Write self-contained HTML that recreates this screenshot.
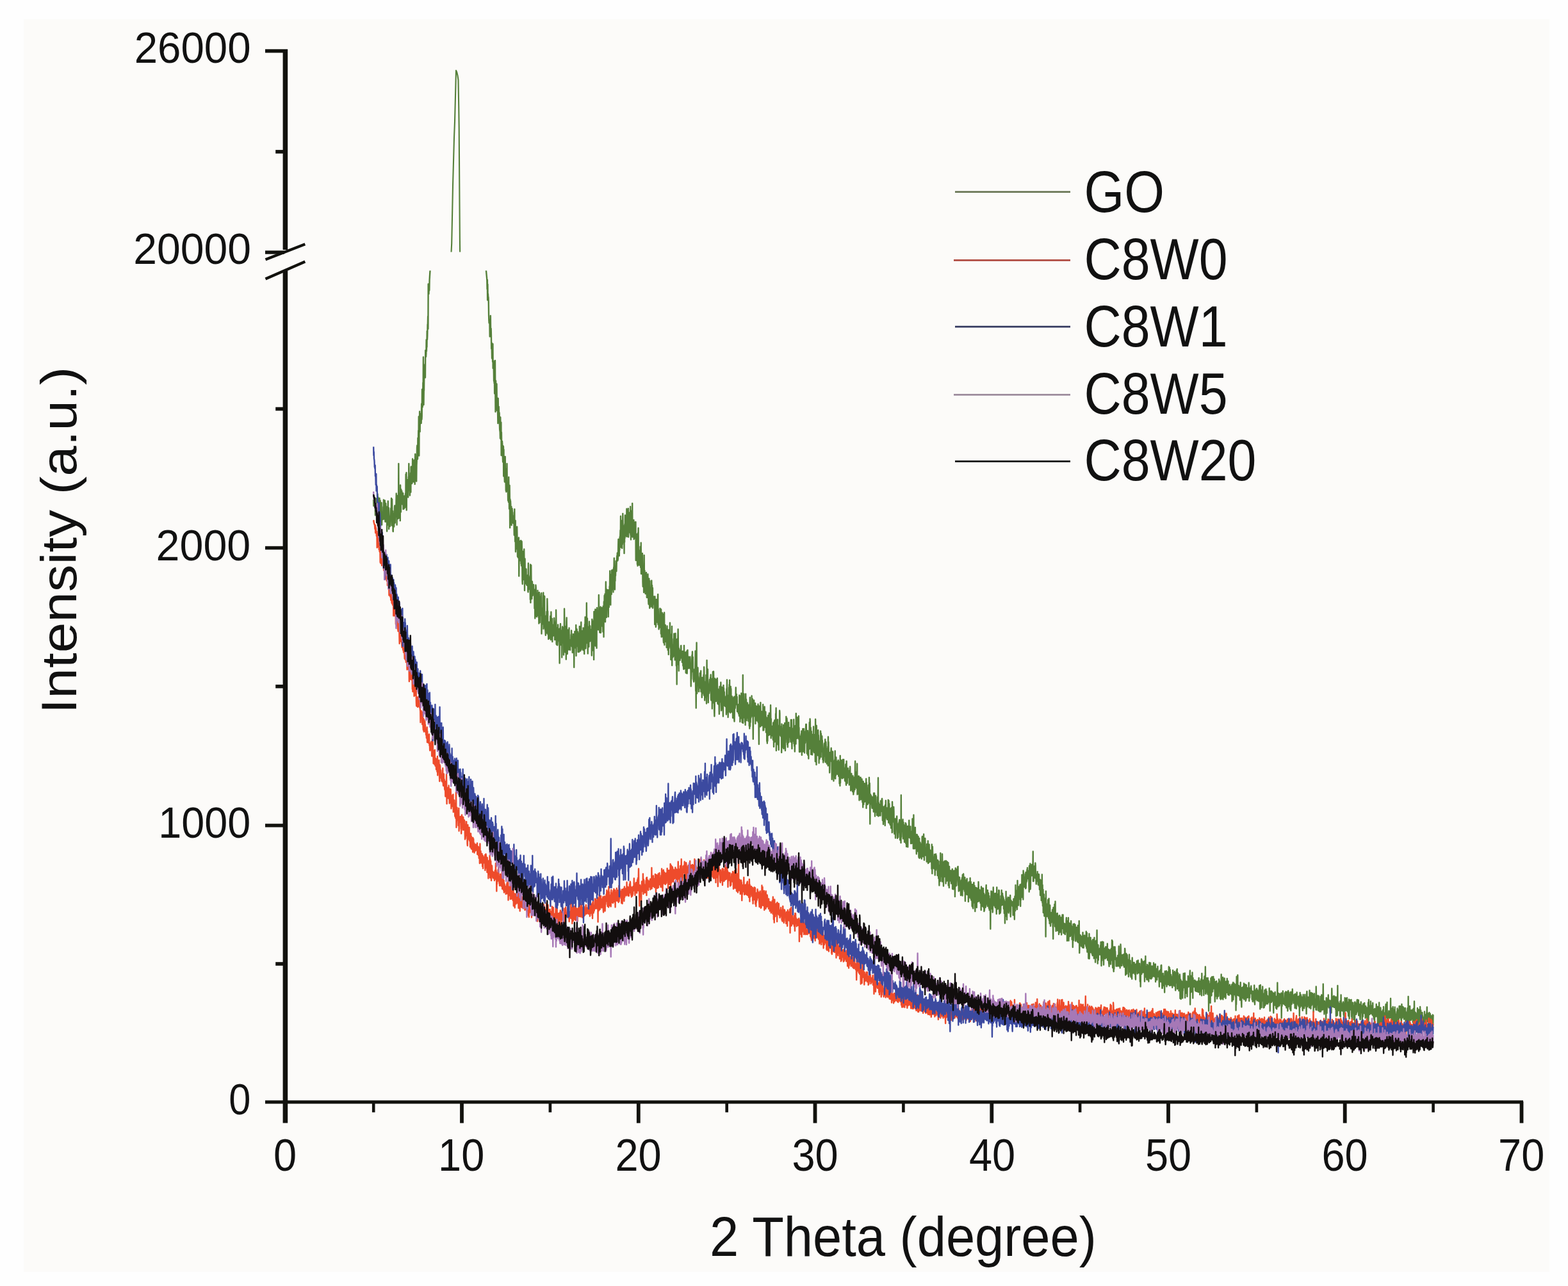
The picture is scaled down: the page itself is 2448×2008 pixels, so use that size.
<!DOCTYPE html><html><head><meta charset="utf-8"><title>XRD</title><style>html,body{margin:0;padding:0;background:#ffffff;}svg{display:block;}text{font-family:"Liberation Sans",Arial,sans-serif;fill:#111;}</style></head><body>
<svg width="2448" height="2008" viewBox="0 0 2448 2008">
<rect x="0" y="0" width="2448" height="2008" fill="#fefefe"/>
<rect x="37" y="30" width="2382" height="1956" fill="#fcfbf9"/>
<defs><clipPath id="cp" clipPathUnits="userSpaceOnUse"><rect x="440" y="0" width="1900" height="393.5"/><rect x="440" y="422.5" width="1900" height="1300"/></clipPath></defs>
<g clip-path="url(#cp)">
<path d="M0 1560 l1 20 1-14 1 5 1 2 1-4 1-4 1 17 1-1 1-25 1 53 1-5 1-35 1 27 1-22 1 8 1 18 1-43 1 52 1 11 1 1 1-42 1 34 1-70 1 42 1 18 1-50 1 36 1 90 1-13 1-51 1 2 1-50 1-6 1-5 1 55 1 6 1-39 1-15 1 42 1 2 1-12 1 40 1-40 1 3 1-28 1 35 1 34 1-35 1 0 1 11 1-4 1 8 1 0 1 3 1-39 1 31 1-53 1 53 1-43 1 34 1 16 1-25 1 15 1-48 1 22 1 44 1-51 1 51 1-57 1 14 1-5 1 32 1 15 1-45 1 26 1 50 1-54 1-13 1 34 1-17 1-13 1-31 1 74 1-39 1 16 1-30 1 66 1-15 1 6 1-30 1 16 1 11 1 4 1-20 1-11 1-9 1-11 1-6 1 36 1-17 1-50 1 52 1 33 1-38 1-44 1 47 1 25 1-17 1-18 1 63 1 1 1-56 1 25 1-13 1 11 1 18 1-19 1-21 1-21 1-5 1 21 1 33 1-25 1-7 1 5 1-7 1 14 1-48 1-24 1 33 1-12 1 77 1-51 1-3 1-37 1 50 1-26 1 48 1-9 1-46 1 32 1-149 1 117 1 53 1-14 1-18 1-6 1-40 1 0 1 44 1 42 1-111 1 77 1-1 1 8 1-71 1 28 1 15 1-31 1-7 1 9 1 21 1 12 1-12 1 1 1-22 1-2 1 50 1-34 1-2 1 27 1 8 1-1 1-16 1-23 1 8 1-5 1 33 1-32 1 8 1-20 1 38 1-98 1 67 1 9 1-81 1 117 1-66 1-2 1-27 1 53 1-20 1-24 1 21 1 12 1 13 1-30 1-34 1 9 1-50 1 42 1 40 1 1 1-28 1-9 1 53 1-38 1 15 1-16 1-31 1 60 1-79 1-1 1 20 1-10 1 3 1-3 1 43 1-26 1 5 1-56 1 19 1 53 1-66 1 65 1-64 1 36 1-34 1 27 1-32 1 16 1 53 1-60 1 66 1-72 1-22 1 33 1-15 1 58 1-27 1 6 1-4 1 34 1-50 1-12 1-43 1-7 1 26 1 17 1-3 1-63 1 47 1-27 1-43 1 40 1-84 1 66 1 56 1-103 1 24 1-59 1 26 1 37 1-56 1 23 1-15 1-6 1 10 1 3 1 15 1-17 1-44 1 49 1-10 1-84 1 57 1-2 1-1 1-18 1-57 1 23 1-103 1 94 1 55 1-43 1-2 1-45 1-20 1-8 1 26 1-33 1-2 1 42 1-85 1 2 1 15 1 3 1-9 1-44 1 36 1-18 1 5 1-50 1 27 1-11 1-37 1-1 1-24 1 39 1-140 1 31 1-22 1 22 1-23 1-7 1 19 1-32 1-10 1-9 1-8 1-8 1-8 1-6 1-7 1-5 1-5" transform="translate(583.17 0) scale(0.2757 0.5)" fill="none" stroke="#55803a" stroke-width="2.40" vector-effect="non-scaling-stroke" stroke-linejoin="round" />
<path d="M704.2 400.0 705.2 380.0 706.0 340.0 707.0 290.0 707.8 260.0 709.0 215.0 710.0 190.0 711.0 150.0 712.0 110.0 713.3 113.0 714.5 118.0 715.5 125.0 716.2 165.0 716.7 200.0 717.1 260.0 717.5 320.0 717.9 375.0 718.2 400.0" fill="none" stroke="#55803a" stroke-width="2.1" stroke-linejoin="round"/>
<path d="M0 810 l1 4 1 5 1 5 1 5 1 5 1 5 1 5 1 6 1 6 1 6 1 6 1 7 1 28 1-29 1 63 1-49 1 49 1-19 1 9 1 1 1 16 1 40 1 17 1 8 1-6 1 1 1 3 1 44 1-53 1 2 1 27 1-41 1 48 1 12 1-20 1 20 1 43 1-19 1 16 1 33 1-39 1-7 1 36 1 21 1-56 1 76 1-21 1 4 1-6 1 25 1 38 1-7 1 14 1-28 1 60 1-4 1-31 1-68 1 81 1 79 1-74 1-23 1 81 1-60 1 35 1 12 1-58 1 49 1 34 1-39 1 32 1-14 1 33 1 28 1-78 1 27 1 24 1-25 1 0 1 18 1 7 1-6 1 33 1 19 1 4 1 4 1 20 1-66 1 40 1 15 1 15 1-54 1 103 1-72 1 38 1 19 1 15 1-44 1 9 1 31 1 11 1 14 1-22 1-28 1 2 1 92 1-83 1 63 1-7 1 19 1 10 1 16 1-35 1 17 1-61 1 60 1-22 1 25 1 43 1-27 1 31 1-32 1 20 1-19 1-57 1 55 1 15 1 15 1-2 1-1 1 33 1-7 1-26 1 38 1-78 1 50 1 6 1 43 1-61 1-12 1 49 1 83 1-89 1 6 1-1 1 10 1 38 1 22 1-39 1-13 1 58 1-46 1 3 1-9 1 5 1 19 1-12 1 24 1-6 1 16 1-23 1 9 1 15 1-1 1 4 1 33 1-60 1-21 1 77 1-24 1 48 1-38 1-27 1 97 1-47 1-22 1-5 1 39 1-31 1 32 1 25 1-69 1 31 1 26 1 36 1-18 1-36 1 57 1-49 1 8 1 18 1-39 1 120 1-50 1-25 1-20 1-14 1 46 1 11 1-28 1 4 1 28 1-15 1-48 1 72 1-9 1 16 1-40 1-36 1 27 1 45 1 52 1 9 1-55 1-47 1 33 1 24 1 2 1-8 1 37 1-61 1-34 1 38 1-6 1 97 1-66 1-33 1 59 1 13 1-25 1 5 1 25 1-12 1-33 1 38 1 11 1-14 1 16 1-6 1-22 1 4 1 23 1-31 1 49 1 4 1-90 1 56 1-17 1 5 1 23 1-8 1 22 1-5 1 3 1-31 1 13 1 52 1-109 1 119 1-63 1 50 1-104 1 62 1 36 1-18 1 25 1-52 1-2 1 11 1 33 1 0 1-15 1-3 1 1 1 11 1-28 1 26 1-1 1-10 1 0 1 59 1-58 1 30 1 59 1-47 1-19 1 29 1-67 1 6 1 25 1 6 1 5 1 57 1-4 1-47 1 9 1-31 1 36 1-45 1 78 1-52 1 31 1-50 1 77 1-20 1 39 1-51 1-46 1 25 1-12 1 81 1-60 1-2 1 39 1-7 1 8 1-27 1-40 1 19 1-22 1 127 1-37 1-43 1 38 1 2 1 0 1-1 1 11 1-21 1-63 1-14 1 113 1-18 1-85 1 75 1-28 1 10 1-56 1 94 1-23 1 26 1 8 1 6 1 11 1-37 1-1 1-23 1 33 1-21 1-25 1 67 1-13 1-94 1 24 1 46 1-31 1 72 1-28 1 11 1 32 1-9 1-44 1 25 1-10 1 16 1-6 1 25 1-24 1-28 1 17 1-34 1 41 1 33 1-58 1-29 1 44 1-11 1 15 1-16 1 19 1-30 1 72 1-49 1 21 1 7 1-28 1 31 1-30 1-5 1 7 1 20 1-48 1 10 1 3 1 7 1 48 1-32 1-7 1 13 1 25 1-49 1 49 1-92 1 40 1 66 1 2 1-37 1-16 1 35 1-34 1 54 1-9 1-11 1-44 1 50 1-33 1 1 1-5 1 9 1 17 1 10 1 1 1 70 1-102 1 42 1-50 1 13 1-26 1 66 1-26 1-3 1-6 1 29 1-39 1 25 1 59 1-73 1-13 1-10 1 51 1-20 1-23 1-1 1 24 1-28 1 85 1-62 1-2 1 5 1-85 1 49 1 30 1 9 1-33 1 81 1-34 1 24 1-3 1-38 1 73 1-63 1-55 1-12 1 64 1 24 1-21 1 46 1-56 1 24 1 5 1-48 1 37 1 2 1 20 1 3 1-6 1-62 1 56 1 9 1-28 1 20 1 1 1 11 1-30 1 11 1-7 1-3 1-19 1 8 1-21 1 25 1 24 1-2 1 4 1-23 1 41 1-51 1 34 1-10 1-31 1 1 1 39 1-19 1 6 1 77 1-69 1-12 1 17 1-48 1 23 1 28 1-45 1 21 1-4 1 8 1-51 1 96 1-50 1 17 1-43 1-7 1 36 1-10 1 27 1-43 1-2 1 36 1 27 1-11 1-26 1 8 1-29 1 58 1-5 1-1 1-74 1 68 1-44 1 33 1-1 1 21 1-38 1-5 1-18 1-29 1 86 1-55 1 43 1-29 1-5 1 41 1-3 1-51 1 22 1 4 1 34 1-69 1 23 1 8 1 38 1-11 1-40 1 63 1-37 1-34 1-21 1 29 1-52 1 70 1 9 1 19 1-21 1-61 1 39 1 26 1-125 1 82 1 39 1-16 1-57 1 41 1 14 1 55 1-69 1-14 1 31 1 2 1 5 1 24 1-42 1-37 1 38 1-1 1 25 1-4 1-44 1 41 1 5 1-33 1 30 1-22 1 0 1-10 1 25 1 56 1-74 1-39 1 25 1-10 1 23 1-13 1 72 1-50 1 30 1-72 1 13 1 108 1-150 1 49 1-48 1 85 1-83 1 30 1 2 1-42 1 114 1-74 1 49 1-65 1-22 1 46 1-2 1 75 1-111 1-15 1 23 1 28 1 6 1-37 1 10 1 25 1 14 1-60 1 32 1-81 1 49 1 38 1-13 1-6 1 49 1-53 1-23 1 35 1-1 1-38 1 81 1-4 1-65 1-9 1 21 1 36 1-52 1-5 1 2 1 22 1 4 1-18 1 37 1 28 1-80 1 44 1-16 1 68 1-110 1 14 1 11 1-44 1 32 1 25 1-62 1 46 1 41 1-81 1 3 1-47 1 66 1-44 1 60 1 29 1-32 1-39 1 39 1-33 1-21 1 17 1 19 1-19 1 23 1 44 1-45 1 3 1-42 1 54 1-29 1 17 1-53 1 27 1-75 1 54 1-16 1-6 1 74 1-94 1 36 1-2 1 17 1 10 1-75 1 27 1-7 1 36 1 4 1-40 1-6 1-16 1 36 1 34 1-39 1-33 1-6 1 1 1-29 1 92 1-49 1-14 1 69 1-59 1 32 1-36 1 20 1-31 1-15 1 19 1 6 1 7 1-27 1-15 1-6 1 16 1-25 1 2 1 22 1-2 1-5 1-38 1-22 1 46 1-7 1-17 1 14 1 16 1-32 1 14 1-41 1 18 1-19 1-20 1 50 1-94 1 76 1 21 1-13 1-57 1 47 1-60 1 24 1 62 1-38 1 26 1-66 1-30 1 35 1 55 1-12 1 2 1-36 1-1 1-5 1 86 1-81 1 46 1-56 1 43 1-71 1 15 1 23 1-28 1 4 1 5 1-12 1 58 1-13 1-72 1 87 1-50 1-1 1-4 1 29 1-5 1-35 1 16 1-38 1 89 1-76 1-1 1 5 1 25 1 17 1-30 1 11 1-10 1 46 1-29 1-53 1 89 1-23 1 37 1-71 1 5 1 9 1-33 1 30 1 47 1-14 1-86 1 105 1-24 1 14 1-20 1 6 1-2 1 2 1-29 1 60 1-21 1 7 1 1 1-16 1 9 1-33 1 47 1 3 1-12 1-39 1 120 1-71 1 8 1-6 1-5 1 9 1-17 1 17 1 77 1-21 1 26 1-71 1-32 1 18 1-33 1 108 1 7 1-28 1 10 1 3 1-10 1 26 1-46 1 19 1 8 1-39 1 22 1 43 1 0 1-77 1 97 1-14 1 14 1-21 1 20 1-50 1 28 1-41 1 40 1 50 1 14 1-42 1-21 1 45 1-7 1 43 1-34 1-82 1 69 1-9 1-12 1 28 1 0 1-10 1 54 1-30 1 2 1-1 1 27 1-64 1 67 1-39 1 50 1 0 1-25 1-25 1 22 1 4 1-49 1 33 1-9 1 60 1 10 1-66 1 7 1-21 1 46 1 17 1 29 1-85 1 64 1-29 1-14 1 5 1-4 1 36 1-11 1 34 1-57 1-25 1 26 1 39 1-50 1 22 1 37 1-51 1 63 1-13 1-24 1 17 1-11 1 4 1 3 1 12 1-2 1-17 1-5 1 87 1-87 1 28 1 39 1-4 1-46 1 78 1-5 1-57 1-24 1 54 1-21 1-1 1-13 1 8 1 22 1 23 1-81 1-7 1 94 1-48 1 44 1-14 1 33 1-8 1-31 1 5 1 22 1 6 1-36 1-23 1 46 1-3 1-1 1-22 1 59 1-76 1 35 1 51 1-65 1 43 1 2 1 1 1-56 1 74 1-22 1 11 1-4 1-6 1 33 1 7 1-89 1 31 1 18 1-54 1 101 1-60 1 37 1-8 1-15 1-16 1 18 1 14 1 20 1-26 1-4 1 5 1 43 1-27 1-25 1-15 1 24 1-13 1 15 1 49 1-17 1-6 1 0 1 37 1-77 1 44 1-21 1 14 1 2 1-12 1 24 1-73 1 68 1 11 1-43 1 0 1 79 1-75 1 15 1-10 1 5 1-1 1-38 1 122 1-83 1 30 1-11 1 39 1-17 1 12 1 2 1-8 1-21 1 24 1-66 1 67 1-4 1-10 1-43 1 72 1-53 1 36 1-66 1 45 1-11 1-3 1 4 1 66 1-48 1 11 1 95 1-141 1 80 1-50 1-6 1 6 1-36 1-25 1 44 1 16 1 35 1 35 1-70 1 28 1 3 1-17 1 18 1-26 1 31 1-20 1 8 1 6 1-2 1-37 1-1 1 35 1-13 1 2 1 12 1-15 1 31 1 0 1-34 1 35 1-35 1 45 1-2 1-15 1 24 1 4 1-14 1-60 1 53 1 7 1 12 1-47 1 46 1-9 1 2 1-43 1 11 1 53 1-7 1-24 1 32 1-21 1-17 1-31 1 70 1-30 1 10 1-53 1 34 1 23 1-14 1-12 1-10 1 36 1-15 1 2 1 2 1-23 1 23 1-7 1 18 1-36 1 7 1 31 1-5 1 9 1 50 1-33 1 11 1-18 1-13 1-17 1-27 1 12 1-23 1 32 1-11 1-4 1 47 1-10 1 35 1 1 1 4 1-3 1-15 1-20 1 26 1-17 1 2 1 17 1-39 1-47 1 86 1 39 1-17 1 70 1-134 1 7 1-77 1 87 1 72 1-6 1-68 1 12 1-6 1-13 1 30 1-2 1 12 1 5 1 12 1 18 1-37 1-3 1 6 1 12 1-14 1-22 1 13 1 33 1-45 1 48 1-56 1 65 1-13 1-20 1 5 1-4 1 50 1-55 1-7 1 30 1 19 1-20 1-12 1 31 1-45 1 0 1-12 1 64 1-88 1 24 1 46 1-1 1 35 1-33 1-24 1 49 1-7 1 2 1-2 1-13 1-51 1 11 1 78 1-49 1-86 1 87 1 24 1-14 1-9 1-60 1 62 1-5 1 47 1-43 1-1 1-9 1 8 1 16 1-25 1-9 1-9 1 35 1-11 1 1 1-31 1 19 1-28 1 74 1 6 1-19 1-13 1 15 1-50 1 5 1 88 1-80 1 25 1-15 1-45 1 45 1 39 1 13 1-98 1 25 1 26 1 40 1 31 1 18 1-30 1-54 1-34 1 70 1-30 1 7 1-9 1-9 1 42 1-49 1-19 1 27 1 21 1-10 1 5 1-47 1 28 1 51 1-32 1-13 1 47 1-43 1 34 1-14 1 6 1 16 1 32 1-25 1-54 1-7 1 21 1 4 1 23 1-17 1 4 1-48 1 43 1 25 1 20 1-7 1-33 1-33 1 31 1 1 1-4 1 11 1 7 1-1 1 46 1-82 1-15 1 51 1-42 1 27 1 4 1-19 1 42 1-4 1-12 1 12 1 7 1-29 1 23 1-11 1-3 1-12 1 57 1-36 1-44 1 49 1-77 1 72 1 13 1 17 1-30 1-23 1 68 1-23 1 7 1-39 1 23 1-61 1 66 1-75 1 28 1-42 1 99 1-6 1-38 1 47 1-29 1-53 1 41 1-34 1 47 1 8 1-28 1 40 1 6 1-49 1 37 1-16 1-5 1 51 1-61 1 9 1 8 1 17 1 5 1-43 1 59 1 12 1 5 1-47 1-17 1-14 1 37 1-11 1 1 1-14 1-41 1 49 1 4 1-5 1-27 1 30 1 3 1-25 1 46 1-19 1 6 1 14 1-23 1 4 1 16 1 6 1 3 1-27 1 25 1 9 1-65 1 26 1 8 1 3 1 46 1-16 1-33 1 0 1-32 1 10 1 60 1-78 1 60 1-34 1 3 1 13 1 49 1-38 1 15 1 23 1-148 1 150 1-90 1 9 1 51 1-48 1-13 1 74 1-44 1 39 1-12 1-17 1 48 1-49 1 58 1-74 1-23 1 28 1 24 1-35 1 11 1 55 1-32 1 25 1-12 1-32 1-4 1 24 1-3 1-15 1 0 1 51 1-10 1-13 1-22 1-2 1 62 1-66 1 74 1-76 1-21 1 90 1-56 1 44 1-28 1-17 1 30 1-31 1 19 1-15 1-41 1 63 1-42 1 21 1 15 1-47 1 51 1 1 1 73 1-66 1-5 1-32 1 17 1-35 1 46 1-14 1-4 1 10 1 12 1-5 1-36 1 64 1-32 1 8 1-8 1-23 1 31 1-16 1-11 1 25 1 17 1-4 1-10 1-32 1 13 1 10 1-29 1 57 1-18 1-34 1 70 1 50 1-119 1 25 1-12 1 40 1-53 1 47 1-2 1 19 1-75 1 29 1 14 1 30 1-22 1 17 1 2 1-42 1 20 1-6 1 2 1-14 1 42 1-11 1-55 1 81 1-46 1-23 1 68 1-31 1 10 1-12 1 3 1-43 1 64 1-37 1 19 1-2 1-21 1-7 1 28 1 36 1-48 1 2 1 18 1-17 1 73 1-37 1 43 1-57 1 50 1-69 1 21 1-32 1 9 1 11 1 23 1 19 1-40 1-29 1 37 1-4 1-8 1 34 1 8 1-59 1 14 1-47 1 50 1 53 1-60 1 46 1-5 1-1 1 1 1-18 1 28 1 2 1-18 1-9 1 34 1 5 1-53 1 55 1-37 1 57 1-66 1-7 1-7 1 65 1-68 1 43 1-29 1 47 1 6 1-11 1-76 1 12 1-30 1 133 1-81 1 5 1 12 1 14 1-29 1 18 1-4 1-32 1 78 1-1 1-43 1-3 1 50 1 14 1-59 1 14 1-32 1 26 1-72 1 8 1 67 1-15 1 14 1-7 1 13 1-8 1-11 1 15 1-27 1 82 1-89 1 15 1 32 1-31 1 33 1 13 1-17 1-30 1 59 1-36 1-35 1 74 1-45 1 11 1 7 1-35 1 36 1-54 1 7 1 15 1 64 1-39 1 14 1-39 1 24 1-66 1 47 1 17 1-24 1-35 1 8 1 57 1 18 1-43 1 50 1-73 1 48 1-7 1 18 1-63 1 62 1-22 1-24 1 10 1 6 1 13 1-28 1 0 1 23 1-3 1 14 1 10 1-69 1 44 1 14 1-10 1-48 1 65 1 25 1-47 1-16 1 40 1-19 1 2 1 3 1-17 1 12 1-18 1-31 1 75 1-19 1-9 1 36 1-37 1 54 1-30 1-27 1-24 1 43 1-6 1 20 1-95 1 67 1 9 1 2 1-5 1 5 1-66 1 51 1-9 1-22 1 42 1-13 1-19 1-6 1 43 1-71 1 61 1-25 1 31 1 45 1-2 1-47 1 39 1 10 1-22 1 21 1-40 1 10 1-18 1-7 1 10 1-19 1 17 1 58 1-38 1-22 1 48 1-7 1-63 1 10 1 61 1-41 1 2 1-17 1-15 1 57 1-49 1 34 1 33 1-33 1-18 1 21 1-2 1-25 1 18 1-37 1-13 1 30 1-30 1 28 1 13 1 8 1 42 1-69 1 11 1 0 1-13 1 76 1-70 1 14 1 1 1 66 1-69 1-11 1 51 1-48 1-36 1 82 1-5 1-88 1 8 1 56 1-23 1-14 1 8 1 76 1-18 1-54 1 24 1 7 1-11 1 8 1 45 1-60 1-3 1 19 1-16 1 6 1 1 1-35 1 77 1-47 1 51 1-55 1-1 1 30 1-13 1 29 1-4 1 42 1-132 1 48 1 26 1-4 1 5 1 67 1-122 1 75 1-23 1 7 1 27 1-28 1 22 1 13 1-2 1-77 1 32 1-16 1 13 1 16 1 58 1-69 1 9 1 4 1 43 1-52 1 26 1 10 1-6 1-65 1 19 1 62 1-73 1 39 1-31 1 48 1-11 1-37 1 33 1-20 1 14 1 46 1-24 1 2 1 31 1-36 1 31 1-22 1-3 1-15 1-11 1-4 1 3 1 37 1-2 1-50 1 71 1-45 1 6 1-24 1 14 1 44 1-10 1-27 1 47 1-31 1 4 1 25 1-14 1-19 1-18 1 59 1-90 1 44 1-28 1 30 1 36 1-29 1-1 1 9 1 51 1-14 1-28 1-21 1 7 1 19 1-14 1 3 1-22 1-7 1 7 1 36 1-30 1 85 1-48 1 3 1 10 1-50 1-2 1 23 1 21 1 0 1 27 1 21 1-34 1 25 1-42 1 15 1-27 1-3 1 34 1-62 1 75 1 12 1-57 1 47 1-29 1-28 1 34 1 4 1 13 1-32 1 12 1-18 1 40 1-26 1 23 1-36 1 20 1-25 1 5 1 45 1-31 1 3 1 20 1-36 1 67 1-65 1 9 1 63 1-94 1 85 1-33 1 4 1-37 1 30 1-35 1 55 1-33 1-5 1 4 1 8 1 28 1-14 1-27 1-18 1 13 1 44 1-7 1-38 1-12 1 38 1-12 1 27 1-16 1 13 1 11 1 6 1-29 1 22 1-30 1-15 1 35 1 24 1 6 1-35 1-40 1 50 1-13 1 21 1 11 1-36 1-6 1 8 1-6 1-7 1 29 1-22 1 11 1 0 1-6 1 40 1-36 1 8 1 23 1-22 1-30 1 23 1 1 1 27 1 24 1-34 1-7 1 38 1-50 1 24 1 5 1-12 1-3 1 9 1 33 1-22 1-27 1 21 1 17 1 20 1-23 1-13 1 28 1-11 1-17 1-18 1 18 1 21 1-47 1-42 1 81 1-48 1 6 1 27 1-1 1 8 1 3 1 9 1-17 1-14 1-46 1 96 1-10 1-4 1-14 1-19 1 40 1-20 1-30 1 56 1-56 1 23 1 52 1-59 1 23 1 21 1-23 1-33 1 22 1 11 1-33 1 69 1-26 1 10 1-10 1 4 1-17 1-25 1 61 1-25 1 36 1-63 1 32 1 47 1-81 1 4 1 33 1 35 1-66 1 29 1-5 1-8 1 8 1 34 1-24 1-33 1 16 1 17 1-34 1 17 1 7 1-38 1 92 1-80 1 39 1-10 1-4 1 43 1-26 1-21 1 47 1-13 1-37 1-10 1 56 1-23 1-30 1 47 1-74 1 46 1-2 1-26 1 62 1 65 1-65 1-5 1-22 1 12 1 8 1 9 1-25 1 13 1-6 1 19 1 9 1 4 1-34 1-1 1 28 1-21 1-4 1 21 1-1 1 23 1-58 1 54 1-36 1 27 1-45 1 27 1-10 1 55 1-62 1 49 1-44 1-7 1 33 1 18 1-25 1 15 1-7 1-7 1 34 1-31 1 20 1-46 1 23 1 26 1-40 1-69 1 120 1-17 1-25 1 15 1-9 1 17 1 17 1-18 1-9 1-8 1 8 1-7 1 34 1-46 1 11 1 22 1 0 1-1 1-15 1 15 1-37 1-2 1 6 1 39 1 23 1-41 1-2 1 6 1 49 1-36 1-2 1-15 1 25 1 19 1-25 1-22 1 48 1-29 1 41 1-64 1 21 1 10 1-45 1 42 1 12 1-16 1 13 1-5 1-23 1 36 1-33 1 11 1-10 1 32 1-25 1 1 1-37 1 42 1 29 1-69 1 56 1-9 1-37 1 30 1 31 1-21 1 9 1 17 1-32 1 28 1-47 1 9 1 52 1-1 1-9 1-54 1 29 1-14 1 63 1-96 1 26 1 15 1 21 1-29 1 16 1 14 1-5 1-42 1 14 1 65 1-35 1 40 1-7 1-7 1-23 1 33 1-43 1 60 1-36 1 1 1-21 1-4 1 8 1-5 1-7 1-4 1 29 1 22 1 18 1-26 1-19 1 17 1 25 1-34 1 19 1-13 1-5 1-14 1 28 1-33 1-3 1 30 1 14 1 19 1-20 1-25 1 4 1 28 1 22 1-149 1 131 1-21 1-6 1-14 1 2 1-12 1 33 1-26 1 17 1-28 1 60 1-11 1-40 1 36 1-18 1-10 1 21 1 18 1 15 1-27 1 21 1-11 1 1 1 7 1-51 1 22 1 42 1-61 1 11 1 60 1-63 1 26 1 3 1-11 1 27 1-1 1-45 1 65 1-55 1 8 1 7 1 8 1-28 1 30 1-53 1 38 1-9 1 5 1 13 1 8 1-21 1 18 1-33 1 25 1 28 1-34 1 8 1 7 1 19 1-9 1-11 1-18 1 31 1-70 1 71 1-24 1 30 1-15 1 31 1-42 1-63 1 78 1-10 1 9 1 28 1-45 1 45 1-5 1 4 1-65 1 47 1-18 1 6 1-7 1 11 1 27 1 17 1-21 1-40 1 53 1-52 1 18 1 33 1-36 1 28 1-20 1-18 1 29 1-15 1 49 1 3 1-6 1-54 1 62 1-33 1 5 1-6 1-15 1 15 1 16 1 15 1-20 1-11 1-10 1 4 1 42 1-20 1-9 1-39 1-2 1 52 1 0 1 11 1-19 1-17 1-22 1 17 1-29 1 56 1 5 1 20 1-68 1 10 1 44 1-6 1-48 1 28 1 17 1-9 1 17 1-7 1-12 1 21 1-9 1 27 1-55 1 27 1-9 1 10 1 20 1 0 1-58 1 70 1-13 1 1 1-9 1 19 1-11 1-46 1 25 1 9 1-2 1-1 1 23 1-36 1 9 1-5 1 21 1 11 1-28 1 28 1-19 1 41 1-76 1 48 1 43 1-50 1-34 1 25 1 31 1-23 1 34 1-20 1-12 1 3 1 19 1 12 1-37 1-8 1 1 1 35 1 29 1-48 1 25 1-22 1 29 1-50 1 44 1-39 1 10 1 25 1-11 1 4 1 13 1-4 1 25 1-15 1-33 1 17 1-10 1 4 1 46 1-53 1 44 1 5 1 26 1-56 1 5 1 2 1-14 1 46 1 4 1-88 1 41 1 32 1-46 1 8 1 15 1 0 1-3 1 1 1 41 1-86 1 39 1-13 1 29 1-14 1 20 1-9 1 48 1-75 1 18 1 29 1-26 1 11 1-35 1 48 1-17 1 14 1-30 1-2 1 4 1 53 1-71 1 46 1-3 1 21 1-20 1-27 1 32 1-46 1 59 1-24 1-13 1 5 1 23 1-47 1 71 1-50 1 47 1-27 1 37 1-66 1 45 1-20 1-11 1 31 1-22 1-10 1 11 1-11 1 12 1 4 1 24 1-24 1-14 1 32 1-23 1-12 1-4 1 62 1-39 1 37 1-54 1-1 1 58 1-41 1 2 1 0 1-16 1 43 1-46 1 41 1-38 1 78 1-39 1 8 1-58 1 43 1-20 1-20 1 17 1 35 1-16 1-11 1-2 1 0 1 3 1 5 1-37 1 25 1-27 1 46 1 13 1-21 1 39 1-44 1 17 1 24 1-19 1-21 1 29 1-20 1 32 1-7 1-20 1 16 1 26 1-12 1-6 1-21 1-7 1-3 1 37 1-43 1 31 1 25 1-65 1 40 1-27 1 18 1 14 1-48 1 11 1 19 1 13 1-12 1-11 1 34 1-37 1-6 1 32 1 42 1-54 1 9 1-18 1 8 1-10 1 29 1-19 1-2 1 36 1-49 1 50 1-23 1-14 1 18 1-5 1 13 1-11 1 44 1-17 1 2 1-47 1 18 1 31 1-11 1-12 1-1 1 23 1-60 1 22 1-10 1 52 1-52 1 23 1 34 1-39 1 18 1-5 1 14 1 31 1-68 1 23 1 35 1 15 1-53 1 55 1-36 1 0 1-41 1-4 1 36 1-5 1 1 1-22 1 54 1-33 1 59 1-59 1 12 1 8 1-22 1-13 1 0 1 22 1-10 1 50 1-50 1 26 1 2 1-13 1-25 1 33 1 9 1-16 1-2 1-44 1 22 1 18 1 8 1 12 1-21 1 12 1-26 1 33 1 3 1-17 1 22 1-25 1-4 1 5 1 46 1-73 1 37 1-11 1 10 1-32 1 57 1-13 1-18 1-3 1 10 1 18 1-50 1 59 1-34 1 24 1-33 1 56 1-34 1 31 1-48 1 0 1 36 1-9 1-7 1 19 1-9 1-23 1-30 1-8 1 59 1-2 1-29 1 29 1-15 1 6 1 18 1-50 1 38 1 4 1-14 1 7 1-26 1 26 1 21 1-8 1-30 1 44 1-23 1 18 1-25 1 13 1-4 1 80 1-94 1 29 1-23 1-30 1 40 1 15 1-10 1 1 1-44 1 35 1-34 1 63 1-4 1-52 1 13 1-35 1 28 1 6 1-14 1 7 1 29 1-18 1 20 1-18 1 6 1-27 1 44 1-42 1 16 1-18 1 35 1-31 1 33 1 27 1-32 1-51 1 65 1-17 1 9 1-4 1 15 1-2 1-22 1-23 1 23 1 17 1-52 1 40 1-39 1 58 1 15 1-19 1-26 1 24 1 11 1 7 1-5 1-6 1-42 1 18 1 12 1-9 1-39 1 35 1-10 1 18 1 3 1-36 1 14 1 19 1-24 1 20 1-16 1 3 1 32 1-20 1-8 1 42 1-37 1 6 1 2 1 60 1-47 1 5 1-25 1 25 1 6 1-63 1 57 1 17 1 4 1-31 1 41 1-59 1 34 1-9 1-32 1 41 1-45 1 12 1 11 1-22 1 48 1-33 1-15 1 29 1-5 1-21 1 11 1 28 1-1 1-48 1 51 1 16 1-13 1-32 1-6 1 14 1-11 1 8 1-7 1 6 1-4 1 10 1 2 1-11 1-3 1 42 1-14 1-9 1-28 1 29 1-16 1 14 1-8 1 45 1-50 1-22 1 41 1 1 1 3 1-80 1 33 1 2 1-18 1 35 1 10 1 7 1-4 1-19 1 30 1-27 1-63 1 49 1-10 1 21 1-17 1 1 1 33 1-44 1-14 1 36 1 3 1-17 1 1 1-13 1-16 1 10 1-8 1 65 1-51 1 32 1-33 1-17 1 21 1-2 1 22 1-70 1 31 1 15 1-25 1 17 1-10 1 34 1 15 1-90 1 9 1 14 1 14 1-3 1-9 1 22 1 4 1-18 1-9 1 6 1-20 1 34 1 12 1-51 1 49 1-33 1 17 1-18 1-4 1 17 1-36 1 14 1-20 1 34 1-16 1-2 1-5 1 23 1-8 1-11 1-6 1 47 1 19 1-81 1 49 1-15 1-5 1 2 1-38 1 80 1-9 1-43 1-1 1 3 1-18 1 26 1-14 1-21 1 12 1-4 1 1 1 5 1 21 1-22 1-54 1 93 1-43 1 43 1-25 1 7 1-29 1 20 1-10 1 7 1 11 1-17 1 26 1-47 1 7 1 32 1 3 1 12 1 12 1-17 1 0 1-9 1-1 1-4 1 5 1-13 1 10 1 21 1-5 1 15 1-32 1 4 1 19 1-24 1 2 1 34 1-16 1 28 1-12 1-9 1-10 1 49 1-24 1-13 1-10 1 8 1 12 1 43 1-40 1 27 1 1 1-69 1 44 1 44 1-55 1 65 1-21 1-30 1 72 1-37 1 36 1-26 1-30 1 52 1 16 1-9 1-47 1 38 1-34 1 13 1 40 1-54 1 117 1-142 1 32 1 42 1-17 1 2 1-14 1 34 1-9 1-8 1-11 1-12 1 30 1-42 1 31 1 25 1 2 1-21 1-41 1 62 1 7 1-16 1 25 1-5 1-52 1 29 1-5 1 41 1-9 1-18 1 9 1 7 1-31 1 11 1 2 1-6 1 2 1 11 1-29 1 3 1 49 1 4 1 35 1-98 1 42 1-38 1 21 1 7 1 12 1 4 1-58 1 36 1 33 1-18 1-60 1 39 1 4 1 35 1 15 1-55 1 32 1-15 1 17 1-15 1-17 1 9 1-12 1 54 1-43 1 26 1-27 1 4 1 18 1-15 1 49 1-12 1-47 1 32 1 20 1-52 1 15 1 37 1-44 1 29 1-14 1 6 1-23 1 18 1-6 1 42 1-21 1-10 1-2 1 14 1-43 1 11 1 2 1 3 1-16 1 42 1-18 1 33 1-26 1-4 1 16 1 0 1-13 1 16 1 14 1-32 1 33 1-28 1 21 1-17 1-6 1 13 1-26 1-9 1 30 1-3 1-17 1 62 1-32 1-21 1 24 1 1 1-17 1 3 1-30 1 40 1 32 1-14 1-1 1-31 1-9 1 38 1-11 1-9 1-2 1 25 1-6 1-20 1 7 1-29 1 10 1 33 1-28 1 2 1 22 1 19 1-39 1 10 1 1 1 52 1-27 1-13 1-32 1 51 1-12 1-14 1-24 1 20 1-22 1 24 1-1 1-8 1 11 1-23 1 51 1-23 1-19 1 37 1-4 1-19 1-15 1 21 1 13 1 4 1 6 1-1 1-43 1 30 1-36 1 53 1-10 1 10 1-16 1-1 1-9 1-41 1 48 1 52 1-24 1-27 1 11 1 2 1-18 1 11 1 7 1-15 1 18 1 14 1-6 1-10 1-8 1 17 1-23 1-1 1 35 1-29 1-18 1 41 1-2 1 8 1-22 1 23 1-23 1-15 1 15 1 10 1-26 1 17 1 9 1-12 1 10 1-2 1-14 1 21 1 5 1-46 1 24 1 28 1-6 1-42 1 39 1 21 1-9 1-1 1-16 1 4 1-22 1 22 1 42 1-42 1-16 1 27 1-46 1 78 1-21 1-29 1 4 1-10 1 19 1-1 1-28 1 46 1-24 1-13 1 37 1-3 1-23 1-1 1 32 1-27 1 11 1 21 1-46 1-4 1 12 1 5 1 11 1 17 1-25 1 39 1-26 1-39 1 35 1 13 1 8 1-33 1 12 1 42 1-37 1-19 1-11 1 20 1 15 1-27 1 45 1-38 1-48 1 74 1-11 1-5 1 46 1-52 1 24 1-30 1 47 1-29 1 1 1 10 1-12 1 10 1-15 1 18 1-9 1-11 1 20 1-1 1-27 1 13 1-24 1 32 1 13 1 29 1-38 1 14 1 8 1-13 1-46 1 25 1 14 1 0 1-3 1-18 1-17 1 40 1 31 1-45 1 18 1-19 1 7 1-7 1 25 1-31 1 19 1 14 1-16 1-21 1 34 1-15 1-19 1 19 1-2 1 17 1-19 1 10 1 9 1-44 1 51 1-16 1-18 1 20 1 16 1-30 1-5 1 42 1 3 1 8 1-34 1-17 1 0 1 11 1-11 1 25 1 15 1-41 1 45 1-41 1 3 1-11 1 37 1-14 1 2 1-51 1 40 1 16 1-53 1 83 1-29 1 14 1-24 1 21 1 25 1 5 1-77 1 69 1-55 1 22 1-9 1 4 1-31 1 29 1-15 1 18 1 8 1-3 1-3 1 26 1-18 1 5 1 13 1-24 1 3 1 10 1-16 1 27 1-33 1 8 1 1 1-2 1 5 1-8 1-33 1 62 1-27 1 20 1-31 1 29 1-32 1 47 1-27 1-5 1-42 1 11 1 30 1-2 1 0 1 3 1 25 1-23 1 0 1-6 1-5 1 25 1-13 1 1 1 11 1-3 1 12 1 0 1-35 1 9 1 31 1-24 1 18 1-26 1-26 1 4 1 26 1 5 1 48 1-27 1 0 1 4 1-44 1 29 1-2 1 36 1-46 1-13 1 27 1-4 1 5 1 3 1-1 1-14 1 4 1 48 1-51 1 20 1-26 1-12 1 46 1-12 1 20 1-5 1-13 1-17 1 47 1-32 1 36 1-24 1 4 1-5 1-2 1-11 1 44 1-55 1-11 1 32 1-16 1 28 1-19 1 23 1-18 1-15 1 6 1 19 1-22 1-3 1 11 1 9 1 16 1-14 1 8 1-18 1 35 1 6 1-48 1 15 1-6 1 8 1-10 1-7 1-10 1 14 1 9 1 17 1-7 1-17 1-4 1-14 1 37 1-9 1 9 1 2 1-3 1-11 1-3 1-12 1 0 1 25 1 31 1-45 1 11 1 50 1-48 1-11 1 6 1-4 1-29 1 47 1-44 1 21 1 2 1 15 1-11 1-4 1-18 1 34 1-14 1-6 1-11 1 9 1 17 1-29 1 29 1-1 1 34 1-47 1-18 1 28 1-4 1-38 1 65 1-13 1-5 1-15 1 19 1-10 1 32 1-15 1 12 1-44 1 6 1 8 1-3 1 37 1-20 1-24 1 14 1 35 1-36 1 16 1-39 1 20 1 7 1-6 1 9 1 6 1 14 1-49 1 31 1 11 1-8 1 16 1-22 1-4 1-7 1 30 1-37 1 14 1 7 1 11 1-15 1-10 1 25 1-28 1 7 1-21 1 38 1-2 1-31 1 25 1 13 1-20 1-17 1 27 1 12 1-41 1 55 1-25 1 17 1-33 1 33 1-10 1 8 1-11 1 15 1-19 1-4 1-10 1-9 1 28 1-7 1 4 1-2 1 10 1-5 1-10 1 23 1 22 1-49 1 7 1 17 1-21 1 29 1-28 1-8 1 4 1 34 1-51 1 36 1-37 1 48 1-6 1 5 1 25 1-36 1 36 1-25 1 8 1-29 1 31 1-23 1 30 1-9 1-14 1 9 1-1 1-4 1 40 1-57 1-9 1 1 1 18 1 4 1 12 1 5 1-12 1-1 1-28 1 42 1 7 1-25 1 14 1-22 1 11 1 2 1 13 1-39 1 26 1 14 1-9 1 5 1-52 1 27 1 7 1-5 1-26 1 56 1-14 1-36 1 24 1 9 1 16 1-5 1-28 1 6 1 15 1 12 1-23 1-3 1 20 1-7 1 20 1-14 1 8 1-48 1 10 1-3 1 6 1 25 1-10 1 13 1-21 1 29 1-2 1-43 1 11 1 8 1 24 1-1 1 17 1-55 1 29 1-4 1-4 1 2 1-31 1 39 1-18 1-25 1 62 1-35 1 15 1-15 1-14 1 18 1 13 1-22 1 26 1 20 1-9 1-24 1-8 1 28 1-38 1 6 1 69 1-45 1 2 1-16 1 56 1 5 1-54 1 16 1-18 1 13 1 15 1-1 1-25 1 11 1 40 1-31 1 8 1-14 1-11 1-29 1 15 1-12 1 10 1-7 1 38 1-40 1 35 1-40 1 77 1-54 1 16 1 24 1-33 1 5 1 1 1 7 1-17 1 37 1-10 1-16 1 36 1-40 1-7 1 7 1 10 1-34 1 21 1 13 1-26 1 24 1-24 1 22 1-5 1 7 1-26 1-12 1-11 1 106 1-87 1 11 1-14 1 52 1-12 1 3 1-34 1 37 1-30 1 34 1-23 1-37 1 37 1-13 1 56 1-63 1 17 1 1 1-10 1 2 1 12 1 6 1-12 1 2 1 5 1-16 1 12 1 5 1 16 1-5 1-3 1 7 1-29 1 32 1-25 1 4 1-4 1 18 1-22 1 29 1-24 1-2 1 15 1-21 1 34 1-32 1 4 1 28 1-44 1 39 1-13 1 0 1 2 1-18 1 42 1-18 1 2 1 2 1 3 1-11 1-20 1-6 1-1 1 15 1 37 1-69 1 34 1 15 1-15 1 1 1-13 1 20 1-21 1 7 1-1 1 19 1 22 1-47 1 27 1-26 1-13 1 20 1 12 1-2 1 7 1-67 1 84 1 1 1-12 1-38 1 34 1-15 1 0 1 8 1-26 1 44 1-1 1-3 1 10 1-51 1 23 1-1 1-14 1 33 1 62 1-92 1 27 1-8 1 1 1-1 1 10 1-21 1 4 1 55 1-49 1 0 1-28 1 36 1 3 1-6 1 21 1-58 1 47 1-41 1 10 1-16 1 46 1-15 1-5 1 7 1-34 1 24 1 13 1-13 1 9 1-25 1 29 1-8 1 9 1 40 1-43 1-11 1 16 1-24 1 45 1-27 1 1 1 7 1-28 1 20 1-3 1 38 1-11 1 6 1-28 1 1 1 15 1-28 1-4 1 41 1-18 1 0 1-35 1 21 1-1 1-15 1 28 1-20 1-4 1 51 1-24 1-24 1 51 1-25 1-3 1-50 1 69 1-22 1 18 1 8 1-49 1 52 1-17 1-11 1-39 1 69 1-26 1 5 1-29 1 29 1-1 1 15 1-39 1-20 1 25 1-6 1 21 1-10 1 9 1 17 1 7 1-26 1-27 1 26 1-3 1 0 1 1 1 2 1-35 1 44 1-1 1-2 1-10 1 19 1-42 1 26 1 11 1-17 1 6 1 18 1-19 1-12 1 7 1 14 1-23 1 17 1-6 1 7 1 11 1 0 1-10 1 2 1 9 1-25 1 15 1-20 1 52 1-32 1-22 1 13 1 19 1-7 1-30 1 54 1-24 1 2 1-11 1-7 1-11 1 26 1-3 1-3 1 16 1-7 1-21 1 10 1 24 1-39 1 81 1-68 1 50 1-34 1-53 1 53 1-5 1-8 1 7 1 1 1-53 1 63 1-16 1 5 1 11 1-11 1-19 1 32 1-18 1 9 1-15 1 9 1-13 1 41 1-42 1 32 1-45 1 34 1-8 1 20 1-12 1 32 1 11 1-55 1 20 1-26 1 0 1 14 1 15 1-3 1-13 1 20 1-36 1 4 1 14 1-28 1 50 1-23 1-7 1 16 1-28 1 20 1-25 1 24 1 5 1 23 1-25 1 22 1-22 1-25 1 37 1-10 1-11 1 24 1-31 1 11 1 17 1 2 1-23 1 15 1-4 1 9 1-13 1-30 1 28 1 29 1-37 1 10 1 17 1-17 1-13 1 17 1-3 1-11 1 12 1-20 1-2 1 7 1 15 1 3 1-10 1 27 1-8 1-8 1 17 1 6 1-12 1-20 1 22 1 6 1-12 1-9 1 7 1 1 1-34 1 54 1-24 1 30 1-30 1-14 1 26 1-11 1 13 1-21 1 0 1-4 1-8 1 26 1-27 1 26 1 12 1-33 1 12 1-9 1 7 1 8 1 9 1 3 1-24 1 29 1-28 1-9 1 3 1-15 1 31 1-29 1 32 1 39 1-56 1-19 1 39 1-22 1 16 1 1 1 4 1 32 1-31 1 0 1-7 1-18 1 11 1-20 1 44 1-16 1 13 1-5 1 30 1-36 1 11 1-19 1 43 1-36 1 4 1-22 1 30 1 18 1-5 1-38 1 31 1-25 1-14 1 6 1 40 1-25 1-14 1 25 1 0 1-10 1 12 1-13 1 25 1-7 1-13 1 12 1 3 1-15 1 9 1-10 1-3 1-25 1 11 1 3 1 17 1 40 1-56 1 8 1-13 1 14 1 3 1 14 1-32 1 35 1-10 1-8 1-15 1 3 1 13 1 13 1-11 1-10 1 16 1-20 1 28 1 34 1-55 1 26 1-32 1 17 1 7 1 11 1-19 1 21 1-41 1 17 1 3 1 2 1-4 1 32 1-36 1 23 1-4 1 20 1-36 1 15 1-2 1-59 1 57 1 10 1 8 1-41 1 14 1 22 1-37 1 5 1 31 1-7 1 10 1-3 1-14 1-20 1 6 1 11 1 6 1-5 1 12 1-25 1 5 1-13 1 78 1-60 1 18 1 5 1-15 1-8 1-5 1 4 1-23 1 19 1 20 1-7 1 8 1 0 1-1 1-10 1 2 1 11 1-20 1-16 1 35 1-13 1 17 1-27 1-16 1 23 1-7 1-5 1 39 1-15 1-27 1-7 1 23 1 11 1-4 1 29 1-29 1 3 1-37 1 50 1-29 1 23 1-39 1 11 1 32 1-37 1 22 1-9 1 33 1-21 1 15 1-21 1-26 1 58 1-40 1 9 1-1 1-24 1 36 1-17 1-22 1 5 1-13 1 23 1 10 1-12 1 14 1-5 1 14 1-8 1-3 1-10 1-6 1 4 1 21 1-14 1 31 1-10 1-34 1 28 1 12 1-29 1 29 1-30 1 36 1-9 1-22 1-20 1 25 1-11 1 18 1-19 1 21 1-15 1 17 1 4 1-8 1 3 1 9 1-32 1 24 1-5 1 42 1-49 1 19 1-42 1 46 1-13 1 0 1 8 1-34 1 16 1 5 1-6 1-9 1 29 1-14 1-5 1 5 1 20 1 8 1-12 1-9 1-29 1 13 1-6 1 0 1 33 1-28 1 31 1-18 1-5 1-1 1-19 1 16 1 19 1-2 1-8 1 8 1-8 1 4 1 31 1-35 1-29 1-6 1 21 1 15 1 12 1-15 1 2 1 8 1-25 1 15 1 6 1-12 1-6 1 21 1 9 1-16 1-38 1 25 1 5 1 14 1-20 1 6 1 22 1 5 1-19 1-31 1 11 1 29 1-22 1 12 1-3 1 6 1 3 1-34 1 18 1 13 1-2 1-21 1 50 1-51 1 38 1-41 1 40 1-43 1 42 1-11 1 9 1-23 1 15 1 0 1-1 1-11 1 30 1-72 1 27 1 1 1 45 1-36 1 3 1 0 1 6 1 1 1-3 1-16 1 30 1-6 1 23 1-17 1-7 1-21 1 23 1 8 1 17 1-19 1 6 1-3 1 16 1-7 1-17 1-23 1 47 1-23 1-14 1-10 1-5 1 32 1-7 1 7 1 15 1-37 1 22 1-12 1-5 1-49 1 50 1 29 1-25 1 13 1-3 1 30 1-8 1-33 1 3 1 25 1-11 1-5 1 17 1-2 1-14 1 45 1-41 1-27 1 31 1-5 1 22 1-21 1-15 1 16 1-25 1 13 1 11 1-18 1-18 1 15 1 3 1 22 1-16 1 6 1-13 1 15 1-11 1 19 1-5 1 19 1-14 1-14 1-8 1 19 1 6 1 13 1-33 1-12 1-31 1 23 1 26 1-6 1 4 1 4 1 6 1-31 1 27 1-4 1-3 1-1 1-22 1 36 1-14 1 5 1 7 1-5 1 7 1 0 1-33 1 9 1 30 1-24 1 45 1-50 1 20 1-6 1 7 1-31 1 32 1 26 1-39 1-54 1 79 1-10 1 4 1-22 1 18 1 8 1-21 1 8 1 7 1 4 1-15 1 7 1 27 1 1 1-47 1 49 1-39 1 22 1-51 1 32 1-7 1 23 1-9 1 3 1 0 1-3 1 11 1-12 1-3 1-9 1-4 1 6 1 14 1 20 1-28 1 33 1-12 1-18 1 5 1-6 1-27 1 40 1-9 1-28 1 38 1-21 1 5 1-23 1 26 1 7 1-13 1 6 1-28 1 41 1-13 1 0 1 11 1 6 1-17 1 15 1 14 1-44 1 18 1-26 1 30 1 30 1-37 1-16 1 10 1 14 1-29 1 2 1 28 1-27 1 21 1-17 1-8 1 37 1 16 1-40 1 47 1-32 1 5 1-5 1-19 1 32 1-13 1 6 1-5 1-9 1 42 1-29 1-10 1 14 1-28 1 24 1 35 1-61 1 32 1-29 1 18 1 17 1-33 1 2 1 32 1-14 1 6 1 3 1-32 1-7 1-2 1 36 1-29 1-5 1 18 1 7 1 6 1-32 1 48 1-34 1 16 1-3 1-14 1 21 1 0 1 12 1 12 1 3 1-18 1-4 1-15 1-18 1 30 1-15 1 5 1-4 1 14 1-18 1 48 1-23 1-20 1 13 1 16 1-40 1 22 1-11 1 9 1-8 1 10 1 4 1 3 1-32 1 33 1-10 1-10 1 9 1 25 1-26 1-11 1 24 1-14 1 14 1-6 1 17 1-30 1 3 1 23 1 9 1-22 1 15 1-11 1-7 1-26 1 58 1-14 1-53 1 47 1-21 1-6 1-1 1 27 1-12 1-2 1 1 1-3 1 14 1-39 1 10 1 18 1-15 1 20 1-8 1 12 1-8 1 11 1-9 1 12 1-17 1-21 1 27 1 0 1-7 1 23 1-7 1 15 1-29 1 0 1 14 1 33 1-51 1 24 1-14 1-4 1 19 1-1 1-2 1-21 1 11 1-26 1 34 1-28 1 16 1 17 1-17 1 6 1-12 1 50 1-58 1 10 1 6 1 42 1-48 1 10 1 11 1-44 1 46 1-8 1 18 1 20 1-27 1 16 1-41 1-8 1 14 1 7 1-8 1 12 1 3 1 17 1-29 1-4 1 22 1-12 1 6 1 17 1-38 1 24 1 9 1-1 1-42 1 18 1 24 1-19 1 6 1-8 1 39 1-33 1-8 1 6 1 19 1-15 1-30 1-7 1 41 1-35 1 27 1-13 1 14 1-15 1-25 1 57 1-22 1-2 1 46 1-33 1 6 1-19 1 5 1 11 1-22 1 21 1-6 1-14 1 2 1 19 1-15 1 8 1-2 1-7 1-45 1 54 1 6 1-21 1 0 1 23 1-31 1 36 1-10 1 12 1-21 1 3 1 2 1-27 1 10 1 30 1-27 1-4 1 24 1 28 1-38 1-3 1 3 1 7 1-29 1 28 1 1 1 10 1 14 1-20 1 45 1-54 1-2 1 26 1-22 1-11 1 1 1 8 1-20 1 35 1-10 1 14 1-34 1 10 1-4 1 25 1-10 1 6 1-1 1-38 1 36 1-7 1-1 1 7 1-35 1 18 1 6 1-8 1-5 1 31 1-1 1 12 1-39 1-20 1 44 1-15 1-11 1 23 1-9 1-24 1 27 1-26 1 32 1-26 1-4 1 33 1 3 1-17 1-13 1 25 1-6 1 1 1-9 1-16 1 15 1 28 1-31 1 8 1 1 1 15 1-10 1-10 1 55 1-46 1 2 1-14 1-13 1 34 1-16 1 9 1-63 1 83 1-23 1 11 1-28 1 18 1 1 1 14 1-5 1-41 1 33 1-1 1-7 1 8 1 5 1 6 1-31 1 5 1 13 1 9 1-24 1 14 1-18 1 19 1-3 1 10 1 13 1-32 1 18 1-29 1 27 1 22 1-48 1 15 1-39 1 52 1 26 1-45 1 18 1 16 1-32 1 15 1-14 1 4 1 7 1 13 1-9 1-4 1-2 1 31 1-15 1-7 1-33 1 24 1-13 1 41 1-15 1 11 1-33 1-10 1 11 1 21 1-20 1 21 1 9 1-24 1 19 1-46 1 14 1 9 1 4 1-16 1 16 1 20 1-2 1-6 1-20 1 34 1-11 1-24 1 29 1-19 1 13 1 2 1-1 1 13 1 15 1-31 1-4 1-2 1 8 1 2 1-28 1 21 1 32 1-22 1 4 1-16 1 32 1-14 1-22 1-6 1 18 1 19 1-42 1 2 1-20 1 45 1-26 1 5 1-5 1 2 1 25 1-23 1 14 1-13 1 5 1 15 1 0 1-27 1 18 1-14 1 24 1-20 1-4 1 26 1-21 1 11 1 8 1-18 1 3 1 14 1 24 1-24 1 11 1-20 1-1 1 23 1-33 1 1 1 32 1-33" transform="translate(757.00 0) scale(0.2757 0.5)" fill="none" stroke="#55803a" stroke-width="2.40" vector-effect="non-scaling-stroke" stroke-linejoin="round" />
<path d="M0 1629 l1-3 1 6 1 1 1 3 1 2 1-1 1 6 1 9 1-10 1-2 1 24 1-19 1 11 1-6 1 16 1-4 1 12 1-8 1-6 1 50 1-29 1 9 1-24 1 11 1 6 1 24 1-24 1 22 1-10 1-3 1 24 1-4 1-17 1 27 1-42 1 45 1-7 1 38 1-18 1 21 1-21 1-12 1 19 1-31 1 6 1 19 1 27 1-7 1-32 1-8 1 37 1-26 1 9 1 9 1-3 1-6 1 22 1 20 1-22 1 13 1 8 1 3 1-9 1-5 1 12 1-37 1 41 1 22 1-8 1-51 1 55 1 3 1-12 1 18 1 2 1-10 1 1 1-12 1 35 1-46 1 41 1-9 1 9 1-5 1 8 1-10 1 1 1 42 1-28 1 28 1-7 1-6 1 4 1-3 1 17 1-15 1 0 1 25 1-15 1 10 1-15 1 11 1 17 1 2 1-29 1 17 1-12 1 29 1-23 1-11 1 12 1 1 1 55 1-49 1 37 1-28 1 19 1 15 1-2 1 8 1-4 1-14 1 12 1-2 1-7 1 41 1-44 1-2 1 14 1 26 1-19 1 12 1-12 1 31 1-11 1 0 1 21 1-30 1 36 1-6 1-28 1 17 1 18 1-26 1 6 1 36 1 22 1-14 1-13 1-4 1-14 1 28 1-16 1 10 1 4 1 13 1-2 1-38 1 25 1 26 1 7 1-6 1 6 1-42 1 31 1 4 1 15 1-9 1-8 1 24 1-11 1 10 1-31 1 28 1 8 1 16 1-17 1-24 1 7 1 37 1 1 1-16 1-7 1 30 1-21 1 8 1-19 1-14 1 43 1 26 1-29 1-12 1 40 1-32 1-15 1 26 1 14 1-15 1 14 1 3 1 2 1 41 1-35 1 8 1 14 1-23 1 20 1-27 1 19 1-1 1 19 1 0 1-21 1-2 1 0 1 4 1 7 1 10 1-9 1 41 1-6 1 14 1-21 1 5 1-11 1 22 1-7 1-7 1 9 1 24 1-2 1-22 1-27 1-12 1 44 1 2 1 2 1 9 1 4 1-18 1-2 1 41 1 12 1-28 1 4 1 10 1-5 1-2 1 1 1 23 1-30 1 21 1-23 1 27 1-1 1-4 1 8 1-47 1 34 1 7 1 10 1 0 1-8 1 14 1 6 1 34 1-32 1 4 1 1 1-9 1 3 1 19 1-13 1-1 1 10 1 24 1-38 1 13 1 12 1 6 1 18 1 7 1-36 1 22 1 19 1-9 1-28 1 6 1 12 1 13 1-26 1 30 1-20 1 21 1 3 1-2 1 10 1-13 1 5 1 18 1-26 1 1 1-9 1 47 1-34 1 27 1-11 1 7 1-10 1 5 1 18 1-11 1-14 1 14 1-16 1 29 1 7 1-8 1 21 1 2 1-23 1 20 1-20 1 10 1-4 1 6 1-17 1 16 1-14 1 43 1-29 1 8 1-37 1 31 1 27 1-44 1 37 1-10 1 40 1-20 1 5 1-7 1 12 1-30 1 43 1-11 1-34 1 31 1-4 1 23 1-24 1 6 1 7 1-7 1 29 1-17 1-15 1 15 1-5 1 29 1-39 1-9 1 59 1-27 1 16 1-15 1-6 1 17 1-6 1-9 1-17 1 34 1 17 1 15 1-52 1 42 1-39 1 14 1 10 1 2 1-12 1 9 1 8 1 2 1 10 1 5 1-10 1-11 1 23 1-10 1-10 1-22 1 39 1 9 1 7 1-29 1 15 1-23 1 34 1-2 1-15 1 22 1 9 1 2 1-27 1 15 1 32 1-32 1-2 1 4 1 18 1-15 1-42 1 58 1 34 1-34 1 15 1-14 1-6 1-11 1 24 1-6 1 15 1-10 1 9 1-39 1 37 1 5 1-3 1 17 1-20 1 12 1-37 1 41 1 1 1-23 1-18 1 19 1 15 1 26 1-40 1 33 1-4 1 0 1-17 1 21 1-28 1-8 1 29 1-10 1-20 1 55 1-7 1-2 1-21 1 5 1-12 1 24 1-2 1 4 1 24 1-28 1 6 1-18 1 46 1-4 1-77 1 28 1 82 1-17 1-17 1 12 1-40 1 22 1 13 1-15 1-10 1 13 1-10 1 43 1-33 1-4 1-17 1 71 1-43 1 12 1-9 1 7 1-3 1-8 1 17 1-18 1 17 1 3 1 19 1-36 1 50 1-31 1-20 1-7 1 28 1-2 1 12 1-32 1 24 1 8 1 9 1-40 1 18 1-1 1 11 1-2 1 7 1-24 1 31 1-28 1 23 1 34 1-46 1 44 1-6 1-27 1 16 1 3 1-23 1-16 1 29 1-15 1 30 1-33 1 58 1 6 1-47 1-18 1 37 1-12 1 8 1-22 1 3 1 31 1-27 1-10 1 40 1 2 1-13 1-10 1 42 1-29 1 17 1-30 1 0 1 26 1 21 1-38 1 7 1 4 1 29 1-21 1 7 1 9 1-2 1 16 1-45 1 26 1 2 1-24 1 22 1 3 1-9 1-3 1 30 1-14 1-4 1 6 1-11 1 12 1 5 1-20 1 13 1 1 1 4 1-7 1 6 1-6 1-5 1 6 1-16 1 35 1-3 1-18 1 0 1 1 1-4 1 2 1 26 1-12 1 20 1-6 1 0 1-26 1 48 1-29 1-32 1 33 1-1 1 15 1-24 1 19 1-7 1 25 1-23 1 13 1 9 1-28 1 18 1-3 1 25 1-15 1-19 1 40 1-36 1 8 1 4 1 7 1-18 1 7 1-1 1 9 1-15 1 7 1-14 1 48 1-17 1 11 1-29 1-16 1 3 1 6 1 28 1-13 1-2 1-10 1 45 1-46 1 18 1 0 1 3 1 0 1 9 1 35 1-22 1-12 1-21 1 40 1 2 1-32 1 17 1-43 1 20 1 49 1-58 1 37 1 8 1-39 1 21 1 26 1 14 1-35 1 23 1-35 1 3 1 18 1 5 1-8 1 16 1-4 1 9 1-8 1-10 1 2 1-2 1 10 1 10 1-1 1 7 1-6 1 0 1-26 1 8 1-1 1-4 1-25 1 49 1-27 1 6 1 1 1 58 1-39 1 17 1-22 1 13 1 1 1-14 1 5 1-28 1 11 1 18 1-36 1 40 1-1 1-12 1 23 1-4 1 11 1-14 1 7 1-4 1-25 1 21 1-1 1 4 1 0 1 13 1-13 1-17 1 28 1-41 1 11 1 41 1-40 1 27 1-32 1 39 1-4 1 11 1 1 1 3 1-32 1 38 1-29 1 20 1-16 1 22 1-10 1-3 1 7 1-9 1 1 1 22 1-12 1-6 1-7 1 24 1-29 1 11 1-16 1 9 1 8 1 14 1-11 1 15 1-41 1 60 1-22 1-1 1-19 1 28 1-26 1 12 1 8 1 2 1 0 1-20 1-5 1 40 1-8 1-2 1-2 1 2 1-35 1 29 1 15 1-12 1 10 1-4 1-12 1-5 1 11 1 17 1-38 1 38 1-42 1 59 1-32 1 6 1-9 1 22 1-25 1 32 1 12 1-31 1-12 1 25 1-22 1 6 1 8 1 14 1-32 1 27 1-2 1-9 1 12 1-8 1-6 1-23 1-7 1 37 1 10 1-34 1 20 1 28 1-10 1-38 1 36 1-14 1 12 1-6 1-14 1 43 1-67 1 23 1 32 1-18 1 6 1-19 1 26 1-22 1-6 1 0 1 34 1-17 1 12 1-4 1-8 1-14 1 21 1 13 1-33 1 9 1-14 1-7 1 35 1 5 1-10 1 6 1-1 1 15 1-5 1 3 1-25 1 19 1-7 1-15 1 23 1-31 1 9 1 32 1-6 1-36 1 33 1-4 1-5 1-12 1 12 1 16 1 16 1-14 1-24 1 23 1 20 1-32 1-15 1 34 1-24 1 9 1 5 1-7 1 3 1 9 1 2 1-2 1 3 1-6 1-14 1 36 1-21 1 3 1 8 1-16 1-18 1-4 1 18 1 21 1-9 1 3 1-15 1-13 1 14 1-20 1 14 1 20 1-17 1-11 1 28 1 0 1-5 1-28 1 36 1-14 1 12 1 8 1-8 1 12 1-8 1-16 1-2 1 36 1 4 1-34 1 8 1 3 1 5 1-32 1 33 1-8 1 1 1-8 1 26 1-25 1 31 1-3 1-29 1 21 1 14 1-31 1-27 1 28 1 9 1 27 1-13 1-4 1-10 1 9 1-25 1 1 1-7 1 3 1 14 1 30 1-61 1 43 1-9 1-27 1 24 1-28 1 46 1-3 1-23 1 5 1-2 1-2 1 20 1-26 1 11 1-12 1 33 1-14 1 13 1-27 1-25 1 45 1-3 1 18 1-23 1 10 1 3 1-20 1-24 1 41 1-7 1-9 1-11 1 42 1-22 1-1 1-14 1 2 1 14 1-21 1 35 1-23 1 24 1-16 1-13 1 40 1-29 1-7 1 21 1-8 1-5 1-28 1 3 1 38 1-21 1 15 1-20 1 17 1-29 1 22 1 23 1-14 1-11 1 4 1 1 1 27 1-24 1 4 1-13 1 14 1-1 1-16 1-14 1 20 1 20 1-25 1 3 1 22 1-18 1-25 1 50 1-22 1-9 1 4 1 17 1-20 1 32 1-19 1 3 1-5 1-12 1 11 1 22 1-32 1 5 1 7 1-16 1 23 1-29 1 23 1-20 1 9 1 0 1 42 1-45 1 22 1-9 1-16 1 23 1-13 1-22 1-2 1 26 1 1 1-25 1 23 1-6 1 11 1-16 1 10 1-4 1 11 1 7 1 14 1-50 1 24 1-16 1-3 1-9 1 16 1 8 1-4 1 7 1-1 1 4 1-6 1 3 1-2 1-9 1-12 1-2 1 26 1-20 1 24 1-17 1-4 1 7 1 5 1 22 1-30 1-1 1 12 1 9 1-15 1-6 1 14 1-2 1 2 1-42 1 44 1-7 1 13 1-18 1 9 1-9 1 33 1-50 1 7 1 2 1-30 1 33 1 30 1-12 1 5 1-17 1-7 1 6 1-15 1-6 1 39 1-16 1 19 1-38 1 20 1-22 1 42 1-20 1-16 1 1 1 31 1-33 1 12 1 3 1-14 1 34 1 5 1-33 1 10 1 7 1-1 1 1 1-26 1 16 1-20 1 18 1 8 1 5 1-41 1 32 1-23 1 26 1-1 1-3 1 11 1-10 1-15 1 6 1 9 1-27 1 19 1 8 1-20 1 32 1-2 1-8 1-9 1-4 1 13 1-2 1 7 1-23 1 18 1 6 1-29 1 15 1-1 1-4 1 16 1-19 1 15 1-4 1 4 1-14 1-14 1 26 1-8 1 10 1-18 1-1 1 17 1-8 1-4 1 11 1-12 1 5 1 4 1-22 1 28 1-14 1-4 1 3 1-8 1-17 1 26 1-7 1 28 1-2 1-27 1 14 1 7 1-10 1-8 1-6 1-6 1 25 1-3 1-7 1-2 1 23 1-18 1 27 1-50 1 5 1-9 1 30 1-15 1 22 1-16 1 11 1-18 1 16 1-16 1 3 1-13 1-11 1 8 1 20 1 2 1-29 1 6 1-3 1 26 1-20 1-2 1 19 1-14 1 15 1 2 1-18 1-15 1 19 1 56 1-68 1 33 1-28 1-4 1 32 1-26 1-23 1 10 1-3 1 13 1 25 1-5 1-13 1 6 1-13 1-17 1 23 1-4 1 16 1-9 1 11 1-21 1 0 1-2 1-5 1 26 1-13 1-19 1 8 1 34 1 6 1-14 1-17 1 20 1-24 1-15 1 17 1-16 1 11 1 34 1-24 1-2 1 5 1-17 1 9 1-17 1-6 1 12 1-10 1-15 1 23 1-19 1 13 1 33 1-12 1 5 1-17 1-12 1-9 1 48 1-64 1 31 1 10 1-24 1 35 1-26 1 11 1 22 1-10 1-16 1 2 1 22 1 5 1-19 1-33 1 19 1 21 1-25 1 2 1-6 1 8 1 19 1-4 1-25 1 32 1-38 1 34 1-1 1-31 1-8 1 40 1-5 1-7 1-22 1 24 1-26 1 31 1 22 1-38 1 19 1-27 1 17 1-8 1 9 1-11 1-20 1 39 1-32 1 32 1-33 1 28 1-6 1-13 1 21 1-10 1 18 1-13 1 8 1-47 1 49 1-24 1 0 1-15 1 8 1 6 1 5 1 0 1-7 1 7 1 10 1-19 1-3 1 37 1-22 1-20 1 31 1-11 1 24 1-18 1-2 1-12 1-13 1 12 1-3 1 0 1 20 1-31 1 39 1-39 1-6 1 33 1-20 1-4 1 16 1-19 1 14 1-7 1 7 1-14 1 22 1-17 1 8 1-33 1 38 1-16 1 5 1-2 1-4 1-6 1 27 1-20 1 3 1-2 1-6 1 26 1-25 1 14 1-17 1-9 1-1 1 28 1-35 1 3 1 15 1 17 1-19 1 26 1-18 1-1 1 25 1-15 1-14 1-1 1 19 1 8 1-24 1 2 1 17 1-25 1 15 1-2 1-6 1-11 1-21 1 31 1-15 1 21 1-12 1 2 1 26 1-11 1-24 1 26 1-18 1-13 1 20 1-2 1 14 1 0 1 1 1-25 1 8 1-24 1 30 1-8 1-28 1 39 1-2 1-30 1-36 1 53 1 9 1-5 1 21 1 38 1-57 1-5 1-3 1 36 1-31 1 11 1 2 1 2 1-9 1 41 1-39 1-5 1-19 1 11 1 4 1 15 1-31 1 19 1-6 1-36 1 42 1 21 1-46 1 37 1-34 1 11 1 2 1 17 1-13 1 0 1 22 1-9 1-16 1 9 1 13 1-13 1-22 1 15 1-23 1 54 1-29 1-27 1 17 1 12 1 4 1-12 1-4 1-8 1 26 1 5 1-13 1-2 1-1 1-11 1 3 1 13 1-4 1 2 1-18 1 22 1-26 1 33 1-21 1 7 1-15 1 9 1-10 1 13 1-51 1 65 1-14 1 7 1-12 1 9 1-18 1-3 1 7 1-16 1 33 1-17 1 2 1-9 1 20 1 7 1-20 1 20 1-11 1-2 1-28 1 11 1 31 1-2 1 16 1-41 1 20 1-33 1 9 1-4 1 4 1 16 1 17 1-19 1-21 1 38 1-15 1-28 1 43 1-20 1 10 1-20 1 1 1 13 1-30 1 25 1 12 1-7 1-8 1-5 1-1 1 28 1-18 1-2 1-16 1 19 1 5 1-45 1 58 1-13 1-15 1-24 1 63 1-26 1-24 1-9 1 37 1-43 1 27 1-5 1-13 1 6 1-8 1 32 1-7 1 11 1-33 1 35 1-15 1 14 1-24 1 12 1-22 1 31 1-15 1-11 1 6 1 4 1-30 1 29 1-18 1 14 1 4 1 33 1-30 1-26 1 28 1-26 1 2 1 4 1 25 1 11 1-15 1-30 1 22 1 10 1-51 1 33 1 43 1-59 1 5 1-17 1 54 1-7 1-3 1 6 1-28 1-18 1 36 1-33 1 35 1-2 1-6 1 17 1-13 1-25 1 7 1 22 1-20 1 19 1-14 1 8 1-18 1 10 1-21 1 14 1 19 1-19 1-4 1 27 1-2 1-29 1 21 1 4 1-21 1 2 1 8 1 25 1-23 1 0 1-40 1 45 1 9 1-31 1 28 1-6 1 6 1-12 1 0 1 37 1-10 1-41 1-12 1 31 1 1 1-5 1-4 1 41 1-85 1 31 1 24 1-3 1 0 1-19 1 37 1-11 1-2 1-6 1-29 1 13 1-11 1 19 1-23 1 21 1-19 1 19 1-33 1 16 1 18 1 9 1-30 1 28 1 57 1-69 1-9 1-17 1 3 1 16 1 4 1 13 1 19 1-41 1 18 1 18 1-13 1-5 1-1 1-22 1-1 1 32 1 9 1-4 1-1 1 9 1-2 1-28 1 9 1-37 1 49 1-13 1-1 1 13 1-35 1 22 1-15 1 36 1-42 1 10 1 15 1 18 1-25 1-21 1 1 1 25 1 3 1-27 1 36 1-31 1-1 1 11 1-15 1 0 1 14 1-33 1 31 1-13 1 22 1-18 1 27 1-8 1 2 1-4 1-17 1 19 1 3 1-7 1 3 1 0 1-9 1-4 1 9 1 1 1 7 1 8 1-22 1-2 1 36 1-30 1 0 1-12 1 18 1-38 1 21 1 8 1-7 1 14 1 13 1-8 1-14 1-31 1 24 1 30 1 4 1-14 1 4 1 0 1-34 1 15 1-1 1 16 1 8 1-16 1 27 1-30 1-6 1 0 1-22 1 41 1-19 1 18 1-3 1 1 1-32 1 19 1 1 1 9 1-20 1-15 1 47 1-38 1 24 1-20 1 29 1-19 1 1 1-8 1-15 1 55 1-29 1 25 1-12 1-24 1 7 1 16 1-7 1-11 1 16 1 7 1 5 1 8 1-24 1-6 1 0 1-33 1 59 1 4 1-80 1 58 1-18 1 12 1-22 1 24 1-29 1 40 1 5 1 5 1-44 1 8 1 8 1 30 1-24 1 27 1-20 1 7 1-32 1-3 1 2 1-11 1 12 1 31 1 15 1-34 1 6 1 40 1-33 1 10 1 0 1 7 1 0 1-13 1-19 1 32 1-33 1 19 1 5 1 37 1-32 1-4 1-12 1 3 1-39 1 8 1 29 1 7 1-9 1 3 1 0 1 31 1-36 1 39 1-39 1 7 1 3 1 10 1 13 1-6 1 2 1-12 1-4 1-2 1-15 1 51 1-35 1-9 1-7 1 14 1-12 1 32 1 3 1-28 1 30 1-7 1-6 1-1 1-8 1 18 1-39 1 37 1-12 1-33 1 30 1 9 1 6 1-8 1-16 1 19 1-2 1-51 1 33 1 11 1-12 1 21 1 29 1-31 1-7 1 6 1-13 1 6 1-2 1 20 1-16 1 10 1 4 1-21 1 25 1 16 1-28 1 8 1 13 1 4 1-15 1-8 1 12 1-24 1 4 1 5 1 15 1-23 1 21 1-29 1 11 1 2 1 22 1 19 1-51 1 28 1-5 1 8 1-14 1 22 1-45 1 47 1 8 1-45 1 26 1-19 1 12 1 1 1-36 1 54 1-2 1 18 1-29 1 4 1 16 1-45 1 36 1-13 1 35 1-31 1 18 1-22 1-82 1 111 1-5 1 0 1-20 1 24 1-33 1 3 1 27 1-2 1 17 1-39 1 19 1 1 1 9 1-33 1 19 1-13 1 20 1 37 1-33 1 14 1-7 1-22 1 10 1-4 1-1 1 15 1-4 1-21 1-19 1 24 1 15 1 15 1-18 1 13 1 1 1 2 1-28 1 8 1 14 1-18 1-5 1 10 1 5 1 16 1-23 1-14 1 16 1 19 1-39 1 38 1 5 1-21 1-2 1-9 1 4 1 12 1 22 1-11 1-17 1-28 1 20 1 49 1-52 1 37 1-12 1 13 1-9 1-14 1 8 1-5 1-13 1 16 1 2 1-15 1 13 1 15 1-10 1-17 1 40 1-33 1 43 1-26 1 11 1-12 1-20 1 35 1-28 1-11 1 0 1 29 1-14 1-3 1-10 1 50 1-17 1 5 1-12 1 31 1-40 1 28 1-20 1-10 1 23 1-5 1-1 1-28 1 10 1-5 1 8 1 13 1-16 1 16 1-16 1 11 1 14 1 9 1 11 1-24 1 2 1 18 1-45 1 8 1 30 1 2 1 13 1-2 1-1 1 1 1-23 1 17 1-63 1 43 1-19 1 19 1-38 1 48 1-7 1 17 1-39 1 19 1 18 1-38 1 23 1-29 1 60 1-41 1 14 1 5 1-31 1 18 1-15 1 32 1 14 1-55 1 33 1-20 1 27 1 3 1 6 1-4 1-33 1 5 1 19 1 11 1-21 1 6 1 13 1-2 1 12 1-31 1 30 1-12 1 1 1-4 1-5 1 28 1-28 1 15 1-4 1-11 1 15 1 1 1 18 1-33 1 20 1 0 1 6 1-23 1 14 1-22 1 23 1 12 1 6 1-53 1 27 1 11 1-30 1 62 1-31 1-29 1 70 1-38 1-34 1 15 1 3 1 10 1 25 1-33 1 3 1 8 1 8 1 1 1-27 1 32 1-25 1 2 1 47 1-60 1 25 1-14 1 25 1-3 1-29 1 17 1 0 1 15 1-32 1 35 1-5 1-4 1-6 1 17 1 7 1-13 1-2 1 9 1 1 1-25 1-2 1 12 1-4 1 3 1 5 1 23 1-18 1 2 1 20 1-31 1 5 1-21 1 14 1 21 1-14 1 1 1 27 1 3 1-21 1-14 1-6 1 18 1-15 1 15 1-7 1 6 1-7 1 26 1-19 1 26 1-29 1 29 1-36 1 18 1-8 1-10 1 44 1-27 1-15 1-8 1 30 1 2 1-7 1-11 1 2 1-10 1 4 1 9 1 14 1 2 1-26 1-12 1 74 1-44 1-12 1 14 1-14 1 5 1-28 1 29 1 28 1-10 1-15 1 5 1 9 1 5 1-25 1 8 1 7 1 10 1-17 1 12 1 5 1-10 1 7 1 10 1-33 1 20 1 2 1 26 1-55 1 16 1-10 1-5 1 31 1-18 1 12 1 3 1-3 1 15 1-6 1-16 1 6 1 10 1-12 1 15 1-6 1-7 1 4 1-11 1 20 1-12 1-10 1 15 1 57 1-37 1-24 1-5 1 24 1-23 1 30 1-25 1 25 1 13 1-32 1 14 1 10 1 14 1 2 1-44 1 29 1-3 1-10 1 4 1-22 1 3 1 11 1-16 1 23 1-2 1 19 1-35 1 33 1-12 1-1 1-4 1 1 1-9 1-3 1 30 1-47 1 44 1-8 1-1 1 11 1-13 1 3 1 6 1-10 1 15 1 0 1-14 1 8 1-18 1 17 1-2 1-21 1 20 1 7 1-20 1-4 1 17 1-7 1-4 1 14 1-14 1 15 1 13 1-9 1-2 1-16 1 32 1-21 1 27 1-30 1 8 1-17 1 22 1-23 1 20 1 22 1-13 1-27 1 30 1-28 1 12 1-3 1 3 1 4 1-31 1 46 1-15 1-12 1 18 1 16 1-33 1 23 1-10 1 3 1-8 1 8 1 8 1-29 1 11 1 3 1 0 1-15 1 15 1-7 1 20 1-5 1 3 1 7 1-15 1-6 1 23 1-15 1-2 1 30 1-41 1 31 1 7 1-22 1-3 1 14 1-16 1-15 1 41 1 7 1-51 1 40 1-6 1-2 1 10 1-15 1 2 1 7 1 2 1-35 1 48 1-8 1 19 1-28 1-11 1 21 1 1 1 6 1-3 1-20 1-3 1 10 1 10 1-5 1-6 1 10 1-26 1 23 1-27 1 51 1-45 1 48 1-12 1 3 1-3 1-15 1 6 1 21 1-35 1 10 1 18 1-21 1 32 1-38 1 6 1 13 1-12 1 7 1 4 1-2 1 11 1-3 1 0 1-1 1-1 1 4 1 1 1 5 1 12 1-29 1 32 1-11 1 2 1-19 1 10 1 2 1-8 1 14 1-24 1 4 1 22 1-5 1-25 1 26 1-3 1 9 1-11 1 1 1-13 1 12 1-4 1 13 1-33 1 26 1 26 1-60 1 44 1-3 1-3 1 3 1-13 1 20 1-7 1-26 1 38 1-29 1 2 1 18 1-10 1 8 1 2 1-7 1 9 1-24 1 41 1-10 1-18 1 6 1 21 1-29 1-26 1 64 1-9 1-11 1 17 1-15 1 4 1-2 1 3 1-21 1 13 1 4 1-17 1-2 1 15 1 22 1-21 1 15 1 3 1 1 1-8 1-29 1-5 1 14 1 10 1 3 1-4 1 2 1 12 1-22 1 23 1 5 1-33 1 24 1-2 1 7 1 0 1-32 1 51 1-22 1 11 1 0 1-23 1 12 1-2 1 30 1-43 1 36 1-7 1-12 1-11 1 11 1 11 1-19 1 15 1 5 1 2 1-13 1 19 1-4 1-33 1-1 1 9 1 9 1 19 1-3 1-1 1-11 1 20 1-31 1 2 1 27 1-12 1 17 1-2 1 2 1-21 1 4 1-13 1 21 1 0 1-6 1 4 1 6 1 9 1-17 1 0 1 6 1 10 1 33 1-28 1-39 1 9 1 11 1-21 1 40 1-19 1-4 1 12 1 8 1-7 1 4 1 12 1-23 1 13 1-21 1 8 1 27 1-20 1-3 1 22 1-14 1 17 1 29 1-13 1-28 1 7 1-10 1 27 1-13 1 27 1-38 1 5 1-32 1 26 1-6 1 20 1 7 1-21 1 9 1 9 1-8 1 10 1 24 1-39 1 12 1 10 1-12 1 18 1-21 1 17 1-10 1 5 1-14 1 20 1-25 1 26 1-11 1 3 1 12 1-30 1 25 1-4 1-9 1 15 1-9 1 22 1-26 1 24 1-2 1-11 1-11 1 7 1-14 1 8 1-4 1 17 1-20 1 21 1-9 1 16 1-4 1-13 1 10 1 2 1-10 1 4 1 2 1-10 1-2 1 17 1-22 1 26 1 4 1-13 1 10 1-13 1 16 1 28 1-29 1-6 1 1 1-28 1 21 1 5 1-3 1 8 1 24 1-39 1 8 1 9 1-14 1 3 1 16 1 2 1-3 1-14 1 17 1 4 1-18 1 10 1-3 1 1 1-3 1 11 1-13 1 28 1-11 1-10 1 28 1-22 1-26 1 37 1-4 1-8 1 2 1-7 1-6 1 2 1 39 1-33 1 8 1 19 1-27 1 7 1-3 1-11 1 22 1 1 1-8 1 0 1 10 1 1 1 14 1-13 1 1 1-15 1-7 1 29 1-23 1 17 1-6 1-9 1 12 1 16 1-4 1-19 1 3 1-19 1 9 1 8 1 6 1 5 1-9 1 18 1-22 1 23 1-23 1 4 1 9 1 7 1-16 1 4 1 2 1 6 1 12 1-7 1-10 1 0 1 17 1 1 1-3 1-10 1-9 1 1 1 10 1-12 1 9 1 25 1-18 1 5 1-19 1 25 1-18 1 5 1 2 1-1 1-6 1 12 1 15 1-24 1 12 1-19 1 14 1-9 1 21 1-18 1 11 1-5 1-13 1 13 1 0 1 8 1-10 1-16 1 8 1 5 1 13 1-13 1 16 1-12 1 7 1 6 1-8 1-32 1 42 1-13 1 10 1-36 1 29 1-1 1-4 1 4 1-9 1 1 1 14 1-6 1 9 1-3 1-11 1 8 1-3 1 8 1 12 1-16 1-9 1 31 1-24 1-5 1 4 1-18 1 38 1 5 1-9 1-6 1-7 1-3 1-2 1 15 1 10 1-9 1-18 1 30 1-27 1 8 1 0 1-5 1-17 1 10 1 7 1 16 1-14 1 8 1-16 1 9 1 16 1 7 1-15 1 2 1-4 1-3 1 3 1 9 1-16 1-4 1 17 1-12 1 10 1-14 1 15 1-8 1-1 1 12 1-13 1-18 1 12 1 8 1 21 1-19 1-8 1 6 1 16 1-6 1 5 1 1 1 6 1-28 1 26 1-6 1-16 1 17 1 7 1-16 1 13 1-31 1 6 1 20 1-4 1 6 1-1 1 4 1-23 1-11 1 37 1-7 1-3 1-2 1 18 1-23 1 11 1 11 1-20 1 0 1 3 1-31 1 46 1-1 1 8 1-18 1 5 1 3 1 10 1-13 1 2 1-15 1 14 1-2 1 9 1-3 1-18 1 1 1 14 1-8 1 8 1 8 1-23 1 16 1-13 1 9 1-1 1-9 1-12 1 19 1-8 1 13 1 0 1 16 1-11 1-24 1 2 1 8 1 8 1 6 1-11 1 10 1-12 1 19 1-14 1-1 1 1 1 5 1 14 1-12 1 8 1-16 1 14 1 1 1 2 1-18 1 1 1 9 1 11 1-19 1 10 1 13 1-34 1 7 1 11 1 6 1-4 1 5 1 9 1-20 1-1 1 22 1-30 1 25 1 4 1-9 1-8 1 7 1-7 1 25 1-13 1-5 1 3 1 1 1 6 1-7 1-15 1 10 1-8 1-3 1 16 1-7 1 3 1 8 1 3 1-8 1-6 1 12 1-18 1 27 1-19 1 15 1-20 1 17 1-3 1-5 1 11 1-5 1-4 1-1 1 5 1-3 1-9 1 1 1 5 1-9 1-7 1 26 1-13 1 27 1-19 1 13 1-8 1-7 1-5 1-10 1 5 1-3 1 0 1-1 1 16 1-20 1 34 1-23 1 12 1 2 1-2 1-5 1-1 1 3 1 8 1-2 1-2 1-18 1 5 1 10 1 10 1 3 1-20 1 9 1-8 1-4 1 10 1 5 1-3 1-25 1 33 1-30 1 30 1 3 1 17 1-44 1 9 1 8 1 1 1-8 1 15 1-15 1 5 1-1 1 8 1-3 1-19 1 22 1-17 1 1 1 2 1 5 1 8 1 0 1-20 1 13 1 11 1-1 1-7 1-8 1 18 1-14 1-10 1-11 1 28 1 7 1 7 1-6 1-3 1-10 1 3 1 4 1-17 1 14 1-7 1 11 1-1 1-42 1 21 1 15 1 5 1-13 1 9 1-1 1-5 1-1 1 9 1 8 1-21 1 15 1-3 1-11 1 4 1-4 1 10 1 5 1-9 1-14 1 19 1-3 1-3 1 14 1-18 1 5 1 4 1 13 1-24 1 12 1-19 1 11 1 3 1-9 1 17 1-3 1-9 1 8 1-8 1 4 1 1 1 15 1-21 1 13 1 6 1-10 1 5 1 13 1-29 1 0 1 16 1-5 1 14 1-20 1 6 1 5 1-26 1 34 1-13 1-9 1 3 1 1 1 17 1-21 1 21 1-18 1 10 1-8 1 3 1 9 1-10 1-4 1 14 1 10 1-21 1 0 1-3 1-8 1 6 1 10 1-9 1 9 1 0 1 3 1 8 1-15 1-12 1 15 1 3 1 11 1-16 1-7 1-2 1 18 1-12 1 11 1 14 1-23 1 10 1-10 1 5 1-18 1 5 1 23 1-29 1 4 1 15 1-15 1 5 1-4 1 22 1-15 1 16 1-13 1-29 1 28 1-18 1 26 1-30 1 31 1-5 1 9 1-10 1-2 1-6 1-2 1-1 1 3 1 1 1 25 1-19 1-12 1 21 1-12 1-8 1 8 1-7 1 11 1-8 1 13 1-22 1 14 1-15 1 30 1-29 1 30 1-21 1 12 1-18 1 3 1 18 1-26 1 19 1-21 1 35 1-10 1-28 1 14 1 14 1 11 1-22 1-17 1 29 1-19 1 7 1-5 1-9 1-8 1 36 1-13 1-2 1-6 1 10 1-15 1-10 1 7 1-1 1 17 1-17 1 32 1-19 1-4 1 2 1 18 1-38 1 23 1 17 1-7 1-7 1-7 1 26 1-27 1 23 1-28 1-6 1 15 1-4 1-20 1 24 1 24 1-26 1 6 1-4 1-1 1 3 1-1 1-1 1 3 1 1 1-3 1-16 1 6 1-3 1 9 1 17 1-12 1-7 1 24 1-12 1-15 1 11 1 6 1-1 1-15 1 8 1-9 1-18 1 30 1-25 1 18 1 11 1-4 1-6 1 4 1-2 1 11 1-7 1 2 1-14 1 5 1-3 1 15 1-2 1-7 1 7 1-7 1-3 1 7 1-3 1 20 1-35 1 22 1-25 1 30 1-24 1-7 1 32 1-17 1 17 1-23 1-1 1 20 1-18 1 7 1-10 1 7 1-19 1 17 1 2 1 11 1 0 1-11 1 2 1-1 1 21 1-28 1 15 1-7 1-13 1 18 1 6 1-9 1-14 1 22 1-5 1-10 1 13 1-25 1 4 1 8 1 4 1 8 1 1 1-17 1 17 1 6 1 0 1-17 1-1 1-6 1-11 1 11 1-6 1 16 1 0 1 1 1 0 1 1 1-10 1 2 1 7 1 10 1-31 1 6 1 8 1-7 1 4 1 6 1-8 1 15 1-1 1 1 1-3 1 3 1-37 1 37 1-17 1 30 1-28 1 10 1-28 1 14 1 13 1 2 1 11 1-7 1 5 1 6 1-34 1 30 1-28 1 16 1-4 1 10 1-1 1-2 1-10 1-28 1 34 1-2 1 1 1 5 1 13 1-8 1-7 1-9 1-7 1 27 1-8 1-7 1-15 1 12 1 9 1-2 1-8 1 6 1-5 1-1 1 17 1-6 1-4 1-8 1 18 1-27 1 19 1-16 1-10 1 16 1-16 1 17 1-11 1 14 1-5 1-11 1 11 1-3 1 22 1-1 1-6 1 1 1 15 1-21 1-1 1 14 1-9 1-15 1 24 1-14 1 13 1 1 1-22 1 7 1 5 1-18 1-4 1 18 1-2 1-9 1 8 1 5 1-11 1-1 1 6 1-9 1 2 1 4 1-15 1 13 1 8 1-12 1 21 1-8 1 10 1-14 1 7 1-7 1-10 1 17 1-13 1 12 1-15 1 10 1-5 1 17 1-15 1 14 1-6 1 10 1-19 1 13 1 0 1-2 1-5 1 12 1-28 1 28 1-20 1 11 1 3 1-5 1-6 1-7 1-5 1 8 1 11 1-19 1 40 1-26 1-7 1 26 1-8 1-6 1-12 1 8 1 11 1-4 1-27 1 27 1 10 1-24 1-12 1 11 1 8 1-2 1-1 1-28 1 23 1 0 1 6 1 12 1-19 1 19 1 2 1 5 1-23 1 18 1-17 1 2 1-13 1 5 1 1 1 22 1-10 1 0 1-7 1 0 1-6 1 6 1 17 1-15 1 22 1-15 1-9 1 17 1-13 1 10 1-15 1 19 1-10 1 0 1 5 1-14 1-16 1 13 1 17 1 6 1-28 1 18 1 1 1-20 1-3 1 34 1-13 1-7 1 8 1-22 1 20 1-4 1-3 1 14 1-10 1 0 1-5 1-4 1 7 1 16 1-35 1 9 1 5 1 12 1-13 1 13 1-28 1 11 1 18 1-31 1 26 1 11 1-7 1 1 1-16 1 3 1 16 1-7 1 14 1-13 1-3 1-1 1 15 1-5 1-15 1 11 1-15 1 18 1-11 1 17 1 0 1-7 1-23 1 10 1 8 1 0 1 1 1 7 1-17 1-6 1-1 1 24 1-2 1-13 1 3 1 14 1-16 1 10 1 1 1-5 1 5 1 4 1-16 1-13 1 16 1-27 1 11 1 24 1-17 1 5 1 7 1-11 1 15 1 13 1-28 1 9 1-26 1 17 1 26 1-18 1-4 1 10 1-8 1 18 1-16 1-6 1 4 1-23 1 31 1 1 1-25 1-8 1 21 1 8 1 14 1-25 1 1 1 8 1 13 1-31 1 14 1-3 1 17 1 6 1 6 1-5 1-7 1-15 1 11 1 8 1-5 1-17 1 7 1-6 1 18 1-7 1-7 1 12 1-3 1-11 1 18 1-10 1-2 1-9 1 11 1 4 1-28 1 16 1 4 1 8 1-18 1 33 1-23 1-6 1 7 1 11 1-9 1-7 1 10 1 0 1-1 1-11 1 13 1 37 1-42 1 4 1-23 1 20 1 4 1-8 1 3 1-8 1 18 1-8 1-12 1 8 1 7 1-1 1 23 1-28 1 4 1-9 1 14 1-14 1 16 1-14 1-2 1 0 1 29 1-32 1 22 1-9 1-13 1 9 1-4 1 11 1 8 1 9 1-26 1 0 1-1 1 7 1-8 1 26 1-19 1-1 1-28 1 32 1-12 1 35 1-18 1-10 1 9 1 14 1-15 1 10 1-33 1 11 1-4 1 19 1-22 1-2 1 13 1 2 1 8 1 22 1-15 1-11 1 0 1-20 1 30 1-20 1 4 1 4 1-10 1 8 1 12 1 4 1 6 1-10 1-15 1 10 1-15 1-34 1 50 1-10 1 0 1-6 1 30 1-18 1 12 1-12 1 3 1-2 1 13 1-34 1 16 1-4 1 11 1-10 1 5 1-5 1-3 1 13 1 6 1-7 1-17 1 6 1 16 1-12 1 12 1-7 1 14 1-25 1 13 1 6 1-3 1-19 1 5 1 4 1-7 1 7 1-1 1 2 1 0 1-4 1 16 1 2 1-11 1 14 1 0 1-16 1 21 1-2 1 0 1-19 1 8 1-9 1 13 1-10 1-9 1 0 1 6 1-4 1 14 1 3 1-6 1-5 1 1 1-3 1-3 1 13 1-10 1 11 1-16 1-2 1 16 1 24 1-27 1-8 1 23 1-15 1-3 1-9 1 19 1-12 1-4 1 2 1 18 1-3 1-19 1-9 1 36 1-15 1 20 1-17 1 2 1-6 1 1 1 2 1-2 1 16 1-18 1-2 1 16 1-21 1 6 1 3 1-15 1 19 1-5 1 9 1-6 1-15 1-1 1 6 1 5 1 1 1-1 1 9 1-18 1 0 1 27 1-15 1 0 1 8 1-20 1 16 1-4 1-6 1 10 1 12 1-12 1-6 1 19 1-10 1 14 1-6 1-11 1-8 1 3 1 14 1-23 1 36 1-49 1 30 1 6 1-20 1-13 1 16 1 1 1 14 1-10 1 3 1-4 1 27 1-30 1 3 1 5 1 26 1-60 1 9 1 16 1-3 1 8 1 9 1-1 1-9 1-4 1 5 1-6 1 28 1-7 1-14 1 9 1-12 1 4 1 2 1-13 1 12 1-12 1 17 1-15 1 4 1 12 1 10 1-10 1-2 1-18 1 9 1 7 1-2 1 2 1 11 1 2 1-19 1-3 1-8 1 17 1 6 1 6 1-19 1 2 1-4 1 31 1-5 1-21 1 7 1-10 1 3 1 27 1-25 1 1 1 2 1-14 1-3 1-4 1 31 1-18 1 2 1 15 1-29 1 15 1-3 1 12 1-7 1-14 1 27 1 3 1-9 1-7 1 2 1-10 1 8 1 14 1-8 1-16 1 0 1 11 1 15 1-8 1-5 1 16 1-23 1 12 1-7 1-9 1 18 1-19 1 13 1 10 1-23 1 26 1 1 1-5 1-11 1 0 1 0 1 3 1-9 1 12 1 12 1-29 1 31 1-28 1-4 1 7 1 8 1 2 1 15 1-11 1 7 1-21 1 14 1-23 1 6 1 36 1-25 1 12 1-3 1-1 1-21 1 16 1 21 1-13 1-14 1 4 1-5 1 7 1-1 1-1 1-7 1-10 1 22 1-3 1 8 1 2 1-14 1 15 1-14 1 12 1-3 1-15 1 18 1-5 1-3 1-3 1 2 1-8 1-5 1 12 1 9 1-11 1 10 1-22 1 31 1-14 1-5 1 3 1 3 1-2 1 3 1-17 1 19 1-8 1-9 1 19 1-8 1 16 1-22 1 20 1-8 1-19 1 23 1 1 1-1 1-15 1-18 1 19 1 6 1 8 1 3 1 0 1-1 1-9 1-6 1 9 1-9 1 7 1-6 1 10 1-10 1-3 1 1 1 16 1-16 1 18 1-22 1 12 1-6 1-8 1 11 1 5 1 2 1-9 1-8 1 3 1 2 1 24 1-31 1 11 1 23 1-32 1 27 1-2 1 1 1-10 1-22 1 16 1-1 1 24 1-11 1-23 1-12 1 16 1 27 1-17 1-2 1 7 1-10 1 6 1-11 1 1 1 12 1-3 1 5 1-6 1 9 1-2 1-4 1 7 1-9 1-13 1 3 1 5 1 14 1-16 1 3 1 15 1 2 1-28 1 3 1 9 1 3 1-11 1-5 1 36 1-17 1 10 1-6 1-2 1-23 1 21 1-2 1 0 1-9 1-5 1 13 1 6 1 4 1-9 1-18 1 13 1-1 1-2 1-5 1 17 1-12 1 7 1 5 1-13 1 4 1-3 1 18 1-19 1-8 1 25 1-33 1 38 1-10 1 0 1 0 1-3 1 3 1-28 1 20 1-8 1-7 1 6 1 9 1 5 1-10 1-1 1 23 1-8 1-22 1 8 1 9 1 7 1-13 1 4 1 10 1-24 1 16 1-4 1-7 1 12 1 5 1-10 1-3 1 19 1-11 1-11 1 12 1 4 1-9 1-16 1 13 1-6 1 26 1-22 1 24 1-16 1 0 1 3 1 12 1-26 1 7 1 1 1 6 1-9 1 7 1 7 1-16 1 20 1-12 1-2 1 8 1-9 1 7 1-10 1-15 1 24 1 4 1-8 1 9 1-16 1 28 1-22 1 7 1-5 1-1 1-7 1 22 1-15 1-5 1 17 1-1 1-16 1 13 1 5 1-9 1-14 1 11 1-6 1-5 1 16 1 2 1-27 1 17 1-4 1 12 1-9 1-8 1 26 1-15 1 25 1-21 1-10 1-5 1-1 1 11 1 5 1 11 1-24 1 12 1 7 1 16 1-14 1-4 1 1 1-19 1 14 1-13 1 32 1-11 1-10 1-2 1 0 1 9 1-11 1 4 1-7 1 14 1 1 1-16 1 15 1-7 1 10 1 1 1-18 1 14 1 5 1-22 1 12 1-18 1 23 1-21 1 24 1-12 1 10 1 13 1-19 1-9 1-2 1 18 1-19 1-2 1 17 1 9 1-9 1 15 1-6 1-4 1-3 1-1 1 1 1 5 1-8 1-16 1-2 1-2 1 18 1-14 1 12 1 5 1 8 1-20 1 0 1-13 1 1 1 17 1 18 1-44 1 30 1 2 1 11 1-1 1-9 1-19 1 8 1 5 1-4 1 14 1-12 1-6 1 9 1 10 1-13 1-5 1 3 1 8 1 2 1-9 1-1 1 15 1 14 1 3 1-2 1-33 1 13 1-2 1-4 1-1 1 5 1 5 1 8 1 1 1-16 1 0 1 12 1-2 1-11 1 5 1-31 1 33 1-14 1 14 1-30 1 28 1-12 1 6 1 6 1-7 1 22 1-6 1-13 1 20 1-17 1 3 1 15 1 1 1-18 1 7 1-8 1 11 1-12 1 13 1-26 1 22 1 5 1-10 1-17 1 18 1-13 1 6 1 6 1 15 1-18 1-9 1 27 1-19 1-3 1 3 1 0 1 15 1-33 1 12 1 15 1-5 1-3 1-17 1 26 1-13 1 18 1-53 1 44 1 2 1 10 1-15 1-7 1 9 1-6 1 5 1-20 1 19 1 1 1 1 1-2 1 17 1 2 1-8 1-9 1 12 1-11 1-5 1-2 1 5 1 26 1-13 1-1 1-7 1-9 1 8 1-3 1-5 1 23 1-32 1 2 1 2 1 5 1 5 1 14 1-5 1-15 1 2 1 6 1 9 1-5 1 2 1 2 1-4 1-4 1-19 1 15 1-7 1 4 1 3 1 11 1 11 1-25 1 13 1 1 1-23 1 24 1-7 1-16 1 18 1 5 1 1 1-11 1 11 1 3 1-3 1-20 1 22 1-13 1 0 1 17 1 2 1 0 1-41 1 40 1-33 1 26 1-17 1 14 1 7 1-1 1-12 1-22 1 19 1 1 1 5 1 9 1-16 1 15 1-16 1 3 1 9 1 4 1 2 1-14 1 11 1-16 1 30 1-13 1-6 1-9 1 3 1 7 1-8 1 7 1-9 1 2 1 16 1-23 1 10 1-5 1 14 1-14 1 6 1 4 1-4 1 9 1-3 1-1 1-7 1 3 1-5 1 1 1-3 1 23 1 3 1-27 1 10 1 9 1-10 1 17 1-26 1 12 1-21 1 32 1-18 1 8 1 7 1-10 1-5 1 0 1 19 1 2 1-19 1 17 1-18 1-15 1 14 1-1 1 10 1 1 1-11 1 0 1 5 1-21 1 28 1 4 1-9 1-13 1 11 1-6 1 2 1 21 1-18 1-4 1 13 1-19 1 41 1-25 1-1 1 1 1-16 1 18 1-1 1-4 1-8 1 7 1 25 1-31 1 11 1 4 1-28 1 16 1 9 1 7 1-9 1-8 1 5 1-16 1 21 1-5 1-2 1 3 1 1 1-11 1 29 1-29 1 11 1-1 1-16 1 13 1-7 1-3 1-5 1 16 1 10 1-2 1-8 1 5 1-24 1 23 1-8 1 11 1 1 1-6 1-3 1 0 1 19 1-20 1 7 1 10 1-1 1-26 1 14 1-12 1 8 1 10 1-23 1 18 1-3 1 9 1-7 1 1 1-4 1 13 1-4 1-4 1-32 1 36 1-12 1 11 1-2 1 2 1-8 1 5 1-4 1-12 1 17 1-10 1 7 1 9 1 2 1-7 1-2 1-2 1-8 1 12 1-1 1-8 1 10 1-15 1 14 1-10 1-1 1 0 1 3 1-4 1 9 1 0 1 26 1-42 1 9 1 14 1 6 1-13 1 8 1-12 1 11 1-12 1-7 1 13 1-4 1 2 1-4 1-9 1 10 1-2 1-6 1 4 1 6 1 1 1-8 1-2 1 4 1-1 1 5 1 17 1-18 1-14 1 30 1-14 1-3 1 8 1-9 1 20 1-16 1 1 1-4 1 9 1-10 1 1 1 2 1-6 1 15 1 5 1-21 1 5 1 8 1-15 1 4 1 12 1-5 1 3 1-20 1 27 1-9 1-2 1 18 1-8 1-22 1 30 1-22 1 4 1-19 1 34 1-13 1 5 1 4 1-8 1-19 1 33 1-17 1-11 1 10 1 1 1-1 1 3 1 5 1 13 1-9 1-7 1 19 1-19 1 21 1-21 1-16 1 28 1-14 1-2 1 2 1 2 1 5 1-7 1-10 1 15 1 1 1-8 1 6 1 8 1-40 1 11 1 11 1 15 1-22 1 25 1-16 1 9 1-8 1-1 1 2 1-4 1-2 1 2 1 3 1-3 1-6 1 8 1 2 1 9 1-1 1-4 1 1 1-13 1 7 1 11 1-3 1 10 1 6 1-3 1-22 1 0 1 2 1 16 1-9 1-6 1-8 1 10 1-2 1 14 1 11 1-35 1-2 1 22 1-1 1-12 1 9 1 0 1-13 1 16 1-11 1 7 1 10 1-21 1 23 1-7 1 8 1-23 1 11 1-17 1 14 1 13 1 5 1-12 1-15 1-6 1 19 1-10 1 10 1-3 1-1 1 15 1-28 1 11 1 10 1 7 1-25 1-1 1 6 1-11 1 5 1 24 1-28 1 2 1 9 1 5 1-9 1 8 1 8 1-2 1-9 1 14 1 4 1-10 1-38 1 42 1-12 1 12 1-15 1-1 1 1 1 1 1 33 1-34 1 1 1 6 1-12 1 5 1-12 1 26 1-33 1 23 1 3 1 10 1-4 1-3 1-13 1 31 1-9 1-9 1-18 1 9 1-6 1 0 1 3 1-7 1 2 1 7 1 2 1-16 1 16 1 27 1-26 1-4 1 0 1 26 1-13 1 1 1-3 1-5 1 18 1-20 1-18 1 25 1 4 1-6 1 3 1-1 1-1 1 16 1-5 1-8 1-4 1-6 1-6 1-11 1 10 1 9 1 0 1 13 1-9 1-20 1 2 1 10 1 29 1-27 1 10 1-3 1-7 1 11 1-26 1 10 1-5 1 18 1 16 1-24 1-6 1 0 1 10 1-2 1 6 1-10 1 0 1 17 1 10 1-14 1-22 1 36 1 9 1-38 1 16 1-9 1 6 1-1 1 3 1-12 1 8 1-8 1 9 1-2 1-8 1 6 1-4 1 8 1-1 1 1 1-41 1 36 1-4 1 0 1 14 1-1 1-6 1 13 1-2 1-9 1 6 1 8 1-26 1-2 1-5 1 13 1 3 1 12 1-17 1 19 1-1 1 0 1-12 1-7 1 19 1-8 1-6 1 11 1-2 1-14 1 12 1-3 1-4 1 6 1-11 1 8 1-6 1 12 1-6 1-3 1 10 1-13 1-7 1 22 1-18 1 21 1-4 1-12 1-3 1 25 1-18 1-3 1-2 1-4 1 29 1-14 1-5 1-5 1 1 1 19 1-35 1 13 1-1 1-5 1 20 1-12 1 16 1-1 1-19 1 19 1-7 1-5 1 14 1-9 1-1 1-14 1 21 1-11 1 14 1-13 1 11 1-8 1 5 1-25 1 19 1-3 1 0 1-15 1 0 1 23 1-6 1 4 1 5 1-14 1 18 1-7 1-3 1-2 1 16 1-12 1 2 1-15 1 12 1-13 1 3 1 10 1-6 1-15 1 7 1 5 1 10 1-10 1 15 1-9 1-10 1 24 1-16 1-3 1-2 1 6 1-4 1 6 1 5 1-5 1-8 1 16 1-12 1 6 1-24 1 30 1-15 1 13 1-18 1 9 1 14 1-2 1-8 1 4 1-25 1 12 1 5 1-17 1 13 1 7 1 7 1-11 1 14 1 12 1-25 1 13 1-6 1 7 1-32 1 23 1-8 1-16 1 9 1 8 1 7 1-9 1-9 1 12 1 14 1-21 1 15 1 5 1-12 1-6 1-1 1 20 1-6 1-6 1 2 1-12 1 9 1 15 1-8 1-1 1 2 1-12 1 8 1-13 1-28 1 37 1-3 1-2 1-7 1 10 1 0 1-6 1 2 1-5 1 6 1 12 1-16 1 16 1-19 1 6 1 33 1-40 1 22 1-16 1 10 1 2 1 4 1-9 1-5 1 28 1-16 1 0 1-14 1-2 1 15 1 8 1-18 1-6 1 26 1-20 1 9 1-22 1 18 1-7 1 0 1 0 1 9 1-5 1 5 1-6 1 14 1-16 1 3 1 13 1-9 1-7 1 1 1-2 1 16 1-9 1 0 1-14 1 22 1 0 1 3 1-21 1 21 1-16 1 9 1-2 1 6 1-20 1 13 1 6 1 10 1-18 1 6 1 8 1-16 1 1 1 3 1 12 1-15 1 7 1-8 1 6 1 14 1-10 1-1 1-8 1-2 1 13 1 3 1-22 1 9 1-2 1 1 1 11 1-18 1 20 1 4 1-26 1 13 1-3 1-7 1 27 1 7 1-29 1-3 1 9 1 10 1-2 1-5 1-14 1-5 1 14 1 6 1 3 1 5 1-13 1-1 1 12 1-12 1 15 1-35 1 32 1-8 1 0 1 5 1-7 1-14 1 9 1 19 1-17 1 2 1-4 1 3 1-4 1-5 1 10 1-6 1-4 1 20 1-12 1 5 1 11 1 2 1-20 1 8 1-4 1-6 1 9 1-11 1 2 1 7 1 2 1 3 1-7 1 10 1-12 1 0 1 10 1-14 1 12 1 2 1-11 1-1 1 6 1 4 1-9 1 1 1-10 1 16 1 4 1 1 1-8 1 5 1 9 1-7 1-5 1-1 1 9 1-6 1-5 1 11 1-9 1 6 1-9 1 14 1-9 1-7 1-1 1 22 1-7 1 0 1-12 1 2 1-2 1 7 1-5 1 4 1-12 1 29 1-29 1 49 1-36 1 8 1-11 1 9 1-6 1-13 1 2 1-3 1 18 1-9 1 1 1 2 1-2 1 0 1-6 1-2 1 16 1-5 1-2 1 5 1-1 1-1 1 8 1-43 1 35 1-23 1 34 1-8 1-7 1 0 1 7 1-10 1 2 1 9 1-28 1 24 1 1 1 3 1-3 1-18 1 25 1-20 1-14 1 24 1-1 1 5 1 0 1 8 1-5 1-21 1 17 1 0 1-5 1 2 1-2 1 7 1-14 1-13 1 19 1-6 1 5 1 9 1-16 1 10 1-10 1-6 1 10 1-3 1 12 1-13 1 8 1 0 1-1 1 9 1 3 1-4 1 5 1-9 1 9 1-3 1-7 1 10 1-18 1-1 1-2 1 14 1-14 1 18 1-18 1 7 1 3 1 5 1-11 1 12 1 8 1-14 1-15 1 25 1-13 1-3 1 8 1-19 1 25 1-18 1 14 1-3 1-7 1 10 1 0 1-6 1 4 1 1 1-8 1-3 1 8 1-14 1 5 1 15 1 0 1-7 1 7 1-7 1-5 1 12 1-6 1 1 1-2 1 21 1-14 1 3 1-10 1 6 1-10 1 3 1 1 1 1 1 15 1-20 1 14 1-6 1-1 1 32 1-35 1-13 1 25 1-4 1-19 1 18 1-14 1 8 1 12 1-19 1 6 1 13 1-11 1-4 1 11 1 2 1 8 1 4 1-35 1 0 1 9 1-9 1 1 1 1 1 18 1 3 1-15 1 25 1-4 1-21 1 3 1 0 1 8 1 0 1-4 1 1 1 0 1 4 1-11 1 6 1-8 1 8 1-3 1 3 1-16 1 3 1 27 1-12 1-10 1 12 1 14 1-8 1-20 1 3 1-10 1 8 1 17 1 5 1-13 1-13 1-8 1 24 1-4 1-1 1 1 1 17 1-19 1 5 1 3 1 8 1-14 1-1 1 7 1-6 1-8 1 8 1-1 1-6 1-5 1 5 1 3 1 11 1 4 1-34 1 25 1-3 1 2 1 5 1-13 1-16 1 27 1-5 1 7 1-2 1-6 1 8 1-8 1 9 1-14 1 10 1 0 1-8 1 6 1 14 1-18 1-7 1 23 1 6 1-15 1 1 1 2 1-9 1 10 1-9 1-18 1 16 1 6 1 14 1-17 1-5 1 6 1-1 1-4 1 15 1-7 1-10 1 8 1 6 1-20 1-13 1 23 1-6 1 0 1 4 1-7 1 28 1-14 1 3 1-11 1 10 1-27 1 11 1 15 1-9 1 5 1-18 1 16 1 6 1 2 1-6 1-5 1 17 1-19 1 2" transform="translate(583.17 0) scale(0.2757 0.5)" fill="none" stroke="#ee4b2b" stroke-width="2.40" vector-effect="non-scaling-stroke" stroke-linejoin="round" />
<path d="M0 1395 l1 27 1-11 1 22 1 2 1 6 1 18 1-5 1 10 1-11 1 34 1-4 1 3 1 28 1-6 1-28 1 53 1-19 1 10 1 5 1-10 1 26 1 16 1 28 1 15 1-34 1 56 1-34 1 38 1-17 1 2 1-45 1 78 1-51 1 50 1-44 1 0 1 13 1 10 1 10 1 35 1 9 1 6 1 17 1-4 1 0 1-4 1 29 1-25 1-36 1 25 1 47 1-29 1-3 1 37 1-18 1 2 1 0 1 33 1-17 1-5 1 4 1-14 1 6 1 78 1-65 1 27 1-36 1 7 1-6 1 19 1 23 1-35 1 10 1-21 1 49 1 1 1-11 1 22 1-8 1-15 1-29 1 33 1-14 1 29 1 13 1-31 1-19 1 61 1-5 1 4 1-43 1 20 1 28 1 22 1-18 1-58 1 78 1-46 1 2 1 32 1-24 1 1 1 14 1-3 1 4 1-6 1-11 1 12 1 6 1 1 1 20 1 28 1-61 1 31 1 6 1-27 1 14 1-4 1 14 1-2 1 1 1 27 1-43 1 42 1 7 1-3 1-38 1 1 1 24 1-5 1 0 1 45 1-42 1 38 1 13 1 28 1-9 1-17 1-15 1-31 1 27 1-2 1 46 1-17 1-13 1-25 1 5 1 19 1 15 1 17 1-9 1-5 1 18 1-38 1 12 1 1 1 19 1 18 1-25 1-25 1 39 1-24 1 36 1-54 1 118 1-89 1 58 1-20 1 17 1-5 1-34 1 4 1-2 1-3 1 47 1-42 1 13 1-29 1 47 1-35 1 82 1-49 1 0 1 14 1-23 1 9 1 11 1 6 1 11 1-12 1-40 1 37 1-8 1 12 1 12 1-4 1 47 1-48 1-9 1 18 1 6 1 29 1-42 1 29 1-3 1-2 1 1 1 3 1-28 1 15 1 19 1 29 1-11 1-11 1 2 1 3 1 6 1 10 1-48 1 26 1 54 1-26 1-25 1 0 1 15 1-27 1 14 1 33 1 4 1-10 1-1 1-7 1-18 1 8 1 9 1 11 1-18 1 3 1 49 1-30 1 25 1-17 1-15 1 12 1-19 1 47 1 0 1 1 1-9 1-12 1-6 1 33 1-17 1-4 1 2 1 10 1-11 1 14 1 17 1 5 1-31 1 22 1-10 1-16 1-8 1 44 1 29 1-25 1 18 1 14 1-8 1-47 1 25 1-13 1-26 1 56 1-29 1 39 1-31 1 7 1-7 1 9 1 22 1-12 1 2 1-8 1 18 1-32 1 30 1 4 1-20 1 39 1-20 1-31 1 24 1 19 1-9 1-36 1 47 1-22 1 16 1-45 1 82 1 1 1-33 1-31 1 41 1 37 1-16 1 25 1-76 1 58 1-33 1 1 1 25 1-9 1-26 1-19 1 36 1-6 1 67 1-66 1 49 1-40 1 43 1-11 1 16 1-21 1 11 1-22 1-16 1 58 1 7 1-26 1 71 1-101 1 21 1-10 1 27 1-36 1 31 1 11 1 18 1-26 1 43 1-65 1 33 1 28 1-87 1 49 1 8 1 25 1-8 1-39 1 12 1 7 1 28 1 14 1-31 1-20 1-5 1 42 1 13 1-41 1-6 1 4 1 26 1-40 1 24 1 15 1-35 1 46 1-25 1 40 1-95 1 100 1-51 1 35 1 14 1-21 1 17 1-7 1-2 1 31 1-66 1 60 1 21 1-17 1-34 1 28 1 8 1 4 1-55 1-2 1 75 1-15 1-6 1-9 1 23 1 15 1-13 1-29 1 26 1 33 1-41 1-16 1 42 1-31 1 14 1 36 1-10 1-44 1 41 1 7 1 8 1-29 1 4 1 37 1-72 1 16 1 3 1 36 1 1 1-12 1 20 1-33 1-2 1 11 1-32 1 12 1 34 1-8 1-10 1 39 1-10 1-9 1 1 1 23 1 27 1-66 1 16 1-7 1 20 1-50 1 41 1 38 1-37 1-16 1 33 1 6 1-27 1 41 1-24 1 26 1-10 1-15 1-6 1 24 1-33 1-9 1 65 1-61 1 18 1 1 1 9 1-25 1 8 1 46 1-18 1-44 1 57 1-3 1-16 1-22 1 60 1 22 1-63 1-28 1 87 1-41 1 8 1 0 1-26 1 11 1-2 1 17 1-14 1 38 1-30 1 31 1-52 1 28 1 4 1-21 1 28 1-12 1 67 1-35 1-22 1-13 1 12 1 28 1-13 1-19 1-3 1-29 1 62 1-34 1 17 1 13 1-29 1 5 1 19 1 25 1-32 1-1 1 4 1-7 1 28 1-41 1 22 1 4 1 32 1-11 1-33 1 7 1-16 1 23 1 1 1-27 1 36 1 45 1-41 1-15 1-12 1 50 1-26 1-12 1-18 1 53 1-67 1 56 1-23 1 41 1-25 1-8 1 38 1-53 1 47 1-1 1-64 1 29 1 2 1 10 1 13 1-6 1 19 1-23 1-20 1-18 1 27 1 9 1-1 1 37 1-20 1-32 1 18 1 8 1 62 1-36 1-20 1 17 1 14 1-44 1 61 1-55 1 37 1 20 1-33 1 13 1-34 1 50 1-7 1 24 1-21 1-33 1-4 1 0 1 3 1 44 1-60 1 6 1 10 1-13 1 12 1 42 1-28 1 13 1-8 1 23 1 8 1-10 1-7 1-18 1-10 1 33 1 7 1 9 1-14 1-19 1 1 1 30 1-22 1-9 1-9 1 13 1 45 1-13 1 22 1-20 1 0 1 15 1 3 1-28 1-54 1 55 1-12 1 45 1-21 1-20 1-13 1 41 1 14 1-55 1 40 1-21 1 21 1 41 1-73 1 40 1 28 1-39 1-23 1-29 1 38 1 27 1-28 1 52 1-79 1 21 1 41 1-9 1 14 1-5 1-24 1 8 1 41 1-24 1 35 1-31 1 20 1-9 1-23 1-17 1 49 1-32 1-24 1 64 1-20 1-2 1-29 1 42 1-17 1-24 1 15 1-10 1 59 1-42 1 19 1 18 1 18 1-53 1-10 1 44 1-2 1 37 1-59 1 43 1-10 1-18 1-69 1 69 1-8 1-37 1 62 1-32 1-5 1 17 1 31 1 18 1-18 1-11 1-4 1-39 1 13 1 20 1 3 1-13 1 51 1 14 1-63 1 39 1-18 1 51 1-28 1-4 1-6 1 11 1-20 1 39 1-40 1-32 1 34 1 18 1-47 1-32 1 59 1 33 1-10 1-74 1 73 1-22 1-8 1 19 1 51 1-78 1 23 1-41 1 60 1-4 1 0 1 3 1-35 1 25 1-2 1-14 1 37 1-3 1-34 1 24 1 8 1-3 1 8 1-12 1-5 1-23 1 12 1 20 1 1 1-29 1 19 1 21 1 18 1-16 1-12 1 19 1-51 1 40 1-22 1 56 1-62 1 39 1 28 1-51 1-3 1 14 1-6 1-14 1 7 1 32 1-3 1-33 1-1 1 26 1 6 1-6 1 2 1 40 1-17 1-9 1-27 1 50 1-39 1 9 1-57 1 72 1-54 1 23 1 36 1-27 1-11 1 45 1-5 1-16 1 10 1-37 1 26 1-13 1-32 1 49 1-25 1 12 1 10 1-6 1 22 1-28 1 25 1-24 1 23 1-11 1 30 1 23 1-49 1 14 1-34 1 10 1 22 1 15 1-49 1 20 1 32 1-64 1 48 1-15 1 45 1-44 1-15 1 76 1-22 1-21 1 31 1-48 1 12 1-18 1-3 1 31 1-18 1 45 1-52 1 19 1-50 1 51 1-14 1 0 1 16 1-9 1-17 1 38 1-11 1-15 1 70 1-57 1 20 1 1 1-25 1 15 1-10 1-14 1 11 1 45 1-34 1 34 1-18 1-47 1 28 1 20 1-13 1 13 1-7 1-22 1 36 1 21 1-49 1 4 1 11 1 14 1-23 1 28 1-27 1-7 1-26 1 50 1 11 1-36 1 19 1-17 1-1 1 52 1-12 1-97 1 94 1-11 1 33 1-31 1-2 1-22 1 14 1-2 1-25 1 49 1-27 1 15 1 10 1-53 1 31 1-24 1 19 1-13 1 29 1-31 1 3 1 14 1 1 1 7 1 4 1 8 1 38 1-57 1 10 1-10 1 52 1-74 1 15 1 41 1-10 1-37 1 54 1-45 1 2 1 50 1 0 1-8 1-14 1 12 1-33 1 89 1-108 1 50 1 16 1-49 1 15 1 15 1 30 1-16 1 4 1-25 1 12 1 11 1 11 1-60 1 32 1-4 1-7 1 49 1-55 1 28 1-8 1 10 1-29 1-10 1 71 1-21 1-26 1-12 1 18 1-5 1-5 1 25 1-10 1-9 1 10 1-19 1 35 1-14 1-49 1 57 1-24 1 7 1 28 1-24 1 9 1-37 1 54 1-30 1 30 1-20 1 2 1 20 1-8 1-15 1 10 1 33 1-41 1-8 1 21 1-41 1 35 1-12 1 18 1-62 1 69 1-15 1-21 1 36 1-30 1-42 1 27 1 20 1-4 1 7 1-9 1 21 1 6 1-35 1 45 1-44 1 35 1 3 1-19 1-10 1-11 1 64 1-74 1 30 1 1 1 25 1-7 1-20 1-10 1 58 1-48 1-12 1 51 1-40 1-18 1 35 1-27 1-31 1 39 1 15 1-40 1 29 1 29 1-33 1-16 1 6 1 34 1-27 1 20 1-12 1-15 1 52 1 4 1-60 1 34 1-3 1-2 1-3 1 32 1 20 1-48 1-6 1 20 1-33 1 0 1 27 1 10 1-11 1 0 1-57 1 26 1 17 1 18 1-38 1 32 1-11 1 12 1-21 1 33 1-36 1 45 1-41 1 21 1-35 1 9 1 22 1-54 1 48 1-1 1 68 1-69 1 38 1-38 1-11 1 38 1-15 1 54 1-90 1-5 1 54 1 3 1-2 1-26 1 26 1-23 1-13 1 10 1-35 1 55 1-1 1-34 1-16 1 41 1 16 1-72 1 41 1-6 1 43 1 3 1-63 1 15 1-26 1 41 1 4 1 19 1-67 1 4 1 43 1-1 1-21 1 14 1 11 1-14 1 39 1 2 1-27 1-15 1-22 1 18 1-2 1-56 1 62 1 9 1-8 1-33 1 2 1 42 1 8 1-38 1-13 1 6 1 27 1 40 1-24 1-2 1-28 1 11 1-21 1 41 1-16 1-23 1 22 1 34 1-51 1-27 1 35 1 5 1 8 1-9 1 19 1-17 1 8 1 28 1-63 1 4 1 25 1-25 1 7 1 109 1-117 1 3 1 29 1-10 1-39 1 44 1 23 1-34 1 14 1-13 1-19 1 1 1 33 1-5 1-46 1 72 1-29 1 15 1-2 1-58 1 28 1-7 1-3 1 15 1 12 1-15 1 49 1-68 1 84 1-56 1 35 1-30 1-42 1 27 1-8 1 27 1-10 1-32 1 76 1-29 1-58 1 17 1 9 1 11 1 1 1-13 1 46 1-70 1 43 1-8 1 24 1-37 1 6 1 45 1-37 1-7 1-4 1-5 1-21 1 0 1 9 1 19 1 18 1-34 1 6 1 9 1-14 1 12 1 25 1-43 1-10 1 15 1 12 1-23 1 37 1 29 1-23 1 8 1 4 1-16 1-15 1 1 1-38 1 4 1 13 1-10 1 7 1 26 1-13 1-4 1 48 1-53 1 7 1 24 1-28 1 30 1-42 1 47 1-23 1-45 1 33 1 14 1-27 1 24 1-19 1 21 1-17 1 28 1-13 1 11 1-3 1-29 1 3 1 13 1 39 1-36 1-39 1 53 1-19 1 19 1-48 1 9 1-4 1-12 1 55 1-36 1-13 1-12 1 14 1 30 1 10 1-13 1-22 1 10 1-42 1 7 1 26 1 9 1-10 1 7 1-17 1 5 1 8 1-11 1-3 1 0 1 45 1-57 1 67 1-65 1 37 1 7 1 3 1-37 1-98 1 84 1 25 1 44 1-57 1 16 1 10 1 18 1-23 1 20 1-50 1-20 1 32 1-33 1 49 1-17 1 21 1-43 1 9 1 2 1 33 1-30 1 3 1 34 1-55 1 12 1 44 1-85 1 75 1-33 1 3 1 4 1 3 1-7 1 32 1-77 1-3 1 51 1-35 1 24 1-4 1 5 1 14 1-63 1 30 1 53 1-45 1-2 1 113 1-94 1-28 1 39 1-7 1-39 1 42 1-24 1-36 1 58 1-1 1-6 1-2 1-23 1 3 1-12 1 42 1-10 1 26 1-30 1-20 1-5 1-7 1 1 1 81 1-105 1 17 1-11 1 55 1-16 1-14 1 28 1-29 1 17 1 57 1-69 1-2 1 15 1 5 1 0 1-24 1 14 1-7 1 19 1-29 1 1 1-17 1 11 1-5 1 22 1 40 1-59 1 87 1-82 1 30 1-13 1-27 1 10 1-32 1 43 1 30 1-34 1 32 1-40 1-5 1 7 1-12 1 16 1 32 1-38 1-14 1 10 1 20 1-24 1-36 1 18 1 53 1-37 1 29 1-28 1-16 1 20 1 16 1-28 1-23 1 20 1-8 1 39 1-45 1-4 1-9 1 30 1-10 1 2 1 16 1-13 1 55 1-16 1-51 1 54 1-39 1 7 1-31 1 32 1 11 1-10 1-6 1 14 1-8 1-48 1 29 1 12 1-24 1 59 1-34 1-12 1 4 1 5 1-24 1-3 1-23 1 57 1-16 1-34 1 49 1-21 1-12 1-10 1 60 1-19 1-12 1-1 1-13 1 0 1 35 1-46 1-4 1 35 1-62 1 27 1-5 1 13 1-29 1 20 1-1 1 12 1 12 1 12 1-24 1-16 1-4 1 4 1 54 1-14 1-8 1-10 1-38 1 46 1-28 1-19 1-1 1 27 1-21 1 49 1-8 1-12 1-6 1 6 1-62 1 14 1 30 1-11 1-38 1 52 1-19 1-11 1 39 1 6 1-41 1 13 1 7 1-13 1 10 1-31 1 7 1 26 1-10 1 41 1-53 1 5 1 11 1 6 1-6 1 21 1-22 1 13 1-32 1 32 1-13 1-42 1 55 1-6 1-38 1 24 1 22 1-33 1 33 1-35 1 31 1-22 1-65 1 58 1-8 1 13 1-20 1 56 1-38 1-7 1-4 1 0 1-15 1 22 1-27 1 6 1-30 1 67 1 2 1-44 1 6 1-24 1-1 1 43 1 36 1-62 1 30 1-48 1 68 1 12 1-48 1 7 1 32 1-22 1-46 1 33 1-40 1 50 1-10 1 16 1-17 1 3 1-19 1 18 1-16 1-7 1 66 1-99 1 44 1-18 1 3 1 12 1 0 1 20 1-89 1 75 1-14 1 26 1-46 1-29 1 48 1-13 1-3 1 4 1 31 1-29 1 33 1-12 1-33 1-71 1 103 1-41 1-1 1 38 1 13 1 0 1-35 1 3 1-20 1 23 1 6 1 33 1-43 1-18 1 41 1-39 1-8 1 26 1 1 1-4 1-25 1 20 1-23 1-9 1 45 1 38 1-41 1 20 1-16 1 34 1-61 1 9 1 0 1 16 1 6 1-33 1-13 1-13 1-5 1 58 1-40 1 45 1-28 1 22 1 1 1-1 1 5 1-35 1 26 1-22 1-12 1 16 1 11 1-33 1 51 1-51 1-5 1 9 1 38 1-26 1 13 1 1 1-40 1 26 1 22 1-3 1-18 1 12 1-7 1 11 1-51 1 10 1 50 1-27 1-25 1 32 1-4 1-26 1 24 1-8 1 20 1-17 1 5 1 13 1-12 1-19 1-12 1 7 1 1 1 12 1-3 1-2 1-9 1 43 1-30 1-26 1 29 1 18 1-20 1 9 1-29 1 37 1-4 1 29 1-35 1 37 1-22 1 2 1 2 1-50 1 37 1 4 1 0 1-28 1-14 1 7 1-15 1 34 1-23 1 17 1-1 1-6 1-12 1 0 1 41 1-58 1 37 1-25 1 4 1 9 1 48 1-34 1 5 1 2 1 5 1-14 1 48 1-51 1-16 1 9 1 0 1 33 1-66 1 17 1 13 1 2 1-6 1-16 1 18 1 6 1-33 1 23 1 4 1-1 1 35 1-84 1 58 1-2 1-37 1 47 1-42 1 27 1-21 1 8 1 21 1 9 1-20 1 2 1-9 1 24 1-1 1-66 1 82 1-54 1-20 1 16 1 14 1-4 1-22 1 41 1-24 1 14 1 34 1-31 1-51 1 20 1 12 1 19 1 14 1-38 1 8 1 12 1 7 1 8 1 17 1-60 1 34 1-33 1 20 1 13 1-2 1-14 1-16 1 34 1-7 1-55 1 69 1 10 1-105 1 96 1-13 1 2 1-41 1 6 1 20 1 12 1-7 1 24 1-43 1-22 1 10 1 34 1 0 1 8 1-10 1 6 1-14 1 8 1 7 1-6 1-28 1-11 1 20 1 53 1-47 1-25 1-11 1 14 1 33 1 4 1-51 1 12 1 1 1-37 1 46 1-2 1 9 1-24 1 8 1 16 1-13 1 46 1 0 1-42 1 4 1-7 1 50 1-61 1-15 1-11 1 5 1 34 1-8 1-2 1-57 1 91 1-19 1-53 1 46 1-26 1 71 1-46 1-36 1 0 1 54 1-43 1 3 1 14 1-7 1-25 1 45 1-25 1 35 1-28 1 14 1 16 1-19 1-19 1-24 1 25 1-27 1 18 1 0 1 9 1 20 1-5 1-2 1-16 1 2 1-25 1 50 1-37 1 17 1-4 1-38 1 45 1-25 1 23 1 17 1-48 1 28 1-27 1 17 1-4 1-12 1 9 1 10 1-5 1 6 1-9 1-16 1-20 1 35 1-7 1 35 1-43 1 11 1-12 1-15 1 3 1-58 1 71 1-24 1 30 1 7 1-34 1 2 1 13 1 0 1 14 1-41 1 18 1 39 1-37 1 34 1-29 1-24 1 29 1 1 1-49 1 76 1-20 1 16 1-76 1 12 1-2 1 14 1 19 1 9 1-4 1-33 1 51 1-61 1 7 1 10 1 35 1-87 1 80 1-46 1 3 1-39 1 44 1-5 1 6 1-16 1 18 1-22 1 26 1 22 1 22 1-56 1 42 1-19 1 18 1-59 1-7 1 21 1 21 1 6 1-66 1 56 1 28 1-42 1 29 1-57 1 43 1-40 1 23 1-27 1 57 1 21 1-56 1 17 1-17 1 6 1 10 1-2 1-3 1 5 1 10 1 32 1-32 1-3 1-26 1-1 1 16 1-2 1 5 1-17 1 12 1-6 1 10 1-4 1 14 1 1 1-21 1 30 1-12 1 23 1-77 1 34 1 0 1 46 1-23 1 4 1-9 1-11 1 2 1 8 1-43 1 31 1-6 1 15 1-6 1-16 1 11 1-14 1 18 1 33 1-32 1 46 1-62 1 52 1-29 1 32 1-38 1 33 1 23 1-48 1 34 1 8 1-50 1 34 1-5 1-17 1 37 1 1 1 3 1-24 1 16 1 1 1 11 1 16 1-26 1-1 1 46 1-15 1-36 1 53 1 9 1 4 1-10 1-28 1 9 1 22 1 6 1-21 1 24 1 8 1-39 1 22 1 56 1-63 1 25 1-21 1 12 1 14 1-17 1 34 1 16 1-13 1-82 1 71 1-4 1 10 1 24 1-45 1 41 1-25 1 25 1-7 1 2 1 18 1 12 1-55 1 32 1-49 1 40 1 39 1-48 1 14 1-3 1 7 1 23 1 2 1-26 1-5 1 23 1 19 1-5 1 18 1-10 1-15 1 15 1-28 1 49 1-34 1-1 1 0 1 28 1-19 1-26 1 75 1-43 1-26 1-2 1 38 1-29 1 22 1-17 1 26 1 14 1-36 1 69 1-49 1 25 1 33 1-19 1 4 1-45 1 0 1 36 1 6 1 15 1-6 1-8 1-3 1 1 1 5 1-21 1 18 1 15 1 10 1-12 1 22 1 3 1 1 1-8 1-12 1 32 1-5 1-19 1 25 1 7 1-17 1 2 1-26 1 19 1 19 1 4 1-27 1 56 1-31 1-3 1-14 1 32 1-29 1 37 1-23 1 25 1-42 1 38 1 17 1-16 1 16 1-17 1 41 1-34 1-18 1-17 1 74 1-46 1 38 1-41 1 7 1 49 1-48 1 33 1-33 1-24 1 47 1-19 1 6 1 29 1-35 1 46 1-10 1-34 1 44 1-4 1 41 1-27 1 0 1 20 1-70 1 14 1 7 1-4 1 41 1-5 1 45 1-70 1 4 1 33 1-6 1 2 1-18 1 28 1-6 1-14 1 27 1-51 1 52 1 21 1-47 1 58 1-11 1-40 1 34 1-48 1 3 1 14 1 27 1-32 1 0 1 0 1 56 1-20 1-43 1 4 1 33 1 24 1-32 1 38 1-15 1-34 1 5 1 30 1 2 1-23 1 10 1-21 1 39 1 8 1-20 1 18 1 9 1-36 1 42 1-38 1 43 1-24 1-3 1 8 1 31 1-41 1 18 1 17 1-2 1-17 1-13 1 23 1-13 1-7 1 27 1 36 1-41 1-14 1-6 1 32 1-8 1 6 1-20 1-3 1-20 1 43 1-23 1-19 1 14 1-10 1 1 1 48 1-22 1-23 1 16 1-12 1 3 1 31 1-15 1 3 1-62 1 50 1 41 1-26 1 18 1-23 1 33 1-3 1 4 1-12 1-20 1 9 1 5 1 0 1-18 1 7 1 10 1-1 1 26 1-13 1 38 1-27 1-30 1 14 1 20 1 23 1-49 1 10 1 8 1-1 1-27 1 36 1-5 1 25 1-33 1 37 1-20 1 9 1-19 1-21 1-19 1 32 1-31 1 43 1-25 1-7 1 59 1-1 1 6 1-40 1-2 1 13 1 5 1 34 1-39 1-7 1 7 1-25 1 39 1-18 1 45 1-46 1 15 1-17 1 31 1 20 1 10 1-55 1 37 1-8 1 7 1-20 1 4 1-3 1-21 1 20 1 30 1-55 1 42 1-35 1 22 1 27 1-51 1 48 1-60 1 65 1-41 1 78 1-72 1-15 1 2 1 19 1-12 1 16 1-17 1 37 1 17 1-52 1 32 1-16 1 14 1 5 1-16 1-7 1-38 1 88 1-70 1 49 1-28 1 16 1-33 1 37 1-25 1 0 1 3 1 12 1-19 1 16 1-19 1 42 1-38 1 31 1-23 1-21 1 20 1 15 1 7 1 12 1-20 1 15 1-30 1-24 1 62 1-20 1 8 1-41 1 35 1 1 1 20 1-40 1 26 1-9 1 6 1 19 1-19 1 9 1-5 1-4 1-3 1-2 1 6 1 0 1 0 1-15 1-12 1 15 1-19 1 60 1-50 1 10 1 23 1-21 1 10 1 20 1-34 1 46 1-47 1 30 1-43 1 18 1-18 1 50 1-10 1-38 1 59 1-45 1 3 1-1 1-18 1 78 1-61 1 0 1 39 1-25 1-16 1 40 1 30 1-37 1-28 1 2 1 2 1-8 1 6 1 9 1 5 1 6 1 33 1-63 1 35 1-3 1-52 1 84 1-15 1-84 1 101 1-57 1 33 1 41 1-55 1 23 1-41 1 9 1 2 1 12 1 35 1-1 1-53 1-7 1 31 1-20 1-5 1 20 1 13 1-14 1 0 1-2 1 21 1 9 1-15 1-17 1 18 1-11 1-18 1 24 1 5 1 11 1 0 1-20 1-6 1 20 1 18 1-20 1 3 1-25 1-7 1 25 1-12 1-31 1 49 1 14 1 17 1-46 1-2 1 9 1-8 1 37 1-13 1-28 1 32 1-12 1 5 1-31 1-16 1 52 1-18 1 10 1 4 1-7 1 34 1-18 1-52 1 35 1 17 1-3 1-2 1-16 1 12 1 1 1 15 1-12 1-8 1 12 1-22 1 36 1-23 1 38 1-39 1 16 1-9 1 21 1-4 1-29 1 50 1-7 1-13 1-17 1-18 1 39 1-22 1 15 1-44 1 30 1 30 1-1 1-14 1 12 1-30 1 47 1-39 1-9 1 7 1 19 1 6 1-37 1 32 1 8 1 4 1-19 1 7 1-32 1 1 1 59 1-30 1-7 1 29 1-26 1-3 1 19 1 6 1-55 1 2 1 49 1 2 1-40 1 26 1 21 1-6 1-9 1 24 1-40 1 15 1 1 1-14 1 2 1 23 1-4 1 4 1-41 1 55 1-18 1-1 1-3 1 19 1-28 1 8 1-7 1 32 1 3 1-30 1 45 1-50 1 10 1 8 1-19 1 13 1-15 1 7 1 15 1 16 1-34 1-16 1 14 1-7 1 22 1 22 1-2 1-38 1 58 1-53 1 20 1 3 1-17 1 29 1-27 1 13 1-14 1 4 1 13 1-7 1 3 1 13 1-26 1 16 1-23 1 40 1-14 1 17 1-26 1 9 1-4 1 1 1-4 1 36 1-17 1-6 1 7 1-5 1 35 1-10 1-22 1-14 1 44 1-54 1 26 1 11 1 5 1-36 1 21 1-10 1 12 1-15 1 20 1-23 1 24 1-20 1 7 1-6 1 35 1-21 1 11 1-23 1 24 1-14 1 17 1-16 1-27 1 48 1-44 1 42 1-6 1 28 1-41 1 43 1-8 1-12 1 19 1-36 1 0 1-5 1 19 1-17 1 50 1 0 1 5 1-47 1-8 1-6 1 6 1 34 1-21 1 12 1-10 1-19 1 46 1-31 1 12 1-1 1-7 1 15 1-24 1 36 1-12 1-7 1 0 1-5 1 16 1 17 1-5 1-19 1-3 1 28 1-11 1 15 1-6 1-15 1 7 1-22 1 3 1 13 1-20 1 5 1 22 1-18 1 3 1 57 1-67 1 28 1 3 1 3 1 9 1-5 1-4 1-33 1 8 1 23 1-44 1 50 1 0 1 11 1-30 1 23 1-62 1 32 1 13 1 26 1-31 1 14 1 6 1-28 1 9 1-21 1 68 1-20 1-20 1-6 1 13 1 26 1-47 1 7 1-14 1 39 1 1 1-30 1 3 1 24 1 14 1-8 1-8 1-4 1 21 1-34 1 17 1 6 1 0 1-11 1-4 1 16 1 0 1-14 1 3 1 6 1 6 1-6 1 4 1-19 1 16 1-10 1 23 1 15 1-32 1 39 1-41 1 9 1-6 1 3 1 9 1 7 1-6 1-6 1 20 1-12 1-1 1 1 1 19 1-22 1-5 1 3 1 11 1 12 1 2 1-51 1 39 1-10 1 7 1 4 1-36 1 30 1-15 1 43 1-35 1-2 1-4 1 8 1 24 1-16 1 10 1-13 1 17 1-32 1 29 1-14 1 34 1-39 1 20 1-32 1 19 1-3 1-10 1-3 1 10 1-5 1-4 1 35 1-30 1-10 1 14 1 24 1-36 1 37 1-52 1 35 1-5 1 10 1 10 1-6 1-34 1 33 1-12 1 5 1-7 1 3 1 23 1-3 1-14 1-17 1 9 1 11 1-6 1 22 1-21 1-7 1 27 1-14 1-26 1 23 1 10 1 12 1-47 1 31 1-6 1 2 1-12 1 23 1-4 1-20 1 2 1 49 1-51 1-24 1 37 1 21 1-10 1-12 1 16 1-11 1 9 1 16 1-36 1 17 1-19 1-6 1 9 1 28 1 20 1-4 1-38 1 25 1-9 1 20 1-19 1-6 1 10 1 10 1-27 1 18 1-21 1 39 1-37 1 10 1 15 1 1 1-18 1 5 1-16 1-30 1 17 1 28 1 8 1-39 1 14 1 12 1-22 1 26 1 6 1 6 1-7 1-8 1 39 1-39 1-22 1 27 1-5 1 15 1-9 1 29 1-12 1-18 1 1 1-5 1 16 1-6 1 9 1-15 1 9 1 0 1-17 1 44 1-32 1 3 1 3 1-20 1 35 1-23 1 17 1 6 1-17 1 16 1-5 1-20 1 23 1-19 1 18 1-22 1 13 1-14 1 22 1-1 1-9 1-29 1-1 1 49 1-21 1-16 1 19 1-1 1 7 1-34 1 26 1 13 1 7 1-10 1-6 1 11 1-9 1-27 1 29 1-20 1 45 1-23 1 13 1 3 1-29 1 1 1 22 1-9 1-14 1-1 1 23 1 13 1-21 1-7 1 2 1-21 1 29 1 6 1-29 1 22 1 4 1 2 1-8 1-7 1 19 1-25 1 27 1-16 1 7 1 3 1-12 1 33 1-43 1 21 1-21 1 46 1-36 1 18 1-33 1 40 1-42 1-4 1-20 1 54 1-6 1-13 1-1 1 15 1 14 1-16 1-19 1 40 1-12 1 1 1-19 1-3 1 18 1-18 1 29 1-19 1 28 1-11 1-15 1 16 1 5 1-41 1 37 1-6 1-39 1 24 1 6 1 19 1-17 1-7 1-16 1 15 1 9 1-12 1 2 1 17 1-3 1 2 1-6 1 13 1-30 1-25 1 77 1-23 1-28 1-10 1 55 1-34 1 10 1 40 1-53 1-17 1 39 1-22 1 78 1-77 1 4 1 1 1 4 1-4 1-5 1 12 1-20 1-1 1 16 1-3 1 21 1 4 1 7 1 9 1-47 1 8 1 18 1 1 1 12 1-33 1-2 1 26 1-4 1-35 1 25 1-12 1 22 1-7 1-5 1-13 1 0 1 25 1-32 1 5 1 27 1 4 1-4 1-20 1-7 1 21 1-7 1-5 1 18 1-1 1-40 1 74 1-37 1-7 1 2 1 20 1-10 1-10 1-2 1 13 1 21 1-19 1 6 1-10 1 7 1-3 1 10 1 14 1-46 1-2 1 18 1-22 1 25 1-12 1-6 1-9 1 7 1-1 1 46 1-20 1 10 1-17 1 2 1-6 1 14 1-9 1-6 1-7 1-10 1 2 1 31 1-21 1 38 1-54 1 30 1 13 1-41 1 4 1 23 1 2 1 6 1-18 1 16 1 3 1-44 1 18 1 11 1-6 1 3 1 11 1-44 1 39 1 25 1-15 1-9 1-1 1 19 1-6 1 2 1-24 1 7 1 1 1-2 1 9 1 3 1 8 1-20 1-9 1 23 1-12 1-2 1-5 1-7 1 16 1-13 1 10 1 8 1 19 1-23 1-4 1 13 1 13 1-25 1 10 1 8 1-25 1-4 1 24 1-22 1-11 1 16 1 18 1-2 1-20 1 29 1-20 1 13 1-21 1 25 1 18 1-37 1-7 1 12 1 8 1 10 1-15 1 5 1-4 1-14 1 32 1-18 1 26 1-36 1-3 1 22 1 4 1 6 1 2 1-6 1-33 1 53 1-27 1-16 1 17 1-21 1 32 1-12 1 7 1-15 1 16 1-5 1-17 1 9 1 6 1-22 1 33 1-23 1 12 1 0 1-23 1 21 1-23 1 24 1-13 1 14 1-16 1-7 1 24 1-34 1 19 1 5 1 13 1 0 1-9 1-10 1-3 1-5 1 20 1-33 1 20 1 22 1-2 1 10 1-6 1-21 1 12 1-42 1 34 1 9 1-16 1 12 1 12 1-26 1 26 1-23 1 26 1-9 1-25 1 14 1 11 1-25 1 15 1 63 1-57 1 23 1-44 1-2 1 21 1-7 1 22 1-47 1 28 1 8 1 6 1-4 1-15 1 12 1-7 1-2 1 11 1-9 1-7 1 5 1 11 1 11 1-9 1-25 1 9 1 37 1-27 1 10 1-7 1-21 1 14 1-16 1 27 1-3 1-24 1 20 1 1 1 0 1 11 1-3 1 13 1-44 1 34 1 13 1-30 1 13 1-10 1-18 1 37 1-26 1 11 1-4 1 0 1-8 1-11 1 29 1-7 1 18 1-24 1 22 1-20 1-55 1 59 1 8 1-6 1 18 1-14 1-20 1-8 1 5 1 24 1-24 1 14 1 14 1 5 1 1 1-23 1 14 1 7 1-18 1-3 1 0 1 5 1-7 1 43 1-36 1 10 1-12 1 15 1 28 1-32 1 23 1-24 1 3 1 2 1 11 1-28 1-1 1 14 1 7 1-17 1 7 1 4 1 5 1-7 1-31 1 32 1 8 1-25 1 26 1-18 1 5 1-17 1 44 1 9 1-34 1-23 1 5 1 9 1 5 1-3 1 16 1-25 1 15 1 4 1 3 1-20 1 25 1-32 1 28 1-25 1 11 1 11 1-9 1 24 1-35 1-8 1 4 1 33 1-28 1 34 1-26 1-16 1 7 1 17 1-12 1-9 1 23 1 6 1-21 1 3 1 20 1-9 1-8 1 6 1 19 1-7 1-8 1-29 1 22 1-10 1 6 1 24 1-16 1-14 1 24 1-40 1 50 1-23 1 10 1-7 1 17 1-28 1 3 1-18 1 0 1 30 1-19 1 25 1-30 1 13 1-26 1 36 1-19 1 11 1 17 1-5 1 9 1-9 1-6 1-18 1 10 1 14 1-17 1 9 1-10 1 29 1-18 1-11 1 30 1-26 1 14 1 24 1-14 1-27 1-7 1 16 1 0 1-5 1 21 1-12 1-3 1-20 1 1 1 30 1-25 1 49 1-44 1 11 1 9 1 10 1-11 1-1 1-33 1 10 1 16 1-12 1 23 1-19 1 4 1 8 1 8 1-25 1-1 1-17 1 17 1 17 1-1 1 10 1-23 1 12 1-34 1 21 1 27 1-47 1 14 1 11 1-10 1-6 1 24 1-10 1 22 1-14 1-1 1-7 1 15 1-16 1 4 1 11 1-12 1 28 1-43 1 17 1 26 1-4 1-9 1 7 1-28 1 8 1-24 1 22 1 8 1 7 1-26 1 33 1-11 1-4 1-17 1 16 1-13 1 16 1 12 1-17 1-14 1 15 1-2 1 13 1-6 1 15 1-49 1 26 1-4 1 5 1-24 1 37 1-14 1-12 1 17 1 18 1-18 1 1 1-9 1 33 1-40 1 17 1-13 1 4 1 19 1-15 1 11 1-17 1 8 1 14 1-28 1-33 1 48 1-4 1 18 1-13 1-25 1 19 1-20 1 19 1-7 1 11 1-14 1 25 1-5 1-13 1 8 1 10 1-25 1-4 1 42 1-39 1 1 1-2 1 6 1 24 1 7 1 5 1-15 1-15 1 26 1-24 1 9 1-14 1 2 1 20 1-14 1 6 1-6 1-9 1 29 1-17 1-8 1 17 1 7 1-11 1-26 1 23 1-6 1-7 1 3 1 9 1 1 1-12 1 10 1-25 1 4 1 29 1 6 1-25 1 3 1 6 1-3 1-2 1-3 1 6 1 10 1-15 1 6 1 3 1 0 1-11 1 21 1-27 1 7 1 13 1-3 1-3 1-6 1 14 1 4 1 24 1-51 1 9 1 23 1-11 1-1 1 9 1 3 1-15 1 0 1-18 1 26 1 3 1-3 1-21 1-9 1 31 1-19 1 1 1 30 1-21 1-6 1 19 1-15 1 16 1 12 1-28 1-14 1 19 1 17 1 5 1-6 1-8 1 2 1-23 1-17 1 30 1-10 1 1 1-6 1 23 1-31 1 10 1 25 1-20 1 1 1 10 1-9 1 13 1 4 1-4 1 5 1-15 1-4 1-10 1 50 1-26 1-47 1 44 1-4 1 13 1-7 1-5 1-6 1-5 1 22 1-8 1 3 1-5 1 3 1-13 1-3 1 6 1 5 1 0 1-7 1 4 1 21 1-49 1 13 1 27 1-31 1 38 1 0 1-28 1 6 1 7 1-12 1 21 1-7 1-29 1 6 1 31 1-26 1 14 1-4 1 4 1-9 1 13 1 15 1-20 1 3 1-2 1 1 1-1 1 10 1-19 1-11 1 39 1-20 1 6 1 2 1 6 1-33 1 9 1 12 1 2 1-15 1 21 1-27 1-1 1 6 1 15 1 30 1-37 1 0 1-12 1 36 1-27 1 11 1 15 1-33 1 0 1 21 1-4 1-13 1 20 1-17 1-2 1-7 1 0 1 6 1 21 1-10 1-6 1-2 1-11 1 18 1 3 1 10 1-28 1 33 1-17 1 0 1-1 1-22 1 30 1-3 1-17 1-4 1 20 1-9 1-15 1 14 1 4 1-17 1 21 1 11 1-19 1 6 1-10 1-2 1 26 1-27 1 34 1-28 1 1 1-16 1 13 1 22 1-13 1 4 1 9 1-19 1 9 1 28 1-40 1 23 1-32 1 20 1 11 1-31 1 13 1-17 1 24 1-14 1 20 1 7 1-21 1-6 1 19 1-34 1 22 1-7 1-13 1 35 1-15 1-5 1 6 1-8 1-5 1 14 1 1 1 3 1-1 1-9 1 29 1-14 1 4 1-48 1 31 1-1 1 19 1-18 1-4 1 5 1-12 1 8 1 10 1 12 1-33 1 54 1-35 1 9 1-19 1 11 1 3 1 4 1-12 1-5 1 7 1 9 1 26 1-44 1 1 1-4 1 2 1 28 1-18 1 6 1 37 1-29 1 0 1-8 1 3 1-2 1 9 1 6 1-16 1 0 1 5 1 0 1 11 1 0 1-16 1-2 1-8 1 4 1 17 1-1 1-43 1 33 1-8 1 10 1 10 1-23 1-7 1 19 1-3 1 15 1-20 1-6 1 6 1-9 1 11 1 11 1-18 1-14 1 13 1 23 1 4 1 0 1-16 1-12 1 14 1 18 1-15 1-14 1 17 1 2 1-38 1 15 1 25 1-4 1-3 1 5 1-11 1-5 1 17 1-28 1 8 1 38 1-30 1 17 1-1 1-2 1-6 1-38 1 46 1-8 1 6 1 2 1 49 1-75 1 17 1 30 1-42 1 21 1-4 1-7 1-24 1 21 1-8 1-10 1 1 1 10 1 12 1-24 1 17 1-1 1-12 1 9 1 4 1-7 1-14 1 24 1-6 1 6 1-24 1 36 1-28 1 19 1-14 1-9 1 12 1 28 1-8 1 1 1-11 1 2 1-25 1 37 1 10 1-33 1 6 1-7 1 15 1 3 1 12 1-18 1-2 1 7 1-12 1 2 1 4 1 16 1-1 1-14 1 11 1-10 1-11 1-8 1 26 1-9 1-3 1-5 1 9 1-17 1 20 1-10 1 2 1 2 1-31 1 31 1 28 1-46 1 30 1-23 1 23 1-22 1 1 1-7 1 28 1-9 1-35 1 28 1-4 1-3 1 18 1-13 1 6 1 1 1 2 1-5 1 45 1-68 1-14 1 22 1 12 1 22 1-13 1 0 1 15 1-8 1-21 1 9 1-3 1 6 1 0 1-3 1 8 1-35 1 61 1-20 1-27 1-7 1 39 1-10 1-9 1-4 1 3 1-14 1-4 1-1 1 8 1-5 1 25 1-15 1 21 1-25 1-16 1 19 1 10 1-20 1 0 1 20 1 3 1-15 1 9 1 1 1 9 1-27 1 25 1 0 1 5 1 2 1-25 1 17 1-8 1 20 1-23 1-9 1 9 1-10 1 19 1-17 1 9 1 12 1-16 1 0 1-9 1 19 1-41 1 56 1-23 1-6 1 34 1-26 1 15 1 0 1-15 1-8 1 7 1-4 1 18 1-20 1 4 1 4 1-10 1 36 1-36 1 4 1 17 1 30 1-54 1 22 1-12 1 12 1 7 1-12 1 7 1-21 1 8 1 18 1-3 1 7 1-7 1-7 1 3 1-23 1 16 1-5 1 27 1-39 1 10 1 0 1-5 1 1 1-6 1 17 1 9 1-6 1-9 1-2 1 1 1 23 1 5 1-35 1 4 1-2 1 8 1-3 1 32 1 9 1-24 1-20 1 60 1-67 1 30 1-17 1 9 1-11 1 14 1 14 1-34 1 1 1 4 1-8 1 48 1-22 1-7 1 11 1-51 1 44 1-36 1 31 1-9 1 3 1-13 1 37 1-25 1 34 1-43 1 5 1 34 1-27 1 8 1-29 1 16 1 10 1-12 1 13 1 12 1-26 1 10 1 11 1-1 1-14 1 18 1-1 1-31 1 14 1 13 1-23 1 7 1 6 1-4 1 7 1 26 1-25 1-4 1-9 1 42 1-17 1-25 1 13 1-19 1 52 1-37 1 9 1-16 1 11 1-7 1 24 1-4 1-10 1 4 1 8 1-34 1 26 1-6 1-6 1 3 1-6 1 5 1 19 1-19 1-14 1 16 1 7 1-7 1-26 1 8 1 32 1-13 1-3 1-9 1 18 1 9 1-17 1 3 1 7 1-2 1-2 1 12 1-37 1 12 1-1 1-10 1 19 1 16 1-29 1 17 1 6 1-27 1 14 1-6 1 25 1-17 1 8 1 7 1 10 1-24 1 0 1-4 1-2 1 1 1-16 1 4 1 10 1 21 1-20 1-12 1 19 1 13 1-14 1-18 1 9 1 14 1 7 1-19 1-1 1 12 1-1 1-4 1 11 1-3 1-19 1 5 1 9 1-21 1 26 1-14 1 41 1-35 1-4 1 9 1 12 1-9 1-18 1 13 1-8 1 8 1 0 1-9 1 23 1-23 1 4 1 14 1 10 1-22 1 6 1 25 1-30 1 24 1-23 1 7 1-12 1 2 1 20 1-23 1 10 1 9 1-10 1-33 1 46 1-10 1 9 1-32 1 0 1 18 1-6 1 22 1 8 1-26 1 12 1-2 1-2 1 12 1-36 1 30 1-17 1-3 1 17 1-6 1-1 1 9 1 4 1-2 1-33 1 17 1-2 1 5 1 12 1-12 1 15 1-16 1 57 1-64 1 16 1 2 1-7 1 13 1-4 1-15 1 17 1-28 1 16 1 8 1 26 1-18 1 4 1-4 1-7 1-9 1 2 1-2 1 27 1-18 1-3 1 1 1-4 1-4 1 24 1-20 1 1 1 2 1-23 1 4 1 11 1-8 1-4 1 33 1-34 1 27 1-25 1 14 1-11 1 3 1 11 1-19 1 24 1 12 1-6 1 3 1-11 1 16 1-8 1 22 1-51 1 28 1-10 1 2 1-19 1 20 1 7 1 3 1 0 1-55 1 46 1 6 1 8 1-10 1 13 1-16 1 5 1-28 1 16 1-2 1 7 1 14 1-21 1 12 1-19 1 18 1-10 1-5 1 7 1-1 1-3 1-3 1 21 1-6 1 16 1-30 1 7 1 13 1-18 1-11 1 24 1 21 1-36 1-3 1 19 1-12 1-5 1 8 1 4 1 8 1 3 1-23 1 16 1 11 1 18 1-30 1 0 1 6 1-2 1-8 1-6 1 0 1 41 1-52 1 13 1 1 1 0 1 0 1 11 1-5 1-36 1 35 1 13 1-3 1-38 1 43 1-11 1-20 1 24 1-12 1 1 1 5 1-25 1 20 1-14 1 31 1-56 1 35 1-4 1 13 1 2 1 7 1-18 1 8 1-14 1 20 1 10 1-32 1-1 1 12 1 14 1-8 1-23 1 2 1 20 1 21 1-35 1 4 1-6 1 9 1 20 1-21 1-46 1 42 1-7 1 21 1 4 1-17 1 4 1 22 1-5 1-12 1-21 1 25 1-2 1 1 1-23 1-12 1 45 1 21 1-55 1 22 1 4 1-2 1 6 1-8 1 14 1-34 1 14 1 23 1-36 1 22 1-19 1 24 1-13 1-13 1 30 1-37 1 25 1 2 1-6 1-2 1-1 1 4 1-12 1 3 1 19 1-14 1 24 1-15 1-10 1 8 1-18 1 16 1-14 1 26 1 12 1-22 1-6 1 4 1-3 1 8 1 3 1 5 1-5 1 2 1-8 1-21 1 16 1 3 1-4 1-20 1 10 1 27 1-27 1 25 1-7 1 3 1 2 1 5 1-20 1 6 1 4 1 10 1-28 1 30 1-4 1 2 1-22 1 29 1-1 1-30 1 26 1-10 1-12 1 14 1-7 1 2 1-20 1-3 1 4 1 11 1 6 1-15 1 7 1 25 1-8 1 1 1-27 1 14 1-3 1 8 1-1 1 9 1 0 1-16 1 2 1 14 1-21 1 24 1 14 1-32 1 20 1-42 1 42 1-24 1-7 1-3 1 6 1 1 1 23 1-1 1-21 1-2 1-7 1 22 1 6 1 4 1-16 1-22 1 21 1 16 1-22 1 14 1 19 1-16 1 2 1 1 1-2 1-14 1 34 1-35 1 22 1-10 1 1 1-6 1 11 1-12 1-2 1-2 1 9 1-12 1 4 1-2 1 15 1 17 1-44 1 18 1 5 1 2 1-30 1 34 1 3 1-24 1 5 1 33 1 18 1-31 1-21 1 1 1 13 1-3 1-20 1 27 1 2 1-19 1 16 1 3 1-10 1 13 1-12 1 0 1 14 1-12 1-2 1-4 1-3 1-17 1 29 1-3 1-21 1-1 1 16 1 14 1-30 1 37 1-22 1 22 1-14 1 7 1-19 1 12 1-10 1 6 1 11 1 6 1-32 1 18 1-1 1 10 1 1 1-17 1-8 1 13 1 19 1-15 1 5 1-15 1 28 1-33 1 17 1-10 1-9 1 19 1 1 1-12 1 11 1-10 1 18 1-13 1-20 1 31 1-23 1 0 1 3 1-1 1 11 1-20 1 24 1-23 1 30 1-44 1 21 1 7 1-3 1-13 1 7 1 5 1 8 1 3 1 0 1 3 1-3 1-6 1 19 1-4 1-22 1-6 1 18 1 6 1-41 1 38 1-9 1 2 1 11 1-21 1 8 1-11 1 12 1-16 1 14 1 0 1 13 1-8 1 11 1-21 1 34 1-23 1-16 1 1 1 29 1 1 1-17 1-11 1 0 1 10 1 20 1-31 1 25 1-5 1-22 1 18 1 7 1-9 1-2 1-12 1 87 1-57 1 3 1-23 1 13 1-10 1-13 1 8 1-8 1-4 1 11 1 11 1 2 1-7 1-3 1-14 1 30 1-16 1 4 1-6 1 4 1-12 1 25 1-26 1-3 1-1 1 15 1 2 1-4 1-1 1 0 1 5 1-8 1 10 1-6 1-17 1 33 1-23 1 14 1-29 1 16 1 17 1 34 1-36 1-17 1 14 1-3 1-15 1 31 1-17 1 1 1-16 1 2 1 7 1-9 1 6 1-6 1 19 1-11 1-5 1 39 1-56 1 26 1 1 1 1 1-12 1 12 1 13 1-18 1 10 1 2 1-21 1 9 1 11 1 10 1-14 1 15 1-26 1-8 1 22 1-2 1-4 1 24 1-13 1-9 1-2 1 3 1 4 1 14 1-38 1 26 1-8 1 13 1-2 1-4 1-11 1-13 1 31 1-13 1 5 1 6 1-8 1-9 1 5 1-1 1-10 1 21 1-5 1-13 1 11 1 4 1-12 1 1 1 3 1 17 1 0 1-11 1 4 1-1 1 2 1-21 1 15 1 7 1-39 1 1 1 48 1-18 1 7 1-17 1 19 1-6 1-10 1 9 1-23 1 3 1 0 1-9 1 22 1-6 1 18 1-1 1-12 1 3 1-2 1-24 1 31 1-6 1 12 1 7 1 3 1-8 1-35 1 33 1-5 1-13 1 31 1-27 1 17 1 15 1-33 1 16 1 2 1 0 1-19 1-19 1 48 1-27 1 3 1-5 1-4 1 20 1 7 1-4 1-11 1 6 1-23 1 31 1-22 1-10 1 22 1-11 1 33 1-21 1 6 1 13 1-47 1 15 1 28 1-19 1 3 1 7 1-7 1-3 1-2 1 1 1 10 1 1 1-30 1 10 1-9 1 21 1-1 1 16 1-33 1 8 1 0 1 10 1 4 1 2 1 1 1 0 1-4 1-4 1 7 1-11 1 9 1 0 1 4 1-13 1-20 1 20 1 9 1-3 1 0 1-9 1 16 1-11 1-10 1 13 1-11 1 27 1 5 1-28 1 22 1-5 1-6 1 1 1-15 1-17 1 27 1 17 1-25 1 3 1 7 1-5 1 17 1-26 1 21 1-33 1 8 1 21 1-8 1 11 1-26 1 13 1 13 1-20 1 23 1-10 1 6 1-35 1 29 1-27 1 17 1 10 1-16 1-13 1 22 1 30 1-7 1-6 1-16 1-9 1 17 1-5 1-15 1 27 1-14 1 3 1-2 1-1 1 8 1-19 1 31 1-9 1-6 1-16 1 23 1-30 1 31 1-22 1 21 1-11 1 19 1-30 1-56 1 78 1-23 1 9 1 6 1 1 1 5 1-22 1-1 1 18 1 6 1-1 1-20 1 5 1-5 1 11 1 27 1-51 1 9 1 34 1-8 1-20 1 15 1 22 1-35 1 11 1 6 1 3 1-14 1-12 1 26 1 0 1-11 1-20 1 28 1-22 1-9 1 37 1-8 1 1 1-3 1 6 1 15 1-10 1-25 1-3 1 23 1-6 1 1 1-34 1 3 1 4 1 12 1-12 1 2 1 1 1 14 1 5 1-5 1-12 1 3 1 4 1 16 1 15 1-6 1-29 1 15 1 8 1-4 1 10 1-23 1 8 1 5 1 13 1-7 1-1 1-46 1 53 1-14 1-19 1 16 1 8 1-10 1 15 1-29 1 45 1-38 1 9 1-19 1-13 1 39 1-15 1-3 1 17 1-2 1-6 1 5 1-1 1-14 1 11 1-6 1 5 1-19 1 34 1-21 1 20 1 6 1-23 1 29 1-34 1 8 1-5 1-2 1 6 1-3 1-2 1 6 1 4 1 3 1-3 1-1 1 1 1 21 1-30 1-10 1 20 1 5 1-3 1 6 1-26 1 24 1 8 1-11 1 5 1 7 1-18 1-18 1 26 1 3 1-22 1 59 1-46 1 8 1-16 1-4 1 11 1-9 1 21 1 1 1-45 1 43 1-26 1 43 1-32 1 8 1-10 1 19 1-18 1 4 1-1 1 10 1-16 1-2 1 11 1 0 1-1 1-16 1 17 1-11 1 2 1 22 1-27 1-3 1 10 1 11 1-4 1-5 1 20 1 2 1-44 1 15 1-11 1 23 1-4 1 15 1-41 1 16 1 6 1 18 1-5 1 7 1-2 1-4 1-14 1-6 1 30 1-25 1 1 1 23 1-3 1-21 1 20 1 3 1-19 1 12 1 8 1-28 1 17 1-14 1 6 1-14 1 9 1 19 1-19 1 16 1 5 1-19 1 10 1-9 1-2 1-15 1 28 1 10 1-28 1 4 1 13 1-6 1-2 1 30 1-28 1-13 1 5 1 3 1 25 1-10 1 9 1-29 1 39 1-31 1 13 1-24 1 11 1-13 1 18 1 8 1-30 1 14 1-1 1 4 1 2 1 11 1-8 1-12 1 18 1-9 1-16 1 50 1-35 1-13 1 14 1-9 1-4 1 21 1-23 1 5 1-7 1 8 1 8 1 8 1 15 1-22 1-16 1 6 1 15 1-6 1 11 1 13 1-30 1 9 1 3 1-14 1-1 1 9 1-8 1 13 1 15 1-11 1-6 1-9 1 31 1-32 1 13 1-8 1 8 1 10 1-11 1 2 1 8 1-37 1 18 1-2 1-30 1 26 1 24 1 6 1-40 1 13 1 14 1-7 1 17 1-15 1 2 1-4 1-7 1 22 1 8 1-2 1-19 1 2 1-3 1 10 1-5 1 1 1-7 1-17 1 2 1 22 1-3 1-5 1-10 1 16 1 20 1-19 1 9 1-8 1-23 1 17 1-11 1 26 1-3 1 10 1-17 1-18 1-6 1 7 1 12 1 10 1-3 1 6 1-23 1 16 1-2 1-8 1-8 1 14 1 4 1-16 1-2 1 26 1-5 1-31 1 26 1 3 1-14 1-1 1 8 1 12 1-8 1-2 1-16 1 28 1-9 1-17 1 0 1 2 1 11 1-3 1 12 1-26 1 33 1-39 1 12 1 25 1 2 1-32 1 6 1 16 1 25 1-41 1-1 1 25 1-15 1-7 1 23 1-6 1 7 1-33 1 12 1-15 1 20 1 1 1-3 1 16 1-19 1 21 1-28 1 2 1 3 1 28 1-12 1-9 1 4 1-15 1 1 1 15 1 1 1-13 1 22 1-22 1-15 1 17 1 0 1 18 1-28 1 25 1-15 1 10 1-10 1 5 1-20 1 24 1-9 1 8 1-12 1 7 1-25 1 28 1-2 1 0 1-5 1-18 1 48 1-26 1 19 1-19 1-13 1 10 1 2 1-2 1-5 1 9 1 12 1-14 1 2 1 15 1-9 1-17 1 30 1-17 1 7 1-18 1-1 1 10 1 11 1 0 1 12 1-21 1-3 1-4 1 9 1-13 1 21 1 3 1-30 1 16 1 18 1-29 1-2 1 23 1-24 1 5 1 26 1-15 1-14 1 13 1-9 1 16 1-28 1 14 1 6 1-12 1-13 1 22 1 3 1 2 1 4 1 9 1 12 1-36 1 14 1-13 1 3 1 15 1 16 1-39 1 27 1-24 1 38 1-21 1-18 1 10 1 0 1 4 1 2 1-49 1 52 1 0 1 5 1-5 1-21 1 2 1 13 1 8 1-18 1-9 1-9 1 2 1 29 1-16 1 6 1 3 1 4 1-9 1 4 1 1 1-3 1 15 1 8 1-32 1 16 1 4 1-6 1 23 1-24 1-3 1 1 1 9 1-10 1 39 1-25 1-8 1 4 1-9 1 19 1-34 1 11 1 12 1-9 1 16 1-29 1 9 1 16 1-12 1-3 1 12 1 12 1-35 1 15 1 18 1-2 1-14 1-3 1 9 1 3 1-2 1 3 1-11 1 19 1-32 1 30 1-11 1 10 1-23" transform="translate(583.17 0) scale(0.2757 0.5)" fill="none" stroke="#3c4aa0" stroke-width="2.40" vector-effect="non-scaling-stroke" stroke-linejoin="round" />
<path d="M0 1535 l1 21 1-9 1 13 1-8 1 10 1 4 1 5 1-9 1 25 1-2 1-3 1 4 1-6 1 4 1 11 1 13 1-7 1 0 1 29 1-50 1-7 1 48 1 0 1-14 1 28 1 9 1 10 1-17 1 40 1-19 1-8 1 7 1-26 1 62 1-13 1-24 1 45 1-54 1 61 1-14 1-16 1-4 1 46 1-2 1-31 1 27 1 27 1-56 1 47 1-34 1 36 1 9 1-22 1 23 1 30 1-72 1 68 1-32 1-8 1 6 1 20 1 54 1-53 1 5 1-17 1-10 1 42 1-20 1-39 1 53 1-12 1-3 1 2 1 39 1-49 1 43 1-18 1-11 1 52 1-11 1 18 1-25 1 15 1 28 1-46 1 28 1-12 1 11 1-28 1 14 1-27 1 43 1 4 1-17 1 43 1-17 1-2 1-24 1 22 1 22 1-33 1 2 1 11 1 6 1 15 1-5 1-23 1 37 1-9 1 17 1-38 1 17 1 8 1 10 1-1 1-28 1 54 1-30 1 5 1 31 1-31 1 7 1 17 1-1 1-31 1 26 1 50 1 26 1-83 1 44 1-7 1-5 1 15 1-36 1 15 1-6 1 27 1 13 1-23 1 13 1 15 1-24 1-2 1-39 1 35 1 26 1-14 1-3 1 50 1-21 1 14 1 5 1-12 1 15 1-37 1 44 1-25 1-14 1-19 1 70 1-50 1 49 1-34 1 24 1 20 1-19 1-19 1 18 1 2 1-15 1 17 1-12 1 17 1 18 1 13 1-36 1 16 1 21 1 9 1-10 1 19 1 3 1-51 1 13 1 54 1-43 1 11 1-19 1 11 1 16 1-16 1 60 1-51 1 40 1-46 1 1 1-11 1 26 1 9 1-24 1 7 1 64 1-32 1-3 1-3 1 19 1-31 1 6 1 1 1-7 1 6 1 47 1-23 1 20 1-34 1 44 1-13 1-1 1-19 1-19 1 43 1-14 1-1 1 14 1-10 1 51 1-32 1-5 1 16 1 11 1-32 1 15 1 2 1 23 1-18 1-12 1 27 1-4 1 1 1-2 1-24 1 23 1-2 1-1 1 11 1-13 1 11 1 3 1 24 1-4 1-9 1 14 1 6 1-4 1-3 1-7 1-20 1 24 1 29 1-14 1-9 1-13 1 9 1-8 1 25 1-8 1 44 1-57 1 4 1 40 1-17 1 15 1-16 1 3 1-11 1-38 1 51 1-47 1 69 1-7 1 7 1 18 1 13 1-38 1-3 1 3 1 21 1-59 1 32 1 7 1-2 1 31 1-13 1 4 1 8 1-14 1-4 1 39 1-50 1 20 1-29 1 20 1 22 1 13 1-41 1 33 1-24 1 17 1-4 1 35 1-42 1 14 1-11 1 30 1-6 1-34 1 33 1-21 1 46 1-10 1-19 1 4 1-17 1 17 1 32 1-43 1 19 1 19 1 19 1-11 1-11 1 21 1-27 1 43 1 0 1-19 1 4 1-9 1-1 1-30 1 24 1-10 1-13 1 36 1-16 1 6 1 37 1-11 1-13 1 2 1-10 1 14 1 9 1-23 1 22 1-15 1 5 1 17 1-17 1 17 1 6 1 28 1-32 1-13 1 10 1 0 1 24 1 1 1-37 1-5 1 0 1 65 1-25 1-14 1 18 1-9 1-18 1-18 1 26 1 45 1-14 1-14 1-27 1 72 1-36 1 8 1-10 1 28 1 12 1-45 1 41 1-23 1-5 1-6 1 30 1-15 1-8 1-16 1 44 1-23 1 4 1 19 1-12 1 1 1 17 1-16 1 12 1 11 1-4 1-4 1 3 1 19 1-9 1-25 1 43 1-33 1-14 1 0 1-17 1 33 1-21 1 49 1-22 1-4 1-2 1 4 1 10 1-10 1 15 1-2 1 4 1-33 1 21 1 31 1 11 1-18 1-23 1 7 1 53 1-72 1 39 1 19 1-50 1 14 1 22 1-32 1 14 1 20 1-19 1 32 1-22 1 0 1-21 1 32 1 15 1-8 1-27 1 26 1-15 1 17 1 7 1-21 1 27 1-15 1 6 1 7 1-9 1 31 1-53 1 48 1-34 1 4 1 11 1 28 1-8 1-32 1-5 1-15 1 44 1-16 1 37 1-7 1-16 1 10 1-11 1-2 1-16 1 16 1 5 1 57 1-58 1 2 1 50 1-47 1 45 1-12 1-51 1 25 1-40 1 51 1-9 1-9 1 0 1 59 1-10 1-12 1-10 1-2 1-5 1 10 1 14 1-3 1-13 1-12 1-16 1 63 1-25 1 0 1 10 1 33 1-62 1 19 1 1 1 34 1-38 1 13 1-25 1 32 1-20 1 12 1 11 1-12 1-1 1 24 1-36 1 20 1-19 1 53 1-40 1-8 1 24 1 9 1-18 1 24 1 5 1-37 1-5 1 11 1 5 1-14 1 19 1-14 1 7 1 46 1-25 1 14 1-42 1-6 1 30 1-2 1-14 1 25 1-14 1 10 1 43 1-44 1 11 1-38 1 48 1-30 1 13 1-10 1-7 1 3 1 42 1 11 1 1 1-45 1-3 1 36 1-25 1 30 1-9 1 0 1-17 1 6 1 27 1-36 1 14 1-9 1-5 1 49 1-42 1 17 1 10 1 3 1-10 1 20 1 2 1-23 1 21 1 7 1-4 1-16 1 18 1 6 1-28 1 6 1-22 1 36 1-12 1-15 1 49 1-69 1 8 1 9 1 33 1-27 1 1 1 19 1 17 1 3 1-16 1 9 1-14 1 29 1-7 1 9 1-37 1 23 1-26 1 14 1 29 1-45 1 36 1 1 1-23 1 16 1-6 1-25 1 49 1-34 1 30 1 1 1-10 1-10 1-5 1 8 1 1 1 19 1-6 1-33 1 33 1 10 1-5 1-16 1-1 1 50 1-19 1 1 1 26 1-55 1 40 1-10 1 3 1-39 1 13 1 14 1 25 1-2 1 9 1-19 1 25 1-31 1 10 1 0 1-54 1 37 1 26 1-30 1 8 1 15 1-4 1 14 1 5 1-15 1 1 1 31 1-14 1 0 1-30 1 32 1-4 1-42 1 26 1 36 1-2 1 16 1-21 1-33 1 17 1 12 1 0 1-16 1 0 1 3 1 34 1-27 1 49 1-40 1 7 1-60 1 25 1 25 1-22 1 26 1 3 1 17 1 6 1-27 1-23 1 21 1 38 1-31 1-14 1 2 1 34 1 0 1-18 1 50 1-26 1-20 1 39 1-44 1 16 1-26 1 62 1-23 1-13 1-28 1 36 1-8 1-4 1-10 1-13 1 35 1-34 1 26 1 2 1-15 1 58 1-77 1 52 1-17 1-19 1 22 1-26 1 48 1-3 1 6 1-21 1-18 1 42 1 12 1-17 1-4 1-46 1 37 1-24 1 9 1 14 1 23 1-8 1 29 1-29 1 6 1 1 1-1 1-9 1 22 1-23 1-5 1 3 1 46 1-23 1-7 1-7 1 30 1-120 1 89 1 7 1-28 1 12 1-8 1 41 1-7 1 14 1-35 1 2 1-8 1 41 1-32 1 35 1-4 1-16 1 17 1-7 1-2 1 14 1-3 1-11 1 11 1 26 1-61 1 29 1-12 1 20 1-29 1 1 1 12 1 29 1-21 1-12 1-24 1 38 1 4 1 12 1 19 1-17 1-14 1 0 1-29 1 13 1 34 1 22 1-21 1-26 1 20 1-26 1 16 1 5 1-7 1 20 1-35 1 17 1 20 1-33 1 73 1-55 1 5 1-2 1-35 1 60 1-35 1 38 1-19 1-19 1 42 1 20 1-38 1-11 1 31 1 0 1-49 1 27 1 41 1-37 1 65 1-58 1-21 1 46 1-17 1 25 1-43 1 14 1 12 1 3 1-3 1-14 1 7 1-23 1-2 1 14 1-3 1-35 1 56 1-12 1-21 1 45 1-16 1-6 1 28 1-12 1 30 1-32 1 4 1 16 1-38 1 16 1-21 1 55 1-11 1-58 1 38 1 1 1 21 1-31 1 41 1-39 1 32 1-31 1 9 1-16 1 21 1-33 1 6 1 48 1 3 1-8 1-8 1-46 1 79 1-47 1 26 1-8 1-8 1-20 1 48 1-36 1-4 1 13 1 10 1 0 1 17 1-33 1 4 1 34 1-36 1-1 1 10 1 7 1-10 1 52 1-25 1-34 1 6 1 28 1-23 1-1 1 66 1-31 1-37 1-1 1 9 1 15 1 1 1-15 1-16 1 19 1 21 1-9 1-38 1 17 1 41 1-5 1-7 1 23 1-17 1 4 1 3 1-11 1-13 1 14 1 0 1-15 1-17 1 20 1 5 1 29 1-16 1 0 1 8 1-1 1-13 1-8 1 28 1 2 1-36 1 45 1-26 1 21 1 13 1-20 1 14 1-25 1 8 1-4 1 23 1-29 1 2 1-27 1 44 1-26 1 10 1 35 1-1 1 11 1-64 1 38 1-44 1 21 1 33 1-20 1-28 1 22 1 66 1-71 1 8 1 2 1 32 1-35 1-18 1 27 1 8 1-38 1 7 1 30 1-8 1-11 1 44 1-6 1-11 1 41 1-50 1-4 1 35 1-44 1-23 1 27 1-4 1 26 1-9 1 3 1 0 1 17 1-38 1 1 1 2 1 0 1 30 1-45 1 56 1-47 1-6 1 24 1 38 1-37 1 11 1-16 1 19 1 11 1-22 1-9 1 44 1-45 1 3 1 16 1-17 1 20 1 28 1-20 1-23 1 27 1-89 1 86 1-18 1 18 1-35 1 15 1 37 1-25 1-10 1-18 1 31 1-13 1 32 1-46 1 35 1 16 1-11 1-49 1-1 1 22 1-16 1 18 1 19 1-17 1 0 1-5 1 50 1-39 1 1 1 0 1-18 1 45 1-31 1 16 1 14 1-47 1 26 1 9 1-6 1-14 1-18 1 43 1-23 1 3 1-9 1 30 1 19 1-25 1-20 1 18 1 7 1 20 1-23 1-13 1 1 1 9 1-10 1 15 1-8 1 2 1-18 1 0 1 21 1-25 1 29 1-17 1 38 1-14 1-20 1 28 1-21 1 20 1-16 1-7 1-20 1-16 1 46 1 32 1-35 1-78 1 90 1-6 1-18 1 13 1 4 1-16 1 36 1-45 1 53 1-22 1-15 1-7 1-4 1 21 1-8 1 8 1 30 1-28 1 7 1-5 1-10 1 22 1 8 1-42 1 38 1-3 1-42 1 32 1-29 1 33 1-69 1 64 1 4 1-19 1 9 1 14 1 12 1-40 1 12 1-13 1 10 1 1 1 8 1 3 1-31 1 4 1 18 1-6 1 16 1-21 1-2 1-4 1 9 1 21 1-4 1-11 1 6 1-18 1 4 1-16 1 34 1-25 1 17 1 19 1-54 1 24 1-8 1 19 1-36 1 39 1 20 1-49 1 26 1-1 1-4 1 5 1 25 1-5 1-53 1 32 1-18 1 1 1 15 1-12 1 40 1-25 1 12 1-20 1 16 1-16 1 2 1 7 1-4 1 27 1-23 1-25 1 17 1 3 1 12 1-8 1 25 1-15 1 3 1-9 1-22 1 10 1-11 1 6 1-14 1-4 1 36 1-30 1 17 1-2 1 41 1-34 1-27 1 17 1 8 1 5 1-17 1 1 1-5 1 36 1-39 1 34 1-4 1-6 1 19 1-55 1 49 1-6 1 28 1-24 1-2 1-16 1 32 1-13 1-40 1-1 1 17 1 29 1-77 1 40 1 16 1-1 1 29 1 1 1-22 1-15 1 14 1-12 1 17 1-36 1 41 1-37 1 33 1-22 1 22 1-35 1 3 1 22 1 13 1 14 1-8 1-21 1-11 1-4 1 32 1-33 1 0 1 0 1 15 1 8 1-59 1 58 1-40 1 50 1-7 1-19 1-11 1 28 1-3 1-18 1-11 1 24 1-3 1-11 1 12 1 9 1 41 1-48 1-10 1 14 1-55 1 52 1 0 1 0 1-7 1 5 1-23 1 19 1-35 1 33 1-44 1 64 1-35 1 2 1 21 1-57 1 28 1 17 1-1 1-13 1 0 1-3 1 5 1 15 1 21 1-40 1 36 1-4 1-14 1-48 1 56 1-12 1-13 1 30 1 6 1-36 1 8 1 8 1-36 1 29 1-10 1 6 1 12 1 11 1-27 1 13 1 5 1-12 1 14 1 14 1-42 1 17 1-35 1-1 1 61 1-70 1 65 1 0 1-18 1-6 1-2 1-39 1 37 1-6 1 0 1-26 1 29 1-17 1 42 1-54 1 44 1-12 1-6 1-6 1 45 1-36 1-38 1 33 1 16 1-24 1 8 1 33 1-23 1-12 1 44 1-19 1-1 1-56 1 14 1 36 1-19 1-1 1 26 1-30 1 2 1 14 1-9 1-5 1-9 1 52 1-32 1 2 1 5 1 2 1-28 1 12 1-3 1 12 1-27 1-6 1 37 1 9 1-21 1 3 1-25 1 1 1 14 1-13 1 13 1-7 1-22 1 11 1 17 1-32 1 21 1-8 1 4 1 2 1 22 1-32 1 0 1 15 1-8 1-1 1-9 1 20 1-21 1 12 1-6 1 20 1-6 1-29 1 19 1 19 1-6 1-23 1 8 1-9 1-4 1-3 1 26 1 0 1 3 1-14 1 0 1-1 1-9 1-22 1 11 1 48 1 8 1-26 1-14 1 3 1-30 1 32 1-13 1 18 1-8 1 4 1 3 1-12 1-6 1-14 1 8 1 11 1-7 1 36 1-29 1 49 1-71 1 49 1-62 1 30 1 1 1 13 1-40 1 37 1 3 1-22 1 2 1 18 1-15 1 14 1-2 1-7 1-22 1 20 1-6 1 3 1-9 1 25 1-23 1 18 1 18 1-19 1-18 1-2 1 6 1-14 1 6 1 14 1-57 1 30 1 20 1-20 1 19 1-9 1 23 1-9 1-25 1 23 1 2 1-32 1 18 1-21 1-1 1 33 1 16 1-32 1-11 1-2 1 19 1 15 1 2 1-39 1 25 1-29 1 17 1-8 1 28 1-27 1-17 1-19 1 22 1 25 1 15 1-9 1-6 1-14 1 8 1-10 1-12 1 30 1-29 1 26 1-53 1 45 1 10 1 19 1-49 1 15 1 17 1-37 1 33 1-9 1 4 1-16 1-10 1 19 1-24 1 35 1-15 1 11 1-19 1 16 1-1 1-13 1 17 1-25 1 8 1 21 1-9 1-3 1 1 1 16 1-14 1 17 1 5 1-40 1-3 1-16 1 17 1 2 1 24 1-34 1 30 1 2 1-17 1 12 1-7 1-25 1 21 1 2 1-1 1-29 1 42 1-39 1 8 1-28 1 29 1 26 1-12 1-32 1 27 1 11 1-10 1-21 1 19 1-16 1 16 1 17 1-20 1-9 1 8 1 27 1-27 1-13 1-21 1 42 1-7 1 24 1-31 1 19 1 27 1-64 1 0 1 23 1 7 1 0 1 1 1-31 1 11 1 7 1-28 1 22 1-15 1 23 1-19 1-19 1 45 1 3 1-6 1-22 1 14 1 14 1-51 1 13 1-22 1 50 1-8 1 57 1-70 1 12 1-46 1 63 1-24 1 4 1 1 1 9 1-11 1 0 1-2 1-2 1 11 1-5 1-10 1-27 1 25 1 37 1-8 1-5 1-14 1-13 1 7 1 15 1-1 1-40 1 19 1-3 1-8 1-21 1 9 1-13 1 45 1-22 1 37 1-29 1 22 1-11 1-7 1-16 1 14 1-21 1 32 1-11 1-12 1 45 1-54 1 11 1 5 1-9 1-6 1 28 1-22 1 38 1-29 1 0 1 47 1-52 1-2 1 4 1-7 1 3 1 33 1-7 1-35 1 23 1-14 1-16 1 29 1-14 1-32 1 49 1-28 1-14 1 39 1 16 1-31 1-12 1-54 1 68 1 2 1 2 1-17 1 3 1 21 1-29 1 50 1-38 1 21 1 5 1-69 1 18 1 35 1-19 1-31 1 15 1 7 1 28 1-18 1 8 1-22 1-2 1 25 1-20 1 17 1-30 1 11 1 40 1-55 1 15 1 14 1 3 1-12 1-7 1-3 1-44 1 59 1-20 1 23 1 4 1-12 1 12 1-3 1-27 1 44 1-52 1 23 1 19 1-48 1 16 1 25 1 5 1 9 1-35 1 10 1-14 1 15 1-44 1 24 1 24 1-43 1 29 1 9 1 2 1-2 1-62 1 46 1-39 1 40 1 6 1-35 1 45 1-20 1-6 1-17 1 12 1-18 1 15 1 23 1-39 1 0 1-1 1 11 1 19 1-11 1 17 1 3 1 10 1-50 1 21 1 38 1-62 1 4 1-18 1 14 1-15 1 46 1-58 1 40 1 29 1-13 1-25 1 38 1-6 1-37 1 19 1-11 1-9 1-4 1 12 1-18 1-1 1 12 1 14 1 14 1-36 1 15 1 15 1-22 1 6 1 28 1-56 1 24 1 21 1-39 1 38 1-5 1-30 1 13 1-16 1 25 1-16 1 0 1-5 1 15 1-25 1 12 1 15 1-9 1-11 1-17 1 25 1-2 1 1 1 4 1-1 1 2 1-60 1 30 1 28 1 2 1-19 1-15 1 12 1-24 1 15 1 11 1-28 1 27 1 25 1 3 1 22 1-48 1 2 1 5 1-14 1-6 1-9 1 40 1-27 1-21 1 31 1-43 1 23 1 34 1-24 1-9 1 36 1-40 1 30 1 6 1-45 1 5 1 34 1 9 1-61 1 57 1-52 1 62 1-35 1-11 1 8 1 5 1-33 1 55 1-19 1 21 1-53 1 44 1-28 1 37 1-7 1-48 1 14 1 24 1-33 1 3 1-12 1 88 1-51 1-28 1 8 1 35 1-21 1 16 1-35 1 23 1-3 1-15 1 6 1 49 1-50 1-13 1 36 1-36 1 19 1 32 1-31 1-14 1 33 1-51 1-8 1 21 1 13 1 0 1-18 1-18 1 26 1 11 1-15 1-10 1 1 1 55 1-57 1 3 1 23 1 8 1-25 1 7 1 24 1-22 1 4 1-23 1 25 1-18 1-4 1 20 1-3 1 10 1-21 1 14 1 3 1-1 1 61 1-42 1-23 1 3 1 22 1-15 1-28 1 32 1-1 1 18 1-25 1-29 1 24 1 10 1-26 1-7 1-4 1 29 1-7 1-17 1-11 1 48 1-26 1 44 1-39 1-10 1-4 1 54 1-53 1 31 1-25 1-40 1 74 1-1 1-63 1 47 1-29 1-3 1 46 1-16 1-20 1-5 1 18 1-9 1 1 1 13 1-10 1 15 1 7 1-2 1-27 1 33 1 29 1-61 1 24 1-24 1-1 1 54 1 0 1-59 1 6 1 39 1-23 1-26 1 28 1-3 1-42 1 26 1-6 1 15 1 3 1 21 1-31 1 9 1-16 1 14 1 1 1 32 1-22 1-1 1 0 1-10 1 29 1-12 1-29 1 19 1-17 1 15 1-18 1 20 1-6 1-15 1 8 1 10 1-11 1-23 1 34 1-13 1 47 1-82 1 19 1 19 1-12 1 11 1 28 1-43 1 10 1 7 1 17 1-28 1 33 1-4 1-55 1 78 1-14 1 6 1-10 1-27 1 24 1-31 1 40 1-1 1 10 1-20 1-17 1 18 1-5 1 32 1-33 1-18 1 1 1 33 1-17 1-23 1 8 1-3 1 19 1 24 1-30 1 18 1-11 1-22 1 36 1-21 1 34 1-23 1 22 1-39 1 29 1 25 1-5 1-15 1-2 1-29 1 22 1-8 1-1 1 37 1-21 1 16 1-35 1 2 1 21 1-11 1 12 1 1 1 36 1-39 1 27 1-54 1-2 1 34 1-41 1 53 1-21 1-8 1 25 1 6 1-35 1-15 1 24 1 2 1 5 1 35 1-33 1 7 1 22 1-50 1 31 1-19 1 27 1-32 1 6 1 26 1-18 1 32 1-34 1 23 1-1 1-15 1 5 1 10 1-5 1 12 1-29 1 0 1 34 1-15 1-25 1 27 1 28 1-29 1-7 1-8 1 18 1 10 1-2 1-22 1-1 1-12 1 27 1-49 1 51 1-15 1 17 1 18 1-68 1 15 1 18 1 56 1-50 1 48 1-31 1 2 1-18 1 15 1-4 1-2 1-2 1-27 1 17 1 16 1-8 1-36 1 50 1-25 1 16 1 1 1 21 1-9 1-62 1 31 1 9 1 4 1-10 1 50 1-41 1 25 1-6 1-1 1-1 1-64 1 59 1-9 1-12 1 28 1-25 1 9 1 6 1-1 1-3 1 10 1-23 1 10 1-12 1 20 1 2 1-18 1-1 1-10 1-1 1 55 1-67 1 38 1-4 1-27 1 56 1-27 1-4 1 15 1-7 1-24 1 26 1 0 1 5 1 21 1-18 1-14 1 11 1 17 1 1 1-18 1-8 1-11 1 17 1-11 1 11 1-5 1 1 1 10 1-7 1 26 1-21 1 48 1-72 1 13 1 4 1 0 1 19 1 5 1-13 1 4 1-16 1 8 1-25 1 7 1 21 1 16 1 3 1-41 1 16 1 28 1-31 1 13 1-7 1 15 1-36 1 34 1 34 1-73 1 56 1-46 1 17 1 29 1-18 1 18 1 17 1-15 1-37 1 8 1-15 1 22 1-32 1 58 1-8 1-30 1 4 1 12 1 6 1 0 1-7 1 32 1-22 1-3 1-42 1 44 1-18 1 53 1-70 1 4 1 25 1 20 1-11 1-28 1 44 1-41 1 30 1-23 1-4 1 9 1 32 1-36 1 20 1-13 1 21 1-34 1 22 1-9 1 19 1-9 1-8 1-1 1 12 1 15 1-3 1-13 1 11 1-20 1 19 1 5 1-6 1-22 1 14 1 7 1-12 1-10 1 27 1 10 1-18 1 23 1-33 1 41 1-39 1 7 1 6 1 24 1-20 1 1 1 6 1-25 1 1 1-14 1 12 1 12 1-12 1 46 1-41 1 25 1-62 1 75 1-24 1 2 1 18 1-1 1 21 1-60 1 25 1-15 1 22 1-11 1-9 1-20 1 61 1-24 1-40 1 34 1-15 1-12 1 17 1 0 1 76 1-53 1-16 1-6 1 46 1-25 1-14 1 18 1-7 1 33 1 9 1-37 1 25 1-7 1-37 1 29 1-26 1 43 1-9 1-18 1-15 1 29 1-12 1-6 1 41 1-1 1-9 1-20 1-3 1 62 1-51 1 39 1-28 1-5 1-8 1-12 1 11 1 37 1-13 1-46 1 22 1 18 1 6 1-34 1 11 1 1 1 36 1-13 1-21 1 30 1-61 1 12 1 26 1-11 1 13 1-13 1-1 1 36 1-17 1 39 1-49 1 22 1 34 1-18 1-34 1 4 1 16 1-22 1 30 1-9 1 2 1-10 1 5 1-28 1 75 1-43 1-2 1 14 1 36 1-41 1 2 1-4 1 19 1-13 1-13 1-31 1 39 1 0 1 33 1-23 1 7 1-19 1-11 1 13 1 15 1-25 1 19 1 25 1-17 1-8 1 0 1-2 1 17 1 5 1-26 1-8 1 31 1 3 1-14 1-14 1 58 1-71 1-2 1 48 1 13 1-18 1 10 1-7 1 9 1-33 1 7 1-1 1-2 1 24 1-14 1-22 1 67 1-48 1-8 1 6 1 8 1 10 1 6 1-36 1 69 1-16 1-51 1 32 1-6 1-41 1 32 1 11 1 30 1-37 1 22 1-25 1 20 1 30 1-18 1-6 1-7 1-4 1-10 1-9 1 27 1-5 1-34 1 27 1-20 1 44 1-35 1 21 1 34 1 12 1-51 1-34 1 37 1 15 1-4 1-1 1-4 1-17 1 7 1 19 1 11 1-28 1 3 1 8 1 10 1-35 1-4 1 17 1 9 1 36 1-18 1-23 1 41 1-61 1 19 1 49 1-29 1-5 1-19 1 9 1 34 1-22 1-8 1 29 1 9 1-55 1 43 1-11 1-1 1-21 1 23 1-19 1 13 1 17 1-12 1 7 1 9 1 10 1-13 1 2 1-24 1-9 1 34 1-26 1 3 1 14 1 2 1 22 1-47 1 3 1-23 1 54 1-1 1-11 1-1 1-10 1-5 1-22 1 35 1 30 1 2 1-19 1 6 1-12 1 24 1-2 1 19 1-29 1-13 1 18 1-13 1 9 1 28 1-24 1 3 1-3 1 22 1 15 1-42 1 52 1-43 1 0 1 7 1-19 1 10 1 0 1 19 1-24 1 25 1-24 1 8 1 5 1-10 1 14 1-10 1 38 1-36 1 4 1 24 1-29 1 10 1 15 1-15 1-24 1 19 1 44 1-40 1 23 1-9 1-5 1-3 1 12 1-11 1 22 1-11 1-5 1 3 1 11 1-10 1-13 1-3 1 1 1 12 1 14 1 15 1 5 1-8 1-30 1-9 1 39 1 1 1-35 1 23 1 10 1 12 1-57 1 62 1-24 1-6 1 17 1-29 1-7 1 23 1 7 1-15 1-8 1 45 1-32 1-19 1 14 1-3 1 19 1 13 1 3 1-21 1 10 1-26 1 10 1 30 1-47 1 11 1 56 1-39 1 7 1-2 1 1 1-2 1 3 1 31 1-23 1 3 1-9 1-60 1 72 1-25 1 21 1-12 1 33 1-33 1-4 1 6 1 11 1-6 1-23 1 21 1 20 1 18 1-36 1 25 1-28 1-5 1 17 1-2 1 3 1-36 1 45 1 1 1-9 1 10 1 29 1-29 1-3 1-11 1 25 1-24 1 32 1-32 1-5 1 12 1 64 1-42 1-14 1-17 1 33 1-28 1 16 1-4 1 5 1 12 1-9 1-3 1-5 1-6 1 24 1-19 1 5 1 16 1 2 1 7 1-12 1 4 1-13 1-13 1 20 1 26 1-22 1 17 1-32 1-7 1 34 1-12 1-19 1-9 1 15 1-19 1 29 1 24 1-14 1-34 1 36 1 2 1-10 1 10 1-3 1-3 1 30 1-45 1 4 1-2 1 98 1-121 1 41 1-13 1 3 1 6 1 14 1-7 1-19 1 19 1-4 1-1 1-28 1 45 1-11 1-8 1 12 1-20 1-7 1 18 1-21 1 17 1 0 1-10 1 3 1-14 1 46 1-46 1 27 1 22 1-5 1-43 1 35 1 3 1-12 1 10 1 2 1-47 1 37 1 21 1 11 1-33 1-8 1 15 1 16 1-13 1 31 1-49 1 8 1 6 1-3 1 13 1-4 1-30 1 41 1-31 1 10 1-8 1 13 1-4 1 15 1-8 1 6 1 45 1-31 1-36 1 22 1 41 1-76 1 36 1-15 1 32 1-13 1 15 1-10 1-13 1-16 1-11 1 17 1 35 1-24 1 27 1-38 1 1 1 8 1 17 1-17 1 20 1-33 1 23 1 34 1-6 1 10 1-23 1-25 1 31 1-47 1 32 1 0 1-20 1 3 1-4 1 16 1 42 1-5 1-17 1-20 1-3 1 36 1-4 1-32 1 3 1 10 1-49 1 22 1 13 1 9 1 4 1-4 1 10 1 0 1 12 1-8 1-13 1 13 1-24 1 23 1-30 1 45 1-22 1 27 1-14 1-18 1 5 1 2 1 39 1-54 1 23 1 16 1 5 1-21 1-8 1-18 1 34 1-3 1-93 1 58 1 29 1-14 1 20 1-2 1-9 1-4 1 24 1-3 1-19 1 25 1-18 1-19 1 11 1-17 1 29 1 3 1 0 1-33 1 13 1-21 1 26 1 17 1-12 1 6 1-4 1-16 1 8 1-3 1 19 1 2 1-25 1 3 1 23 1-3 1-12 1 27 1-31 1 19 1-7 1 17 1-21 1 21 1-6 1-44 1 24 1 20 1-18 1 25 1-14 1-26 1 31 1 3 1 6 1-4 1 13 1-11 1-23 1 35 1-17 1-29 1-4 1 44 1-7 1 1 1-22 1 18 1-1 1-28 1 16 1 3 1-29 1 13 1 20 1 11 1-10 1-4 1 4 1 9 1-15 1 14 1 4 1-4 1 11 1-16 1 6 1-25 1 11 1 47 1-55 1-10 1 27 1 4 1 16 1-10 1-1 1-20 1 37 1 12 1-16 1-18 1 9 1-19 1 4 1 17 1-3 1-16 1 3 1 20 1-1 1-22 1 13 1-24 1 26 1-5 1 5 1-1 1 19 1-13 1-8 1 8 1-7 1-13 1 11 1-31 1 42 1-10 1 9 1-21 1 7 1 2 1-6 1-13 1 22 1-11 1 35 1-23 1 5 1 8 1-24 1 28 1-16 1 24 1-10 1 8 1-20 1-11 1 16 1-15 1 15 1-3 1-1 1-5 1 18 1 18 1-45 1 4 1 10 1 40 1-46 1 36 1-31 1 4 1 1 1-15 1 27 1-12 1-18 1 31 1-1 1-11 1 15 1-4 1-21 1 41 1-28 1-2 1 25 1-16 1-13 1 17 1-28 1 40 1-50 1 33 1-35 1 30 1-9 1 0 1 16 1 7 1-11 1 6 1-12 1 5 1 17 1-31 1 30 1-27 1 8 1 3 1-14 1 19 1-4 1 18 1-12 1 9 1-8 1 24 1-26 1-9 1-11 1 8 1 11 1-1 1 28 1-27 1 1 1 20 1-6 1-2 1-32 1 12 1 1 1 25 1 21 1-42 1 16 1 5 1-17 1 1 1 14 1-9 1-18 1 15 1 0 1-5 1-2 1 3 1-22 1 13 1 7 1-13 1 3 1 3 1 24 1-31 1 42 1-33 1-1 1 14 1 4 1-2 1 8 1-12 1 5 1-3 1-15 1-26 1 24 1 7 1 18 1-13 1 30 1-25 1-12 1-1 1 9 1 15 1-14 1 7 1-12 1-10 1-16 1 38 1-8 1 18 1-1 1-19 1 15 1-8 1-12 1 9 1 6 1 14 1-24 1-3 1 2 1 31 1-21 1-2 1-5 1 2 1 1 1-25 1 34 1 19 1-22 1-7 1 16 1-7 1 15 1-18 1 32 1-28 1 32 1-36 1 3 1 5 1-18 1 38 1-50 1 35 1-23 1 19 1-10 1 10 1 4 1-16 1 12 1-29 1 20 1 23 1 2 1-2 1-16 1 12 1-24 1 12 1-7 1 2 1-6 1 26 1 2 1-30 1 19 1 4 1 1 1-11 1 4 1 8 1-21 1 20 1-24 1 17 1 17 1-11 1-3 1-15 1 21 1 12 1-4 1-17 1 12 1-16 1 10 1-33 1 9 1 5 1 14 1-7 1 25 1-17 1 15 1-5 1-3 1 9 1-9 1-14 1-5 1 0 1 7 1 18 1 6 1-40 1 12 1 12 1-17 1 26 1-15 1 0 1-9 1 6 1 20 1-38 1 54 1-25 1-10 1 15 1-24 1 16 1 4 1 22 1-32 1 3 1 9 1-10 1 32 1-15 1-12 1 2 1 13 1-5 1 1 1 6 1-1 1-36 1-22 1 52 1 6 1-15 1-2 1 6 1-19 1 32 1-30 1 33 1-19 1-9 1 6 1 14 1-9 1 4 1-6 1-3 1 12 1-36 1 47 1-38 1 14 1-1 1-7 1 27 1-22 1-2 1 49 1-23 1-24 1 8 1 6 1 4 1-17 1 0 1 28 1-14 1-12 1 18 1-6 1 18 1-29 1 38 1-32 1 29 1-34 1-12 1 16 1 16 1 2 1-15 1 2 1 21 1-18 1-26 1 39 1-19 1-3 1-1 1 10 1-16 1-5 1 18 1-24 1 16 1 17 1-10 1 6 1 4 1-34 1 55 1-34 1 0 1 15 1-1 1-20 1-1 1 0 1 10 1 7 1-20 1 5 1 39 1-45 1 23 1-18 1 6 1-11 1 16 1 17 1 1 1-26 1 13 1-22 1 19 1 10 1-18 1 18 1-12 1 3 1-2 1-16 1 46 1-8 1-32 1 5 1 13 1 9 1-14 1-19 1 24 1-3 1-2 1 20 1-17 1 7 1-2 1 3 1-14 1 28 1-25 1 8 1 11 1-12 1-12 1 25 1-18 1 5 1 0 1-5 1 5 1-6 1 4 1-7 1 33 1-10 1-25 1-3 1 28 1-2 1-32 1 35 1-16 1-13 1 10 1 10 1 1 1 29 1-32 1-8 1 22 1-9 1-8 1 1 1-20 1 23 1-20 1 17 1 1 1-11 1 7 1 13 1-17 1-5 1-6 1 15 1 17 1-15 1-6 1-3 1-9 1 32 1-21 1-5 1 6 1-2 1 7 1-4 1 3 1 4 1 16 1-27 1 27 1-24 1-2 1 28 1-14 1-10 1-4 1 5 1-17 1 36 1-25 1 23 1-25 1 16 1-10 1-15 1 20 1-5 1 13 1-9 1 30 1-82 1 44 1 0 1-8 1 3 1 7 1 23 1 8 1-7 1-22 1 19 1-3 1-1 1 13 1-25 1 8 1 21 1-5 1-27 1 27 1-7 1-4 1-14 1 0 1-1 1-11 1 39 1-16 1-6 1-15 1 2 1 29 1-22 1 13 1-23 1 26 1 3 1-15 1-8 1 30 1-5 1-2 1-12 1 5 1 8 1-33 1 20 1-12 1 10 1-5 1 16 1 6 1-25 1 46 1-31 1 6 1-20 1 21 1-15 1 1 1-3 1 18 1 7 1-10 1 7 1-18 1-8 1 10 1-12 1 15 1 7 1 9 1-16 1-6 1-19 1 29 1-13 1 17 1 3 1-18 1 20 1 9 1-18 1 0 1-6 1-15 1 0 1 27 1-13 1 12 1 7 1-23 1 19 1-20 1 10 1 9 1-5 1-25 1 25 1 3 1-36 1 12 1 2 1-20 1 35 1-29 1-13 1 21 1 42 1-16 1-3 1 15 1-29 1 26 1-20 1-3 1 16 1-1 1-6 1-6 1 19 1-30 1 36 1 7 1-21 1-11 1 18 1-9 1 3 1-21 1 20 1 27 1-30 1-11 1 31 1 7 1-24 1-3 1-3 1 29 1-8 1-44 1 49 1-15 1-9 1 4 1 5 1-5 1 3 1-9 1 0 1 1 1 7 1-24 1 31 1-27 1 30 1-13 1 3 1-19 1 16 1 6 1-13 1-27 1 57 1-30 1 16 1-10 1 16 1-16 1 6 1-1 1-26 1 42 1-37 1 31 1-4 1-10 1-5 1 1 1 4 1 28 1-18 1-13 1 1 1-10 1 45 1-34 1 1 1-4 1 8 1-4 1-5 1 8 1 13 1-12 1 3 1-10 1 6 1 1 1-2 1 15 1-27 1 9 1 12 1-9 1-5 1 26 1-33 1 27 1-19 1 11 1-7 1-18 1 22 1-20 1 5 1 13 1-13 1 15 1-3 1-6 1 16 1-3 1-19 1-10 1 14 1 31 1-18 1-3 1 2 1-6 1-8 1 1 1-3 1 5 1 8 1-1 1 12 1-23 1 16 1 14 1-19 1 29 1-9 1-18 1 16 1 3 1-10 1-12 1 9 1-9 1-9 1 23 1-7 1-41 1 33 1 7 1-5 1 11 1-10 1-11 1-3 1 24 1 0 1 26 1-52 1 20 1-2 1 6 1 12 1-19 1-3 1 21 1-3 1-35 1 23 1 8 1-10 1 23 1-23 1 18 1-28 1-14 1 31 1-1 1-20 1 18 1-9 1 13 1-14 1 19 1-1 1 5 1-18 1 1 1-1 1 2 1 8 1 6 1-22 1 12 1 10 1-16 1 0 1 3 1-14 1 8 1-11 1 25 1 6 1-25 1 14 1 4 1 5 1-13 1-11 1 29 1-18 1 2 1-10 1 15 1 2 1 7 1 9 1-20 1-5 1 8 1-7 1-6 1 24 1-5 1-9 1-23 1 27 1 31 1-33 1 4 1-16 1 17 1-16 1-3 1 3 1-8 1 24 1-32 1 27 1 18 1-57 1 40 1 9 1-17 1 2 1 10 1 4 1-16 1 6 1 7 1-27 1 20 1-4 1 10 1-12 1 13 1-10 1-11 1 26 1 5 1-1 1-12 1-4 1 3 1-6 1 5 1-15 1 24 1-20 1-1 1 17 1-33 1 7 1 10 1-3 1 19 1-1 1-9 1 20 1-16 1-6 1-7 1 39 1-42 1-12 1 25 1-9 1 35 1-10 1 4 1-2 1-28 1 39 1-27 1 3 1 24 1-38 1 25 1-2 1 3 1 17 1-23 1-5 1 4 1-9 1-11 1 7 1 21 1-28 1 19 1-19 1 16 1-2 1 7 1 6 1-6 1-14 1 22 1-12 1 8 1-10 1 9 1-26 1 8 1-3 1 3 1 1 1 14 1-12 1 4 1-1 1 23 1-12 1-15 1 15 1-2 1-17 1 11 1-6 1 9 1-14 1 14 1 20 1-16 1-24 1 22 1-6 1-2 1-3 1 19 1-7 1-22 1 12 1 28 1-10 1-34 1 25 1 16 1-21 1 17 1 5 1 6 1-10 1-7 1 8 1-6 1-25 1 18 1-5 1-4 1 9 1 4 1-2 1-10 1 12 1-2 1-27 1 21 1 5 1 18 1-41 1 24 1-7 1-7 1 25 1 23 1-43 1 20 1-16 1 13 1-6 1-9 1 6 1-18 1 31 1-25 1 5 1 19 1-37 1 20 1 11 1 6 1-13 1-11 1 19 1-23 1 17 1-7 1-8 1 3 1 2 1 2 1 10 1-8 1-1 1 8 1-15 1 17 1-29 1 24 1-18 1 15 1 13 1-20 1 17 1-4 1 9 1-29 1 16 1 11 1-36 1 33 1-4 1-18 1 8 1 21 1-8 1-5 1 11 1-5 1-4 1 2 1 8 1-40 1 33 1-2 1 18 1-12 1-19 1 4 1 6 1 4 1-3 1-21 1 20 1-13 1 23 1-14 1 2 1-12 1 11 1-7 1 6 1 6 1 18 1-27 1-6 1 31 1-36 1 21 1-9 1 15 1-18 1 7 1 16 1-10 1-16 1 8 1 5 1 14 1-31 1 13 1 1 1 21 1-24 1 1 1 9 1-3 1 17 1-28 1 36 1-16 1 1 1 10 1-45 1 11 1 13 1 19 1-21 1-4 1 4 1-6 1-1 1 23 1-24 1-18 1 19 1 24 1-19 1 1 1 11 1-22 1 23 1-13 1 12 1-31 1 45 1-27 1 21 1-34 1 49 1-32 1-12 1 11 1 14 1-21 1 26 1-31 1 27 1-26 1 21 1-4 1-9 1 34 1-41 1-7 1 32 1-12 1 16 1-14 1 14 1 5 1-15 1-2 1-5 1 1 1 4 1 18 1-60 1 50 1-7 1-16 1 17 1 3 1-2 1 2 1-16 1 18 1-22 1 34 1 11 1-36 1 10 1-7 1 28 1-32 1 3 1-5 1-7 1 15 1 8 1-2 1-22 1 28 1-6 1 1 1-7 1-12 1-3 1 14 1 22 1-19 1 18 1-4 1-14 1-3 1-3 1 4 1 6 1-11 1 18 1 0 1-19 1 19 1-8 1-5 1-6 1 6 1 22 1-29 1 30 1-14 1-13 1 17 1-26 1 8 1 12 1-1 1-20 1 45 1-25 1-2 1 0 1-1 1-5 1-7 1-10 1 18 1 6 1-8 1-5 1-6 1 7 1 2 1 15 1 6 1-19 1 2 1 4 1-1 1-14 1 8 1 8 1-6 1-13 1 9 1 7 1-1 1-8 1 13 1-1 1 20 1-30 1 22 1-28 1-2 1 26 1-15 1 14 1-21 1 24 1-30 1 41 1 3 1-7 1-9 1-11 1 13 1-4 1-14 1-9 1 15 1 8 1-11 1-9 1 5 1 6 1 29 1-26 1 5 1-25 1 26 1-4 1-2 1-3 1-6 1 14 1-13 1 11 1-2 1 13 1 3 1-44 1 26 1 8 1-8 1 14 1 22 1-36 1-7 1 38 1-38 1 3 1 13 1-7 1-16 1 8 1 3 1 32 1-18 1 6 1-24 1 22 1-10 1 9 1-1 1-7 1 10 1-12 1 15 1-11 1-10 1 3 1 17 1 6 1-26 1 4 1-6 1 11 1-13 1 5 1 5 1-19 1 15 1 0 1-13 1 0 1 23 1-1 1-26 1 16 1 21 1 13 1-17 1-23 1 32 1-4 1-10 1-1 1 9 1-20 1-11 1 27 1-11 1-18 1-3 1 45 1-18 1-10 1-16 1 19 1-20 1 7 1 13 1-1 1 0 1-18 1 28 1-7 1 4 1-4 1-48 1 62 1 8 1-27 1 6 1 16 1-24 1 7 1 2 1 1 1-16 1 23 1-19 1-14 1 14 1 2 1 17 1 14 1-20 1 11 1-39 1 17 1 10 1 3 1-25 1 4 1 16 1 11 1-5 1 0 1-11 1 16 1-2 1-34 1 11 1 20 1-29 1 23 1 9 1-18 1-8 1 11 1 19 1-15 1 5 1 12 1-11 1-13 1 8 1-3 1-12 1 17 1 2 1 3 1-39 1 44 1-16 1-10 1 13 1 14 1-2 1 10 1 5 1-28 1-3 1 7 1-20 1 13 1-7 1 11 1 17 1-26 1-9 1 42 1-44 1 20 1-6 1 27 1-21 1 23 1-9 1-16 1 12 1-46 1 51 1-49 1 29 1 11 1-3 1-36 1 30 1-4 1 18 1-24 1 5 1 25 1-18 1-3 1 29 1-18 1-3 1 28 1-38 1 12 1 8 1-10 1 12 1-9 1-4 1-12 1 17 1-12 1 39 1-17 1-9 1-2 1-13 1 18 1 6 1-20 1 9 1 8 1-28 1 22 1-7 1-15 1 13 1 2 1-7 1 9 1 8 1 24 1-32 1-4 1 22 1-24 1 20 1-8 1-25 1 26 1 2 1 6 1-7 1 0 1 8 1-23 1 10 1-5 1 24 1-5 1-9 1 1 1-16 1 13 1 15 1-28 1 12 1 0 1 0 1 5 1-9 1 2 1 16 1-25 1 15 1-1 1 7 1 9 1-41 1-14 1 39 1 15 1-13 1-23 1 28 1 20 1-22 1-4 1-5 1-2 1 4 1 2 1-1 1 14 1-6 1 3 1-15 1 22 1-18 1 6 1 15 1-7 1-8 1 1 1-2 1 10 1-1 1 4 1-4 1-15 1-20 1 37 1-16 1-10 1 28 1-22 1 2 1-35 1 42 1-1 1 9 1-7 1 0 1 8 1-19 1 6 1 24 1-17 1-16 1 6 1 19 1-9 1 9 1 4 1-27 1 13 1-7 1 9 1 2 1-3 1-8 1-19 1 6 1 19 1 0 1 1 1 3 1-6 1 11 1-7 1-12 1-6 1 14 1 7 1-18 1 9 1 18 1-14 1-10 1 49 1-35 1 2 1-25 1 19 1 14 1-2 1-23 1 17 1-20 1 15 1 1 1-1 1 9 1 5 1-6 1 4 1-4 1-28 1 15 1 8 1 5 1-6 1-3 1-1 1 17 1-31 1 20 1 6 1-4 1-6 1-3 1-19 1 25 1 11 1-8 1-11 1-6 1-10 1 22 1 14 1-24 1 11 1-4 1 1 1 16 1-5 1-3 1-14 1 4 1-3 1-1 1 27 1-12 1-3 1-7 1 2 1-1 1 5 1 5 1 1 1 12 1-12 1-15 1 22 1-16 1 15 1-6 1 0 1-11 1-23 1 10 1 28 1-27 1 9 1 5 1-7 1 21 1 1 1-7 1-19 1 14 1-2 1 2 1 8 1 4 1-18 1 0 1 15 1 2 1-9 1-7 1 20 1-21 1-11 1 24 1-18 1 7 1 10 1-19 1 11 1-31 1 21 1 7 1-4 1-5 1 24 1 1 1-17 1 5 1-14 1 11 1 8 1-18 1 7 1 10 1-1 1 3 1-29 1 26 1-10 1 17 1-2 1 5 1-17 1 9 1-24 1 25 1-15 1 12 1 9 1-25 1 15 1-9 1-13 1 10 1 15 1 5 1 1 1-33 1 33 1-14 1 23 1-21 1-9 1 31 1-25 1-16 1 18 1 6 1 5 1-4 1-10 1 14 1-15 1 5 1-10 1 1 1 8 1-10 1 1 1 18 1-26 1 2 1 22 1 11 1-17 1 14 1-23 1 14 1-8 1-2 1 26 1-15 1 25 1-31 1 16 1-31 1 24 1-38 1 38 1-5 1-2 1-10 1 27 1-21 1-3 1 14 1 3 1-30 1 23 1-19 1 23 1-14 1 14 1 8 1-21 1-10 1-1 1 19 1 16 1-9 1-7 1-14 1 19 1-14 1 23 1-23 1 9 1-1 1 14 1-20 1-24 1 21 1 12 1 2 1-9 1-11 1 27 1-13 1 9 1-20 1 16 1-5 1 0 1 0 1-8 1 7 1 0 1 0 1 18 1-13 1 2 1 1 1-25 1 7 1 25 1-12 1 0 1-7 1 26 1-4 1-14 1-1 1-2 1 13 1 0 1-8 1-6 1 18 1-16 1-16 1 46 1-34 1 15 1 1 1-23 1-9 1 14 1 11 1-15 1-1 1 33 1-6 1-9 1-23 1 35 1-12 1-1 1-17 1 25 1 6 1-25 1 10 1 18 1-1 1-17 1 9 1-1 1-10 1 2 1-13 1 6 1-14 1 18 1 9 1-27 1 14 1-6 1 28 1-33 1 15 1 3 1-3 1-11 1 8 1 11 1 4 1-18 1-7 1-4 1 13 1 9 1-8 1 10 1 0 1-21 1 10 1-5 1-21 1 24 1 0 1 8 1 15 1-25 1-1 1-3 1 26 1-27 1 1 1 16 1-16 1 28 1-12 1-34 1 8 1-2 1 32 1 1 1-27 1 10 1 20 1-4 1-27 1 19 1 5 1-15 1 10 1-11 1 6 1 7 1 4 1 4 1-8 1-7 1-1 1 9 1-12 1 10 1 7 1-2 1-5 1 0 1-8 1 20 1-4 1-26 1 26 1-17 1-4 1 18 1 12 1-18 1-11 1-4 1 9 1 6 1 10 1-10 1-9 1 12 1-27 1 36 1-11 1 3 1 8 1-5 1-11 1-6 1 9 1 7 1-17 1 9 1 17 1-13 1-11 1 3 1 9 1-9 1 20 1-10 1-14 1 2 1 24 1-18 1-8 1 5 1-9 1 23 1 6 1-14 1-8 1-8 1 0 1 21 1 1 1 15 1-21 1 9 1 3 1-22 1 21 1-12 1 11 1-30 1 3 1 36 1-22 1 11 1 8 1-19 1 7 1-6 1 14 1-4 1 0 1 3 1-2 1-22 1 13 1-11 1 13 1 3 1-28 1 10 1 35 1-14 1-19 1 14 1-4 1 9 1 10 1-33 1 16 1-10 1-18 1 25 1 6 1-13 1-3 1-4 1 3 1 26 1-12 1 19 1-3 1-16 1 8 1-15 1-11 1 13 1-1 1 28 1-17 1-9 1 18 1-9 1 2 1-1 1-10 1-8 1 15 1 0 1 6 1-12 1-23 1 18 1 13 1-2 1-15 1 17 1-7 1-6 1-25 1 33 1 6 1-8 1 2 1 7 1-3 1-20 1 15 1 3 1-17 1 13 1-2 1-18 1 58 1-29 1 6 1-1 1-21 1 1 1 8 1-4 1 11 1 3 1-12 1 12 1-8 1 22 1-36 1 30 1-19 1-2 1 3 1 6 1-23 1 9 1 11 1-13 1 29 1 0 1-14 1 3 1-8 1-7 1 20 1-2 1-23 1 20 1-8 1-9 1 25 1-13 1 7 1 8 1-15 1-31 1 23 1 13 1-1 1-36 1 34 1 1 1 2 1 18 1-1 1-17 1 19 1-7 1-15 1-29 1 21 1 8 1 1 1-3 1-12 1 22 1 1 1-19 1 10 1-7 1-9 1 27 1-7 1-11 1-3 1 13 1-7 1 4 1 1 1-11 1 10 1-8 1 2 1 0 1-10 1-15 1 21 1 11 1 1 1-8 1 4 1-11 1 19 1-4 1-17 1 8 1 11 1-5 1-11 1-3 1 23 1-17 1 7 1 6 1-17 1 23 1-34 1 19 1-6 1 4 1-12 1 7 1 3 1 11 1 12 1-12 1-6 1-6 1 32 1-46 1 32 1-10 1 5 1-4 1 0 1-12 1-14 1 19 1-12 1 36 1-30 1 16 1-10 1 5 1 7 1 1 1 10 1-20 1 15 1 13 1-24 1-8 1 14 1 10 1-33 1 33 1-16 1-20 1 8 1 28 1-34 1 25 1-13 1-3 1 15 1 7 1-9 1-11 1 1 1-6 1 8 1 1 1 1 1-2 1 4 1-3 1 5 1 1 1 4 1-29 1 7 1 21 1-22 1 10 1 19 1-12 1-26 1 22 1-1 1 5 1-13 1 17 1 33 1-28 1-33 1 15 1 6 1 15 1-1 1-20 1 6 1 0 1-4 1 6 1-14 1 9 1 22 1-28 1 11 1-14 1 24 1-6 1-8 1-6 1 19 1 0 1-30 1 5 1 15 1 10 1 14 1-15 1-21 1 35 1-22 1 2 1-3 1-4 1 9 1-13 1 28 1-26 1 20 1-9 1 9 1-4 1 1 1-9 1 31 1-20 1 0 1-23 1 15 1-19 1 12 1 3 1-2 1-4 1-1 1 15 1 1 1-25 1-1 1 11 1 11 1 3 1 22 1-27 1-3 1 1 1-6 1 1 1 12 1-1 1-23 1 21 1 2 1-31 1 36 1-2 1 1 1-27 1 48 1-29 1-14 1 19 1-8 1-3 1-11 1 23 1-25 1 35 1-7 1-26 1 19 1-23 1 21 1-8 1 51 1-24 1-5 1-20 1-9 1 17 1-9 1-26 1 41 1-26 1 9 1 4 1 2 1-13 1 30 1-21 1 12 1-12 1 9 1-8 1 8 1 20 1-21 1-3 1-5 1 18 1-18 1 5 1 12 1-8 1 8 1-22 1 17 1 18 1-50 1 37 1-18 1 14 1 31 1-22 1-31 1 8 1 0 1 24 1-15 1-2 1-6 1 10 1-4 1 1 1-23 1 19 1-7 1 1 1 26 1-4 1-17 1 6 1 6 1 7 1-17 1-10 1 15 1-9 1-9 1-2 1 8 1 1 1 23 1-31 1 7 1 19 1-66 1 63 1 3 1 2 1-18 1 4 1 21 1-15 1-10 1 7 1-6 1 22 1-17 1 4 1 4 1-31 1 23 1-12 1 26 1 4 1-22 1-3 1 1 1 26 1-22 1 15 1-7 1-15 1 23 1-2 1-18 1 14 1-2 1-3 1-11 1 26 1-47 1 22 1 8 1 33 1-44 1 8 1 3 1-7 1 7 1 3 1 9 1-9 1 0 1 4 1-18 1 24 1-20 1 7 1 2 1 1 1-8 1-1 1 18 1-4 1-36 1 26 1 1 1 6 1-1 1 15 1-18 1 13 1-22 1-4 1 25 1-22 1 10 1-22 1 2 1 40 1-27 1 1 1 0 1 3 1 4 1 12 1-20 1 20 1-2 1-18 1-8 1 17 1-2 1 10 1-2 1-8 1-8 1 12 1-10 1 4 1 6 1-7 1 2 1-1 1-4 1 7 1 4 1-17 1 8 1 23 1-3 1-15 1 5 1 1 1-18 1 1 1 33 1-21 1 14 1-14 1 18 1-2 1-23 1 37 1-23 1-24 1 22 1-12 1 9 1 4 1-15 1 19 1-28 1 29 1 4 1-12 1 4 1-2 1 13 1-28 1 6 1 17 1 0 1-29 1 8 1 14 1-11 1-16 1 0 1 20 1-3 1-2 1 1 1 15 1-13 1 22 1-30 1 17 1-4 1-10 1 13 1-1 1-10 1 0 1-8 1 29 1-13 1 2 1 5 1-15 1-12 1 8 1 5 1 10 1 11 1 2 1-12 1-1 1-21 1 20 1-4 1-11 1 12 1-29 1 35 1-9 1 25 1-16 1-3 1 7 1-13 1-3 1-11 1 0 1 17 1 21 1-6 1-5 1-16 1-3 1 7 1-2 1 7 1-13 1 18 1 14 1-22 1 0 1-2 1 4 1 5 1-6 1-1 1 3 1-3 1-2 1-8 1-1 1-15 1 31 1-22 1 11 1-3 1 2 1-1 1-1 1 21 1-10 1-1 1 7 1-13 1 6 1-13 1 4 1 17 1-16 1 7 1-2 1 5 1 7 1-11 1-2 1 4 1-14 1-3 1 25 1-3 1-28 1 13 1 19 1-2 1-7 1-7 1 19 1-7 1 1 1-1 1 1 1-12 1-6 1 7 1-10 1 17 1 1 1-16 1 19 1-4 1-4 1 16 1-7 1-22 1 22 1 7 1-21 1 2 1 6 1 0 1 2 1-18 1 16 1 4 1 4 1-7 1 4 1-9 1-2 1 9 1-2 1-15 1 20 1-5 1-23 1-2 1 26 1-9 1 31 1-25 1 7 1 10 1-19 1-3 1 28 1-26 1-1 1-18 1 22 1 2 1-10 1-1 1-4 1 32 1-14 1 15 1-17 1 3 1 0 1-11 1 10 1-1 1-9 1 15 1-5 1-4 1 8 1-18 1 20 1-7 1-11 1 21 1-3 1-24 1 21 1-3 1 9 1-12 1 17 1-4 1-33 1 15 1 9 1-18 1 12 1 8 1-7 1-23 1 20 1 4 1-6 1 16 1 3 1-26" transform="translate(583.17 0) scale(0.2757 0.5)" fill="none" stroke="#a678b6" stroke-width="2.40" vector-effect="non-scaling-stroke" stroke-linejoin="round" />
<path d="M0 1544 l1 7 1-3 1 4 1 5 1 2 1-5 1 17 1 1 1 14 1-14 1 14 1-6 1 17 1 0 1-11 1 21 1-12 1 37 1-31 1 4 1 0 1 7 1 8 1 20 1 2 1-30 1 15 1 6 1 16 1 23 1-73 1 35 1 23 1 3 1-11 1 34 1 8 1-14 1 26 1-26 1-8 1 49 1-50 1 5 1 6 1 10 1-35 1 40 1 4 1 2 1 24 1-3 1 2 1-49 1 50 1-4 1 19 1 34 1-42 1-3 1-1 1 17 1 13 1-25 1 17 1 3 1 14 1-18 1 31 1-34 1-8 1 9 1 11 1-10 1-2 1 33 1-19 1 11 1 21 1-15 1 10 1-13 1 34 1 2 1-20 1 15 1-40 1 72 1-55 1-9 1 13 1 10 1 0 1 29 1-7 1-16 1 7 1 12 1-2 1 11 1-16 1 0 1 17 1-33 1 15 1 33 1-20 1 2 1 26 1-41 1 23 1 11 1-7 1 34 1-20 1-14 1 18 1 44 1-27 1 17 1-47 1 55 1-33 1-8 1 34 1-35 1 32 1 28 1-16 1 7 1-16 1-9 1 22 1 19 1-50 1 51 1-32 1 33 1-4 1-1 1-18 1 16 1-9 1 20 1-52 1 26 1 5 1 14 1 4 1-29 1-2 1 39 1-28 1 38 1 33 1-51 1 9 1-1 1 30 1 20 1-39 1 41 1-60 1 28 1 22 1-1 1-2 1 24 1-16 1 19 1-29 1 33 1-16 1 0 1 0 1-10 1-10 1-8 1 73 1-12 1-4 1-44 1 51 1-11 1 19 1-34 1 28 1 2 1-30 1 17 1 19 1-10 1-27 1 68 1-8 1-14 1 4 1-4 1-11 1 11 1-44 1 74 1-32 1-1 1 17 1-4 1 12 1-4 1-77 1 56 1 44 1-40 1 25 1 19 1-4 1-16 1 22 1-18 1 5 1-13 1-3 1 31 1-12 1 38 1-68 1 9 1 43 1-16 1 11 1 8 1 2 1-7 1-6 1 7 1 21 1 20 1-16 1-8 1-44 1 52 1 13 1-1 1-26 1 39 1-51 1 13 1 26 1-13 1-14 1 17 1-8 1 22 1-9 1-5 1 18 1-9 1-21 1 48 1-14 1-36 1 61 1-25 1-10 1-8 1 21 1-51 1 3 1 84 1-40 1 24 1 4 1-13 1 15 1-30 1-4 1 44 1-1 1-10 1-21 1 20 1 24 1-41 1 9 1-34 1 34 1 24 1 22 1-42 1-6 1 27 1 16 1-61 1 67 1-13 1-10 1 25 1-30 1-4 1 51 1-39 1 12 1-24 1 51 1-23 1-3 1-12 1 2 1 38 1-16 1-9 1-24 1 22 1-1 1 45 1-50 1 16 1-18 1 42 1-16 1 6 1-2 1-1 1 0 1-1 1 13 1-6 1 47 1-23 1-18 1 15 1-9 1 41 1-26 1 29 1-81 1 75 1-9 1-34 1 6 1 14 1 13 1-6 1 10 1-27 1 33 1-6 1 29 1-28 1 41 1-16 1-8 1-20 1-1 1 4 1 2 1 20 1-14 1 9 1-37 1 44 1-21 1 20 1-25 1 11 1 28 1-28 1 20 1 28 1-38 1-31 1 38 1-7 1 14 1 20 1-22 1-8 1 7 1 49 1-57 1 15 1-12 1 32 1-60 1 75 1-17 1-13 1-17 1 24 1 10 1-10 1 14 1 19 1-21 1-14 1-1 1 29 1 9 1 3 1-48 1 34 1-6 1 22 1-32 1 9 1 31 1-33 1 28 1-36 1 30 1-13 1 9 1 22 1-19 1 15 1-7 1-5 1 19 1-38 1 37 1 1 1-34 1 18 1-7 1 30 1-13 1-6 1 27 1-7 1 11 1-37 1 14 1 14 1 20 1-33 1 18 1 3 1 21 1-37 1 24 1-3 1-19 1-10 1 20 1 0 1 3 1 23 1-20 1-1 1-20 1 5 1 24 1 2 1-19 1 43 1-8 1-24 1-22 1 41 1-30 1 27 1 24 1-6 1-22 1 18 1-15 1 18 1-66 1 31 1 26 1 3 1 5 1-18 1 32 1 9 1-8 1-6 1-2 1 4 1-12 1 14 1-16 1-12 1 40 1 2 1-39 1 18 1 36 1-21 1 4 1-36 1 16 1 17 1-13 1 17 1-9 1-2 1 5 1 25 1-33 1-20 1 47 1-31 1 20 1-17 1 22 1-11 1-9 1 54 1-24 1 4 1-17 1 16 1-11 1-60 1 55 1 22 1-3 1-2 1 1 1 11 1-3 1 16 1-9 1-32 1 30 1-11 1-31 1 29 1 48 1-31 1-3 1-12 1 21 1-5 1-57 1 74 1-12 1-9 1-10 1 6 1 31 1-22 1-1 1-1 1 23 1-8 1-3 1 0 1 5 1-6 1 1 1-17 1 14 1 4 1 13 1-14 1 16 1 3 1 23 1-20 1 4 1-9 1-14 1-26 1 69 1-4 1-45 1 23 1-1 1-11 1 23 1-6 1 11 1-8 1-19 1 15 1-28 1 44 1 1 1-28 1 24 1-29 1 2 1 39 1-40 1 13 1-1 1 5 1-18 1-38 1 88 1-39 1 33 1-17 1-1 1 2 1 11 1-21 1 38 1-20 1 23 1-7 1-39 1 35 1-11 1 14 1-9 1 14 1-6 1-14 1 6 1-18 1-20 1 65 1-41 1 24 1-22 1 11 1 12 1 11 1-16 1 19 1 16 1-16 1-30 1 35 1-57 1 13 1 31 1 18 1-16 1-8 1-3 1 7 1-19 1 39 1-4 1 6 1-14 1 1 1-9 1 14 1 40 1-22 1-7 1-15 1 9 1 1 1 9 1-6 1 2 1-10 1 0 1 24 1-7 1-31 1 26 1-3 1 42 1-60 1 66 1-31 1-17 1 13 1-1 1 22 1-34 1 33 1 8 1-42 1-9 1 31 1 2 1 26 1-12 1-4 1-23 1 6 1 10 1-20 1 29 1-9 1 11 1-6 1-20 1 15 1-3 1 34 1 17 1-40 1-13 1 5 1 2 1 7 1 0 1 4 1-4 1-16 1 17 1 23 1 12 1 4 1-15 1-4 1 13 1-19 1 19 1-4 1 7 1 9 1-29 1 20 1-6 1-7 1 13 1-22 1-28 1 22 1-11 1 33 1-10 1 31 1-41 1 25 1-19 1 17 1-24 1 22 1 18 1-13 1-10 1 19 1 27 1-7 1-29 1-10 1 15 1 6 1 5 1 5 1-7 1-6 1-13 1-3 1 43 1-19 1 8 1 22 1 4 1-23 1-13 1-31 1 53 1-21 1 14 1-5 1 14 1 16 1 0 1-36 1-12 1 10 1 24 1-23 1 8 1 14 1 6 1-36 1 58 1-51 1 23 1 1 1-29 1 29 1-3 1 31 1-25 1-20 1 40 1-34 1 7 1 11 1 11 1-5 1 5 1-45 1 25 1 37 1-28 1 49 1-61 1 31 1 22 1-13 1-57 1 40 1 10 1 1 1-37 1 14 1-5 1 6 1 48 1-54 1 12 1 28 1-26 1 0 1-31 1 20 1 60 1-24 1-27 1 10 1-10 1 7 1-4 1 6 1 0 1-6 1 32 1-13 1-10 1-13 1 24 1 23 1-17 1 3 1-21 1-4 1 15 1 15 1-8 1-16 1 16 1 3 1-2 1 21 1-18 1-40 1 39 1-2 1 17 1-2 1-2 1-4 1-18 1 13 1 39 1-20 1-14 1 9 1-37 1 61 1-29 1-16 1 4 1 13 1-24 1 55 1-62 1 19 1 45 1 1 1-24 1-14 1-1 1 36 1 3 1-46 1 62 1-27 1-12 1-10 1 27 1-15 1 29 1-26 1-18 1 30 1-33 1 18 1 29 1-5 1-42 1 45 1 6 1-35 1-18 1 17 1-22 1 47 1-9 1-6 1 16 1-23 1 20 1 11 1-11 1 26 1-34 1 11 1 8 1-13 1 11 1-1 1 3 1-30 1 44 1-22 1 18 1-24 1 32 1 17 1-27 1 6 1-7 1-22 1-5 1 19 1-1 1 12 1-17 1 22 1 11 1-20 1 17 1-28 1 17 1 27 1-35 1-15 1 52 1-74 1 15 1 24 1-3 1 23 1 15 1-27 1 15 1 25 1-16 1-31 1-10 1 29 1 14 1-33 1 21 1 46 1-36 1-5 1 12 1 16 1-63 1 44 1 18 1-65 1 41 1-9 1 23 1-11 1 27 1-15 1 11 1-25 1 27 1-55 1 35 1 5 1 3 1-33 1 45 1 6 1-4 1-35 1 7 1 4 1 5 1-15 1 16 1 19 1-78 1 41 1 64 1-40 1 1 1 1 1-27 1 19 1 5 1-26 1 13 1-10 1 48 1-24 1-25 1 28 1 16 1-29 1 10 1 18 1 0 1-11 1-1 1-16 1 18 1-11 1-3 1 17 1-15 1 4 1 1 1 28 1-31 1 24 1 1 1-10 1 8 1 9 1-2 1-31 1-8 1 11 1 11 1 23 1-40 1 4 1 12 1 0 1 22 1 6 1 10 1-11 1-15 1-3 1 16 1-23 1-5 1 32 1-24 1 32 1-11 1-1 1-23 1 12 1-4 1 0 1-2 1 3 1 26 1-45 1 43 1-4 1-34 1 37 1 0 1 10 1-20 1 13 1-32 1 24 1-8 1-15 1 14 1-26 1 48 1-8 1-16 1-3 1 6 1 6 1 4 1-5 1-26 1 29 1-15 1-21 1 48 1-27 1-18 1 56 1-3 1-16 1-5 1 3 1 8 1-69 1 44 1 9 1-8 1 0 1 8 1 32 1-42 1 32 1-30 1 6 1-13 1 60 1-43 1-12 1 59 1-51 1 4 1 5 1-22 1 55 1-31 1 11 1 59 1-47 1-17 1 8 1-19 1 12 1-20 1 23 1-7 1 4 1 1 1-20 1 9 1 20 1 20 1-58 1 13 1 19 1-17 1 9 1-6 1 6 1 13 1-5 1-6 1 3 1-5 1-42 1 70 1 19 1-32 1 17 1-42 1 18 1 6 1 7 1 28 1-41 1 24 1-22 1 13 1-65 1 39 1 15 1-1 1-22 1 37 1-29 1 12 1 18 1-1 1-19 1-31 1 48 1-7 1-34 1 39 1-12 1 28 1-37 1 32 1-36 1-24 1 42 1 1 1-9 1 20 1 6 1-13 1-20 1 21 1-12 1 0 1 14 1 9 1-7 1 8 1 18 1-31 1 17 1-18 1 29 1-56 1-22 1 37 1 8 1-51 1 54 1 9 1-31 1 20 1-13 1 14 1 0 1 4 1-9 1 19 1-1 1-1 1-7 1 5 1-49 1 62 1-20 1 15 1-54 1 28 1 10 1 22 1-21 1-30 1 33 1-15 1 23 1-5 1-8 1-8 1-8 1 58 1-15 1-14 1 13 1-44 1 19 1 17 1-5 1-24 1-3 1 7 1-12 1 36 1-14 1-25 1 12 1 15 1 4 1-4 1 9 1-11 1-3 1-5 1 0 1 1 1-8 1 3 1-9 1-4 1 4 1 21 1-16 1 13 1 32 1-22 1-44 1 35 1-8 1-41 1 60 1-5 1-26 1 29 1-8 1-9 1 4 1-5 1 19 1 32 1-54 1-13 1 35 1-48 1-2 1 70 1-32 1 19 1-22 1-26 1 22 1-15 1 18 1 24 1-15 1-22 1-3 1 2 1 3 1 10 1 18 1-39 1 12 1 9 1 21 1-7 1 6 1-26 1 16 1-7 1 10 1-26 1-10 1 59 1-32 1 27 1-22 1-36 1 34 1 6 1-65 1 51 1-1 1 5 1-29 1 36 1-17 1 5 1-25 1 13 1 30 1-38 1 29 1-14 1-21 1 11 1-7 1 20 1 0 1 1 1 1 1 22 1-20 1-5 1-8 1-9 1 31 1-40 1 51 1-40 1 2 1-10 1 46 1-15 1-33 1-7 1 44 1-30 1 45 1-62 1 28 1 6 1-12 1 14 1-43 1 54 1-30 1 6 1 10 1-12 1-11 1-11 1 31 1-3 1 20 1-34 1 4 1-6 1-10 1 46 1-31 1 29 1-43 1 10 1-10 1 1 1 4 1 13 1-40 1 45 1 6 1-23 1 42 1-17 1-26 1-17 1 32 1-8 1-6 1 20 1-28 1 37 1-11 1-1 1-3 1-32 1 34 1 10 1-18 1 11 1-46 1 46 1-33 1 48 1-45 1 18 1-31 1 38 1-38 1 28 1 4 1-3 1-36 1 37 1-1 1 1 1 15 1-42 1 23 1 0 1-18 1 8 1 5 1 5 1-25 1 0 1 33 1-24 1-6 1 10 1 26 1-6 1 10 1-28 1 29 1-43 1 11 1 5 1 35 1-17 1-1 1-22 1 14 1-16 1-19 1-10 1 40 1-1 1 3 1 5 1-20 1 7 1 27 1-25 1-26 1 28 1-32 1 68 1-32 1-27 1 27 1-29 1-18 1 45 1-19 1 10 1-11 1 18 1-66 1 45 1 1 1 21 1 0 1-5 1-11 1-5 1 12 1 4 1-39 1 23 1-79 1 95 1-3 1-29 1-13 1 50 1-22 1-28 1 23 1 35 1-22 1 22 1-34 1 30 1-29 1-2 1 21 1-30 1 46 1-42 1-24 1 16 1 31 1-23 1 31 1-14 1-38 1 13 1-46 1 40 1 12 1-9 1 0 1-21 1 31 1 21 1-17 1 6 1 1 1-16 1-9 1 25 1-14 1-18 1 1 1-11 1 45 1-12 1 13 1-50 1 40 1-23 1 3 1-4 1 20 1-37 1 26 1-13 1-12 1 19 1 39 1-78 1 34 1 3 1-14 1 17 1 6 1-6 1 10 1 16 1-54 1 16 1 18 1 26 1-44 1 18 1 4 1-11 1-9 1-12 1 5 1-19 1 31 1-7 1-6 1-12 1 3 1 9 1 19 1 14 1-32 1-18 1 34 1 15 1-23 1-38 1 38 1 18 1-8 1-20 1 5 1-8 1-32 1 57 1-33 1-22 1 72 1-49 1 1 1 15 1 10 1-37 1 30 1-53 1 62 1-45 1 5 1 3 1 7 1 12 1 12 1 4 1-7 1-18 1 37 1-25 1-18 1-8 1 0 1-18 1 8 1 12 1-15 1 43 1-38 1 19 1-3 1 12 1 8 1-26 1-15 1 21 1 23 1 21 1-19 1-12 1-18 1-17 1 19 1 10 1-4 1-14 1 3 1 30 1 18 1-45 1 26 1 16 1 2 1-32 1-21 1 49 1-29 1 23 1-37 1-16 1 29 1-11 1 14 1 33 1-52 1 16 1-34 1-12 1 15 1 37 1-2 1-24 1-12 1 14 1 29 1-22 1-5 1 3 1-10 1 1 1 0 1-21 1 33 1-43 1 36 1 44 1-43 1-12 1-13 1-13 1 36 1 27 1-13 1-12 1-7 1 13 1-36 1 42 1-9 1-5 1 0 1 0 1-4 1 8 1-25 1 0 1 9 1 35 1-23 1 9 1-11 1 4 1-49 1 24 1-2 1-5 1 24 1 25 1-8 1 14 1-31 1-7 1-12 1 8 1 13 1-22 1 14 1-18 1 17 1-12 1-4 1 13 1 4 1-1 1 8 1-22 1 23 1-22 1 42 1-51 1 11 1-3 1-11 1 2 1 11 1 29 1-29 1 10 1-37 1 46 1-20 1 15 1-28 1 18 1 8 1 2 1 16 1-24 1-3 1-18 1 18 1-11 1 24 1-37 1 29 1-29 1 37 1-64 1 59 1-31 1 43 1-44 1 12 1-24 1 20 1-10 1 18 1 4 1-7 1-15 1 29 1 15 1 7 1-28 1 14 1-14 1-12 1-12 1 5 1 4 1-18 1 31 1-6 1-10 1 12 1-16 1-2 1-22 1 33 1-8 1 6 1-10 1 6 1-33 1 34 1-11 1 14 1 13 1-6 1-3 1-11 1 7 1-30 1 13 1 13 1-13 1-4 1 1 1 19 1-9 1-12 1 3 1 29 1-34 1 44 1-46 1-6 1 22 1-18 1 15 1 3 1 6 1-35 1 35 1-18 1 45 1-21 1-42 1 43 1-47 1 25 1 14 1-22 1 17 1-9 1 1 1-64 1 46 1-23 1 19 1 2 1-15 1-4 1 21 1-3 1 28 1-12 1 13 1-40 1 10 1-30 1 21 1-5 1 13 1 6 1-8 1-8 1 25 1 4 1-24 1 19 1 6 1-27 1 32 1-41 1 28 1 0 1-10 1-10 1 24 1-6 1 25 1 7 1-50 1 6 1 3 1-34 1 40 1-37 1 30 1-6 1 24 1-33 1 30 1-16 1-4 1 12 1-2 1 8 1-41 1 21 1 9 1-7 1-1 1-1 1-23 1-9 1 69 1-59 1 28 1-8 1-31 1 31 1 3 1-23 1 8 1 47 1-50 1-9 1-8 1 35 1-23 1 7 1-11 1 26 1-46 1 5 1 11 1 11 1-29 1 35 1-12 1-14 1 23 1-22 1 9 1 3 1 3 1-20 1-6 1 30 1 18 1-27 1-1 1 9 1-44 1 45 1-34 1 16 1 30 1-22 1 11 1-26 1-10 1 25 1-10 1 43 1-8 1-43 1 21 1-1 1-34 1 31 1-14 1 29 1-19 1 15 1 3 1-23 1-10 1-5 1 5 1 14 1 11 1-17 1 3 1-9 1 21 1-18 1-3 1 8 1-4 1-3 1 10 1-2 1-45 1-2 1 50 1-7 1-6 1 38 1-23 1-71 1 80 1-17 1 0 1 1 1 17 1-24 1-6 1 26 1-16 1 16 1-38 1 22 1-10 1-7 1-3 1 4 1 16 1 6 1 13 1-45 1 62 1-34 1 33 1-20 1 10 1-24 1-16 1 27 1-9 1-39 1 49 1 8 1-29 1 14 1-40 1-1 1 28 1 17 1-7 1-36 1 12 1 50 1-32 1 2 1-4 1 11 1-16 1-24 1 23 1-1 1 1 1 15 1-7 1 2 1 20 1-8 1-11 1-19 1 26 1-37 1 38 1 29 1-52 1 67 1-24 1-67 1 43 1-35 1 21 1 13 1-17 1-3 1 8 1-10 1-8 1 31 1-10 1-11 1 13 1 20 1 6 1-26 1 10 1-15 1-11 1 17 1-6 1 6 1-11 1 23 1-6 1-8 1-3 1 27 1-22 1 5 1 5 1-32 1 4 1-7 1 49 1-38 1-2 1-12 1 63 1-44 1 50 1-38 1-33 1 38 1-2 1-30 1 14 1 13 1 18 1-7 1-18 1-1 1 23 1-27 1 22 1 24 1-68 1 16 1 13 1 10 1 7 1-29 1 0 1 23 1 0 1-18 1 19 1 53 1-98 1 17 1 2 1 21 1-21 1-3 1 18 1 14 1-29 1 40 1-15 1-23 1-20 1 28 1-14 1 33 1-55 1 35 1 4 1-23 1 44 1-18 1-27 1 26 1 7 1-9 1 33 1-58 1 28 1-16 1 6 1 19 1 1 1-6 1-15 1-2 1 1 1 4 1-11 1 25 1-11 1 24 1-32 1 15 1-7 1 14 1 14 1-17 1 8 1-32 1 13 1-12 1 9 1 20 1-27 1 42 1-40 1 13 1-32 1 51 1-4 1-8 1-2 1 6 1 10 1-44 1 26 1-3 1 25 1-24 1-3 1 14 1 10 1-6 1-24 1 10 1 28 1-27 1-11 1 50 1-5 1-51 1 20 1 15 1-27 1 27 1 10 1-7 1-38 1 43 1-22 1 19 1-13 1-14 1-10 1 39 1 34 1-43 1-9 1 3 1 10 1-11 1 19 1 9 1-32 1 14 1-9 1-23 1 13 1 33 1-13 1-20 1 31 1-50 1 39 1 14 1-61 1 42 1-3 1 30 1-36 1-26 1 30 1 33 1-33 1 15 1-23 1 16 1 14 1-11 1 26 1-27 1 11 1-12 1 19 1-43 1 27 1 10 1-21 1 34 1 3 1-23 1-8 1 2 1 13 1 6 1-24 1 16 1-24 1 39 1-13 1-10 1 7 1-3 1 14 1-17 1 14 1 0 1-6 1-5 1 25 1-30 1 23 1-52 1 60 1 20 1-9 1-13 1-41 1 36 1 10 1-39 1 16 1 16 1-6 1-9 1-9 1 5 1-12 1-16 1 77 1-35 1-31 1-53 1 33 1 34 1-9 1 36 1-9 1-12 1-22 1 5 1 27 1 3 1-9 1 16 1 16 1-75 1 49 1 21 1-2 1-16 1-19 1 25 1 9 1-61 1 32 1 58 1-42 1-2 1-6 1-6 1-13 1 2 1 65 1-21 1-54 1 8 1 39 1-2 1-4 1-17 1-9 1 28 1-22 1-30 1 42 1-18 1 6 1 8 1-17 1 16 1-5 1 14 1 36 1-28 1-12 1 28 1 3 1-26 1 9 1 59 1-66 1 5 1 5 1-17 1 22 1-35 1 21 1-22 1 14 1 7 1 13 1-10 1 14 1-38 1 0 1 16 1-23 1 32 1 26 1-36 1 50 1-34 1-21 1 45 1-19 1 3 1-27 1-6 1-7 1 8 1 8 1-24 1 43 1-20 1 6 1 36 1-19 1-10 1-15 1 8 1-14 1 23 1 16 1-9 1 0 1-77 1 101 1-20 1-29 1 32 1 11 1-9 1-14 1 3 1 15 1-21 1-15 1 35 1-28 1-4 1-4 1 2 1 24 1 76 1-112 1 49 1 7 1-38 1 22 1 10 1-4 1-39 1 21 1 45 1-15 1-78 1 11 1 22 1 45 1-10 1-10 1-6 1 6 1-3 1 30 1-23 1 8 1-1 1-25 1 13 1-5 1-8 1 11 1 38 1-38 1-7 1 17 1-11 1 21 1-22 1 3 1 19 1-6 1-27 1-1 1 2 1-6 1 5 1 30 1 11 1 36 1-64 1 47 1-13 1-30 1 35 1-25 1 1 1-2 1 3 1-13 1 29 1 11 1-68 1 36 1 4 1 27 1-45 1 14 1-3 1 32 1-18 1-18 1 5 1-1 1 25 1-21 1 8 1 27 1-12 1 11 1-15 1-11 1 28 1-44 1 53 1 1 1-41 1 38 1-23 1-17 1 28 1-3 1 8 1-19 1 19 1 39 1-49 1 11 1-34 1 28 1-35 1 50 1 4 1 1 1-34 1-15 1 46 1 33 1-32 1-22 1 0 1-12 1 13 1 25 1 16 1-3 1-42 1 17 1 9 1-40 1 38 1 7 1-2 1-3 1-21 1 10 1-15 1 12 1 32 1-28 1-30 1 88 1-28 1-1 1-8 1-6 1-11 1 32 1 3 1-30 1 15 1-8 1-22 1 35 1-26 1 9 1 0 1 9 1-5 1-15 1 12 1-14 1 2 1 34 1-31 1 1 1 46 1-50 1 0 1 11 1-5 1 31 1-18 1 43 1-56 1 12 1 8 1-13 1 17 1 54 1-51 1 11 1-39 1 9 1 1 1 36 1-29 1-1 1 0 1 17 1 17 1 21 1-51 1 26 1-37 1 25 1 28 1-20 1 5 1 25 1-16 1-20 1 0 1-11 1-2 1-26 1 42 1-23 1 24 1 15 1-34 1-6 1 11 1 25 1-7 1-79 1 80 1 18 1-15 1-1 1-20 1 27 1 0 1-39 1 19 1 18 1-12 1 5 1-4 1 9 1 19 1-24 1 16 1-13 1-36 1 48 1-1 1-22 1 31 1-21 1 10 1 10 1-24 1 25 1-12 1 21 1-32 1-1 1-1 1 16 1-2 1-21 1 8 1 41 1-23 1-25 1 37 1-31 1 26 1 0 1 17 1-20 1 6 1 21 1-18 1-19 1 5 1-28 1-13 1 39 1-2 1 34 1-49 1 47 1-11 1-3 1 21 1-73 1 22 1 31 1 25 1-39 1 23 1-28 1-13 1 47 1-11 1-26 1 29 1-21 1 20 1-1 1 5 1 6 1 7 1-27 1-3 1 30 1 6 1-23 1-1 1 28 1-19 1-16 1 17 1-5 1 44 1-40 1 27 1-43 1 6 1 18 1-35 1-12 1 32 1 5 1 17 1-23 1 33 1-19 1-37 1 45 1-1 1-19 1 27 1-42 1 28 1-9 1 7 1 13 1-2 1-15 1 11 1 15 1-10 1-6 1 35 1-15 1 4 1-67 1 9 1 45 1-13 1 38 1-1 1-41 1 5 1 14 1 7 1 30 1-24 1-21 1 19 1 17 1-17 1-17 1 27 1-19 1-14 1 29 1-1 1-13 1-34 1 29 1 33 1-60 1 53 1-18 1-3 1 31 1-1 1-2 1-49 1 9 1-5 1 48 1-4 1-12 1 12 1 16 1-28 1-13 1 19 1-3 1 8 1-21 1-14 1 28 1-3 1 16 1-12 1 12 1-58 1 55 1 0 1-3 1-21 1 5 1 35 1-32 1 38 1-46 1 7 1 21 1-29 1 28 1-9 1 10 1 10 1-21 1 1 1-3 1-18 1 31 1-1 1 27 1-24 1 2 1 2 1 53 1-44 1 25 1-29 1 6 1 5 1-31 1 13 1-4 1 20 1-15 1 19 1 5 1-9 1-46 1 59 1-59 1 26 1 34 1-4 1-5 1-18 1 21 1-20 1-22 1-13 1 55 1-25 1 27 1 22 1-15 1 13 1-42 1-26 1 39 1 12 1-10 1 24 1-2 1-21 1 25 1-42 1 23 1-28 1 22 1-11 1 37 1-24 1-6 1 6 1 10 1-7 1-12 1-7 1 25 1-5 1-22 1 39 1-8 1 16 1-31 1 11 1-7 1-14 1 16 1-13 1 44 1-40 1-4 1-8 1 34 1 9 1 10 1-21 1 15 1-13 1-27 1 32 1-32 1 35 1-15 1 14 1 7 1-25 1 20 1 2 1-10 1 15 1-6 1 13 1-16 1 20 1-33 1 44 1-47 1 34 1-18 1 14 1-1 1-21 1 15 1-3 1 36 1-46 1 38 1-11 1-34 1 28 1-17 1 20 1-17 1 21 1 1 1-35 1 18 1-10 1 2 1 18 1-6 1-24 1 23 1-7 1 10 1-7 1-18 1 17 1 13 1-28 1-7 1 14 1 3 1 20 1-2 1-21 1-12 1 22 1-4 1 26 1-22 1 16 1-41 1 37 1 12 1-11 1-18 1 23 1 3 1-2 1-11 1 11 1-4 1-18 1 39 1-14 1 0 1-6 1 28 1-31 1-5 1 28 1-5 1-26 1-22 1 24 1 2 1 8 1-4 1 18 1-19 1 3 1 12 1-1 1 17 1-8 1 1 1-24 1-13 1 38 1 17 1-41 1 14 1-12 1 14 1-17 1-4 1 15 1 14 1 4 1 15 1-31 1-4 1 8 1-14 1 32 1-9 1 2 1-4 1-9 1 24 1-20 1 1 1-5 1 33 1-52 1 8 1 21 1 12 1-13 1-10 1-6 1-9 1 14 1 0 1-18 1-2 1 17 1 13 1-12 1 10 1 2 1-2 1-32 1 57 1-14 1 2 1-7 1 10 1-7 1-14 1 38 1-15 1 3 1-3 1-16 1 9 1 4 1 6 1-11 1-7 1-11 1 28 1-1 1-32 1 25 1-1 1 15 1-29 1 1 1-18 1 36 1 10 1-12 1 19 1-34 1 10 1 3 1-3 1 21 1-27 1-11 1 20 1-7 1 5 1 7 1-18 1 29 1-20 1 27 1-24 1-31 1 20 1 4 1 16 1 0 1-16 1 11 1 30 1-36 1 10 1 18 1-42 1 18 1 2 1 28 1-10 1-19 1-5 1 7 1-3 1-21 1 75 1-42 1-13 1 11 1 7 1-26 1 26 1-14 1 26 1-3 1-23 1 18 1-28 1 36 1-23 1 9 1-34 1 14 1 15 1-11 1-13 1-12 1 59 1-12 1-27 1 32 1 16 1-19 1 2 1-8 1-10 1 14 1-15 1 15 1 15 1 2 1-15 1-28 1 45 1-20 1-24 1 32 1-9 1 4 1 18 1-10 1-23 1 44 1-30 1-6 1 2 1-8 1 30 1-21 1 30 1-33 1 35 1-33 1-13 1 15 1 11 1 7 1 2 1-8 1 6 1-11 1 29 1-10 1-9 1-9 1 13 1-14 1-17 1 0 1 9 1 21 1-8 1 6 1 4 1-16 1 19 1-14 1-7 1 28 1-25 1-25 1 12 1 51 1-37 1 24 1-2 1-29 1 28 1-9 1 35 1-43 1-9 1 23 1-29 1 11 1 3 1 14 1 6 1-18 1 35 1-41 1 29 1-20 1-23 1 35 1 6 1-25 1-3 1 12 1 2 1-12 1-8 1 29 1-11 1-12 1 7 1 17 1-14 1-4 1 35 1-19 1-6 1 39 1-26 1-14 1-31 1 45 1-16 1 1 1-8 1 32 1-14 1-2 1 30 1-15 1-24 1 22 1-29 1 18 1-11 1 28 1 16 1-26 1-17 1-7 1-13 1 43 1-43 1 19 1 39 1-25 1-15 1-15 1 27 1 53 1-37 1-28 1 25 1-12 1 0 1 4 1-18 1 13 1-32 1 22 1-51 1 60 1 18 1-16 1 16 1-11 1-39 1 34 1-8 1 8 1-9 1-6 1 2 1 32 1-19 1 31 1-26 1 14 1 4 1-11 1-7 1 11 1-35 1 50 1-22 1 15 1-19 1 25 1-7 1-29 1 18 1 9 1-28 1 13 1-9 1 32 1-32 1 16 1 18 1 4 1-29 1 7 1 20 1-50 1 33 1 28 1-23 1-10 1-3 1 5 1-5 1 16 1-7 1-18 1 30 1-10 1-10 1-5 1 13 1 11 1-8 1 4 1 2 1-8 1 5 1-20 1 4 1 7 1-2 1-11 1 6 1 20 1-16 1-12 1 22 1 13 1-17 1 5 1 17 1-8 1-22 1 14 1 17 1-9 1 5 1-19 1 4 1 18 1-10 1-12 1-3 1 22 1 6 1-21 1-2 1-15 1 9 1 30 1-37 1 23 1-1 1-6 1 16 1-18 1 15 1 2 1 9 1-12 1-12 1-8 1 11 1 2 1 5 1-14 1 9 1 24 1-10 1-23 1 34 1-6 1-34 1 25 1 10 1 1 1-27 1 19 1-5 1 25 1-18 1-7 1 22 1-52 1 24 1 6 1-17 1 46 1-35 1-3 1-3 1 12 1-16 1 6 1 1 1-7 1-9 1 9 1 23 1-8 1 11 1-21 1 4 1-2 1 23 1-8 1 0 1 6 1-9 1 5 1-4 1 18 1-10 1-15 1 10 1-4 1-1 1 5 1-9 1 9 1-14 1 13 1-32 1 44 1-8 1 10 1-24 1 1 1 6 1 3 1 9 1-8 1 9 1-18 1 4 1 11 1-7 1-3 1-24 1 20 1-13 1 3 1 9 1 1 1 7 1 14 1-18 1 25 1-14 1 30 1-57 1 21 1 10 1 0 1-16 1 12 1 15 1-19 1 9 1 2 1-14 1 45 1-28 1 0 1-19 1 11 1 20 1-38 1 5 1 27 1-9 1-9 1-8 1 2 1 14 1 3 1 12 1-15 1 5 1-18 1 33 1-29 1 12 1-14 1 1 1 3 1 14 1 4 1 7 1-31 1 19 1-11 1-2 1-7 1 2 1 7 1 28 1-34 1-6 1 38 1-28 1 7 1 1 1 21 1-19 1-31 1 7 1 26 1-13 1 16 1-4 1-7 1 5 1 0 1-11 1 26 1-18 1 2 1 12 1-17 1 1 1-4 1 33 1-10 1-7 1-7 1 14 1-19 1-12 1 10 1-5 1-10 1 22 1 7 1 16 1 18 1-41 1 9 1-19 1 10 1 6 1 9 1-41 1 32 1-19 1 5 1 16 1-1 1-22 1 19 1-11 1 1 1 1 1-14 1 19 1 0 1-13 1 25 1-7 1 5 1 10 1-20 1 19 1 5 1-6 1-15 1 10 1 12 1-10 1-16 1-4 1 16 1-3 1 8 1-20 1 6 1 2 1-13 1 8 1 14 1-7 1-6 1-18 1 44 1-15 1 1 1 20 1-25 1 0 1-4 1 9 1-27 1 33 1-7 1 1 1-4 1-2 1 3 1 17 1-24 1 24 1-3 1-16 1-4 1 23 1-31 1 3 1 34 1-2 1-5 1 10 1-37 1 19 1 3 1 0 1 6 1-35 1 20 1-8 1-23 1 42 1 5 1-6 1-4 1-3 1-3 1-4 1 18 1 7 1 2 1-18 1-7 1 8 1 17 1-27 1-3 1 22 1 11 1-35 1-3 1 52 1-19 1 11 1-19 1-2 1 12 1-34 1 22 1-3 1 2 1-22 1 4 1 28 1-7 1 14 1-28 1 33 1-15 1-16 1 23 1-26 1 12 1 0 1 9 1 9 1-41 1 36 1-26 1-6 1 21 1 3 1-4 1-10 1 1 1 20 1 3 1 10 1-36 1 15 1-4 1 0 1-4 1 4 1 14 1-34 1 35 1 1 1-25 1-8 1 28 1-26 1-12 1 11 1 15 1 3 1 13 1-17 1 6 1-1 1-4 1 16 1 10 1-21 1 14 1-21 1 27 1-14 1-3 1 15 1-26 1 10 1-9 1-2 1 15 1-13 1 10 1 11 1-15 1 34 1-27 1-12 1 3 1 16 1-6 1-28 1 17 1-1 1-6 1 18 1 6 1-23 1-1 1 12 1 20 1 12 1-36 1 15 1-15 1 8 1-16 1 14 1 6 1-12 1 11 1 12 1-23 1 10 1-4 1 8 1-6 1-5 1 17 1-28 1 24 1-13 1 12 1-8 1 18 1-30 1 27 1 11 1-36 1 5 1 12 1-19 1 6 1 24 1-26 1 19 1 4 1 1 1-3 1-16 1 15 1-19 1 2 1 10 1-24 1 18 1 3 1 28 1-17 1-22 1 31 1-7 1-5 1-16 1 22 1-17 1 5 1 0 1 2 1 9 1-20 1 16 1 1 1-12 1 11 1 6 1-18 1 11 1-9 1 48 1-43 1 24 1-12 1-3 1 8 1-18 1-8 1 1 1-14 1 32 1 0 1 16 1-32 1 15 1 13 1-9 1-34 1 26 1-8 1 3 1 7 1-8 1 13 1-4 1 20 1-13 1-10 1 3 1 7 1-13 1 10 1-9 1-29 1 26 1 26 1-22 1 28 1-27 1 26 1-33 1 19 1-17 1-14 1 11 1 13 1 10 1-14 1 1 1 18 1-8 1-14 1-10 1-8 1 29 1 5 1-24 1 11 1 7 1 3 1-19 1 18 1-13 1 14 1-12 1 29 1-52 1 25 1 18 1-27 1 9 1-7 1 7 1 5 1 10 1-27 1 7 1 7 1 8 1 11 1-40 1 10 1 3 1-14 1 18 1 22 1-8 1-21 1 1 1 6 1 19 1-20 1 2 1 15 1-7 1 7 1-25 1 30 1-14 1-9 1 4 1 10 1 10 1-28 1 7 1-4 1 9 1 14 1-19 1 50 1-35 1 1 1-8 1-4 1-10 1 0 1 15 1 0 1 4 1 13 1-12 1-24 1 16 1 17 1-31 1 5 1 17 1-4 1 0 1-18 1 30 1-1 1-1 1-19 1 17 1-3 1 19 1-33 1 12 1-5 1-5 1-7 1 8 1 2 1-11 1 23 1-14 1 4 1 5 1-2 1 22 1-12 1 2 1 10 1-31 1 24 1 6 1-8 1 18 1-35 1 16 1-3 1 18 1-22 1-6 1 13 1-23 1-5 1 22 1-24 1 10 1 24 1-9 1-2 1-18 1 19 1-5 1 18 1-20 1 32 1-26 1 6 1-29 1 7 1 1 1 3 1 23 1-7 1 10 1-20 1-9 1 20 1-13 1 12 1 8 1-24 1-11 1 20 1-1 1 15 1-2 1-1 1 1 1-20 1 9 1 5 1 16 1-32 1 1 1 8 1-5 1 3 1 13 1-21 1 24 1 10 1-25 1 4 1 5 1-12 1-5 1 37 1-6 1 5 1 16 1-29 1 10 1-16 1 16 1-29 1 41 1-12 1-11 1-1 1-8 1 7 1-5 1 11 1-19 1 15 1 14 1-15 1-2 1 1 1-1 1-7 1 13 1 0 1-11 1 6 1 2 1-12 1 15 1-29 1 22 1-9 1 21 1-16 1 4 1 16 1-33 1 26 1-3 1 11 1-9 1 1 1-15 1 18 1-27 1 1 1 27 1-29 1 11 1 3 1-10 1 26 1 5 1 5 1-20 1-15 1 5 1 25 1-29 1 10 1-2 1 5 1 10 1-22 1 10 1 6 1 3 1-7 1 12 1-12 1 21 1-36 1 47 1-35 1 12 1-13 1-7 1 3 1 9 1-4 1-6 1 13 1 19 1-19 1-2 1-16 1 3 1 11 1 19 1-31 1-2 1 32 1-38 1 9 1 19 1 1 1 0 1 4 1 1 1 2 1-21 1 0 1 2 1 7 1 3 1-18 1 4 1 21 1-20 1 15 1 0 1-12 1 5 1 4 1 6 1 2 1-23 1 3 1 3 1-12 1 35 1-29 1 6 1 29 1-42 1 5 1 2 1 16 1 9 1-18 1-14 1 26 1-4 1-9 1-4 1-9 1 14 1-3 1 5 1 11 1 5 1-4 1-6 1-8 1 31 1-40 1 17 1 21 1-40 1 31 1-13 1 3 1-26 1 16 1 38 1-31 1 21 1-28 1 8 1-10 1 13 1-3 1 1 1 8 1-28 1-2 1 38 1-21 1-4 1 20 1 8 1-3 1-13 1 0 1-12 1-8 1 16 1-11 1-2 1 11 1 27 1-28 1-7 1 7 1 4 1-7 1-8 1 26 1-7 1-10 1 15 1-20 1-2 1 6 1 9 1 16 1-21 1 9 1 1 1 5 1-20 1 18 1-35 1 16 1 9 1 1 1 5 1-28 1 23 1 9 1-11 1 12 1 0 1-26 1 2 1 14 1-11 1 12 1 22 1-9 1-15 1-3 1-2 1-4 1 11 1 1 1 33 1-34 1-21 1 54 1-43 1 22 1-6 1-5 1-15 1 3 1 11 1-16 1 18 1-12 1 6 1-1 1 12 1-1 1 3 1-4 1-7 1 4 1 8 1-7 1 7 1-35 1 20 1 8 1 12 1-18 1-2 1 10 1 9 1-16 1 1 1 4 1-13 1 3 1 9 1-6 1-19 1 42 1-15 1 3 1-7 1-2 1-7 1-4 1 24 1-11 1 8 1-12 1 10 1 5 1-1 1-2 1-14 1 16 1-5 1-13 1 12 1-28 1 22 1-2 1-12 1 20 1-11 1 2 1-4 1-2 1 8 1 9 1-11 1 2 1-13 1 28 1-16 1 4 1-39 1 24 1 3 1 16 1-8 1-21 1 24 1-3 1 12 1-10 1 0 1 18 1-33 1 16 1 3 1 23 1-29 1-1 1 3 1-6 1 4 1-4 1 32 1-29 1 7 1-14 1 29 1-13 1 2 1-11 1 19 1-13 1-4 1 10 1 6 1-15 1 16 1 1 1-29 1 22 1-13 1 18 1-13 1-1 1 2 1 4 1 6 1-8 1-1 1-3 1 9 1-16 1 5 1 15 1-11 1 10 1-13 1 12 1 0 1-7 1 0 1 0 1 1 1 2 1 15 1-18 1 18 1-22 1 15 1-19 1 4 1 2 1-9 1 22 1 4 1-1 1-29 1 18 1 3 1-25 1 35 1 3 1 3 1-23 1 8 1-7 1-11 1 11 1-4 1-4 1 15 1-8 1 6 1 3 1-4 1 9 1-3 1-7 1 0 1 1 1 7 1-12 1 5 1-6 1 5 1-11 1-7 1-23 1 41 1 2 1-5 1 17 1-19 1 2 1 27 1-20 1 2 1 0 1-13 1 5 1 11 1 1 1-8 1-13 1 6 1 13 1-2 1-18 1 9 1 3 1-11 1 22 1-13 1 2 1-29 1 34 1 5 1 1 1-15 1 5 1-13 1 19 1-14 1-9 1 11 1 18 1-12 1 13 1-20 1-1 1-15 1 9 1 9 1 11 1-10 1-9 1 19 1-10 1 21 1-5 1 4 1-25 1-2 1 2 1 16 1-16 1 16 1 18 1-32 1 9 1 21 1-13 1-10 1 0 1-5 1 1 1-14 1 15 1-2 1 14 1-6 1 1 1 18 1-8 1-16 1 4 1 3 1-2 1 10 1-4 1 3 1-3 1-19 1-5 1 13 1-5 1-7 1 39 1-13 1-18 1-12 1 24 1-6 1 17 1-17 1-6 1 11 1 8 1-7 1-1 1-6 1 16 1-12 1 0 1-1 1 9 1-3 1 0 1 0 1-4 1-14 1 6 1 3 1-3 1 9 1 0 1 2 1-7 1 0 1-49 1 41 1-5 1 4 1 24 1-31 1 29 1-5 1-2 1-7 1 16 1-14 1-9 1-12 1 16 1 15 1-12 1-14 1 11 1 5 1-3 1-10 1 19 1 5 1-29 1-2 1 37 1-32 1 16 1-23 1 5 1-15 1 27 1 18 1-8 1-14 1 2 1 3 1-1 1 13 1-14 1-8 1 17 1 16 1-51 1 36 1 12 1-17 1 6 1 2 1 4 1-3 1-9 1 8 1-11 1-5 1 12 1 7 1-21 1 20 1-3 1-15 1 26 1-27 1 14 1-11 1 12 1-2 1 7 1-9 1 9 1 11 1-53 1 53 1-6 1-17 1-2 1 11 1 13 1-17 1 5 1-18 1 24 1-14 1-2 1 1 1 4 1-22 1 21 1 1 1-3 1 20 1 1 1-23 1 2 1 15 1-26 1 11 1 2 1 9 1-14 1-1 1-5 1 5 1-3 1 9 1 16 1-30 1 26 1-2 1 2 1-29 1 35 1 2 1-3 1-35 1 15 1 12 1 8 1-4 1-15 1 21 1-18 1 9 1-10 1-12 1 12 1-4 1 2 1-6 1 7 1 15 1-5 1-8 1 12 1-26 1 15 1 6 1 1 1-1 1 2 1 0 1-12 1 2 1 3 1 1 1-12 1-2 1 15 1-12 1-2 1 1 1 7 1-1 1 8 1 4 1-3 1 10 1-25 1 11 1 5 1-5 1 13 1-22 1 16 1 2 1-10 1 28 1-24 1-26 1 19 1 17 1-23 1 20 1-22 1 28 1-13 1-5 1 7 1-5 1-6 1 6 1 0 1 14 1 13 1-21 1-4 1-9 1-3 1 1 1 8 1-7 1 8 1 18 1-16 1 10 1 1 1-34 1 21 1-2 1-3 1 16 1-17 1-5 1 25 1-19 1-5 1 14 1-15 1 4 1-1 1-4 1 8 1-7 1 21 1-12 1-14 1 4 1 12 1 2 1 14 1 1 1-26 1 13 1-22 1-23 1 29 1 8 1 7 1 1 1 9 1-3 1-8 1 11 1 14 1-12 1 0 1 0 1-34 1 11 1-4 1 7 1 19 1-23 1 7 1-2 1 8 1-7 1 21 1-23 1 15 1-14 1 3 1-2 1 12 1-11 1 4 1 3 1-5 1-6 1-13 1 20 1 6 1 15 1-10 1-11 1 0 1-6 1 10 1 7 1-15 1 0 1 22 1-8 1 3 1-6 1 0 1-17 1 12 1 48 1-43 1 1 1-9 1 29 1-20 1 11 1-23 1 6 1 20 1-37 1 31 1-2 1-10 1-14 1 21 1 13 1-27 1-2 1 0 1 2 1 28 1-40 1 7 1 42 1-15 1-11 1-16 1 13 1-14 1 4 1 6 1 12 1-18 1 23 1-15 1-8 1 14 1-10 1 0 1 5 1 2 1-24 1 23 1-15 1 5 1 7 1 8 1 8 1-32 1 18 1-5 1-5 1 17 1-12 1 19 1 3 1-13 1 1 1-11 1 17 1-11 1 16 1-3 1-27 1 27 1-15 1 13 1-5 1-3 1-8 1-18 1 41 1-17 1-8 1 5 1 11 1 7 1-29 1-13 1 39 1 18 1-17 1-4 1-19 1 12 1 9 1 5 1-23 1 2 1-9 1 10 1-2 1 31 1-27 1-1 1 13 1-11 1 11 1-27 1 15 1 8 1 6 1-4 1-35 1 20 1 0 1 1 1-5 1 8 1-9 1 2 1 10 1-1 1 16 1-19 1 13 1-13 1-6 1 3 1 26 1 1 1-19 1 6 1-15 1-28 1 30 1 9 1-4 1 8 1-7 1-1 1 5 1 0 1-37 1 50 1-24 1 12 1 2 1-28 1 10 1 7 1-4 1 6 1 9 1-9 1-4 1 14 1-1 1 3 1-11 1 12 1-23 1 14 1 10 1-4 1-4 1-3 1 2 1-12 1 29 1-7 1 2 1-22 1 14 1 8 1-28 1 9 1 12 1-5 1-8 1 23 1-18 1 17 1-31 1 18 1-4 1 15 1-19 1 4 1 3 1 16 1-9 1-10 1 0 1 7 1-18 1 15 1-16 1 19 1-11 1 14 1-6 1 12 1 8 1-43 1 15 1-3 1 12 1 2 1-27 1 4 1 36 1-29 1 1 1 3 1 15 1-7 1-8 1 17 1 1 1-18 1 19 1-37 1 25 1 5 1-12 1 8 1 5 1-12 1 14 1-24 1 2 1 20 1 6 1-15 1-2 1-25 1 39 1-8 1-4 1 6 1 2 1 2 1-1 1 25 1-40 1 1 1-2 1 16 1-8 1 3 1-4 1 16 1-38 1 37 1 0 1 0 1-3 1-2 1-10 1 11 1 4 1-7 1 10 1-10 1 0 1-1 1 2 1 5 1-19 1 10 1-15 1 20 1-27 1 19 1-5 1-9 1 9 1 2 1 7 1-7 1 19 1-10 1-11 1 21 1-22 1 19 1-10 1-4 1-11 1 11 1 2 1-6 1 32 1-26 1-18 1 24 1 0 1 2 1-20 1 15 1-11 1-8 1 21 1-4 1-7 1-3 1 11 1-4 1 1 1 11 1-1 1 3 1-14 1 10 1-10 1 22 1-23 1 9 1-3 1-2 1 0 1 3 1-27 1 37 1 6 1-12 1-31 1 16 1 32 1-18 1 16 1-9 1-12 1 2 1-18 1 48 1-37 1 5 1-4 1 5 1-28 1 66 1-31 1-9 1-12 1 38 1-23 1 0 1-2 1-11 1 9 1-17 1 15 1 21 1-14 1 6 1-21 1 13 1-13 1 12 1 5 1-9 1-9 1 6 1 13 1-21 1 7 1 23 1-10 1 9 1-20 1-6 1 19 1 3 1-6 1-7 1 20 1-24 1 22 1-20 1 2 1-1 1 9 1-19 1 10 1 0 1-2 1 11 1 5 1-4 1-6 1 26 1-36 1 13 1 6 1-19 1 0 1 14 1 35 1-62 1 33 1-27 1 18 1 20 1-11 1-7 1-14 1 30 1-21 1 17 1 1 1-5 1 3 1-9 1-4 1 22 1-16 1 8 1-3 1 8 1-35 1 15 1-3 1 16 1 14 1-26 1 16 1-17 1 9 1-21 1 11 1 3 1 16 1-14 1 5 1-4 1 2 1-20 1 1 1 17 1 2 1-10 1-12 1 18 1-11 1 20 1-26 1 13 1-22 1 31 1-12 1 9 1-2 1-2 1-13 1 19 1 7 1-8 1-3 1 24 1-3 1-17 1-14 1 11 1-9 1 13 1-3 1-17 1 30 1-10 1-3 1-7 1 18 1-4 1 3 1-21 1-12 1 44 1-17 1-16 1 9 1-8 1 11 1-8 1-3 1 3 1 12 1 2 1-18 1 30 1-6 1-5 1-6 1-4 1-14 1 13 1 5 1 1 1 3 1-7 1 18 1-10 1-27 1 61 1-42 1 9 1-12 1 2 1-5 1 9 1-30 1 42 1-25 1 11 1 7 1-15 1-1 1-3 1-2 1 25 1-15 1 9 1-2 1 9 1-29 1 29 1-15 1 4 1-11 1 14 1 19 1-23 1-13 1 12 1-7 1 23 1-19 1 1 1 21 1-41 1 6 1 29 1-18 1 24 1-24 1 3 1-1 1 11 1-3 1 3 1-14 1 5 1 0 1 18 1-31 1 14 1 20 1-18 1-5 1-4 1 10 1 7 1-2 1-9 1 10 1 11 1-16 1-21 1 12 1 22 1-19 1 14 1-29 1 20 1 4 1-23 1 11 1 11 1 2 1 2 1-16 1 4 1-7 1 8 1 2 1 0 1-5 1-6 1 17 1-8 1 3 1 7 1 0 1-3 1-1 1 3 1 0 1-9 1 4 1-2 1 0 1 17 1-28 1 9 1-3 1 12 1-10 1 37 1-33 1 3 1 5 1-2 1 4 1-37 1 12 1-12 1 41 1 0 1-19 1 14 1-13 1-3 1 12 1-12 1 16 1-7 1 5 1-1 1-5 1 8 1-10 1 5 1 0 1-8 1-9 1-4 1 8 1 0 1 5 1 12 1-17 1 16 1-10 1 11 1 5 1-9 1-4 1 8 1-14 1-7 1 20 1-6 1 2 1 5 1-20 1-3 1-2 1 25 1-1 1-5 1 6 1-7 1 10 1-2 1 6 1-25 1 18 1-6 1-14 1 16 1-1 1-26 1 49 1-8 1-22 1-7 1 4 1-6 1 20 1-27 1-22 1 61 1-8 1-3 1-11 1-2 1-5 1-2 1 26 1-37 1 23 1 10 1 0 1-5 1-6 1 10 1 0 1-6 1 2 1 0 1-19 1 19 1 3 1-10 1-10 1 21 1-13 1-18 1 26 1-10 1 23 1-13 1-4 1 14 1-3 1-17 1 23 1-16 1 2 1 10 1-4 1 21 1-24 1-4 1-40 1 47 1-3 1-22 1 22 1-3 1 9 1-24 1 3 1-6 1 13 1 5 1 17 1-14 1 17 1-25 1-5 1-4 1 14 1-16 1 13 1 0 1 12 1-24 1-6 1 23 1 0 1-13 1 20 1-12 1 7 1 0 1-30 1 15 1 8 1-11 1 2 1 24 1-16 1 24 1-29 1 6 1 3 1-2 1 17 1-18 1 5 1-17 1 2 1 19 1 10 1-11 1-4 1-7 1-25 1 31 1-17 1 11 1-3 1-10 1 0 1 2 1-9 1 11 1 14 1 11 1-12 1 4 1-11 1 4 1-13 1 2 1 1 1 2 1 4 1-5 1 25 1-22 1-10 1 25 1-15 1 30 1-6 1-8 1-27 1 6 1 20 1-8 1-17 1 28 1 3 1-24 1 16 1-18 1 8 1-10 1 13 1-15 1 0 1 30 1-5 1-27 1 20 1-2 1-1 1-10 1 21 1-12 1 5 1-4 1 8 1 2 1-10 1-7 1 18 1 0 1-15 1 11 1-1 1 1 1-15 1 1 1 4 1 14 1-2 1 22 1-33 1 2 1 15 1-16 1 12 1-14 1 19 1-26 1 14 1-11 1 12 1 8 1-2 1-22 1 14 1-10 1 16 1-4 1-25 1 27 1-6 1 7 1-14 1 4 1-1 1 16 1-25 1 18 1 2 1 13 1-42 1 18 1 3 1 17 1-27 1 11 1-3 1-5 1 10 1-22 1 32 1-11 1 0 1-7 1 25 1-17 1-11 1-1 1 29 1-44 1 10 1 51 1-26 1-19 1 7 1 15 1-3 1-6 1 12 1-14 1-4 1 8 1-4 1 6 1 2 1 4 1-16 1-14 1 21 1-1 1 9 1 9 1-24 1-8 1 19 1 0 1-18 1 6 1-6 1 9 1 19 1-15 1-18 1-2 1 11 1 1 1 3 1 8 1-1 1 2 1 0 1-3 1-9 1 21 1-24 1 13 1 19 1-23 1 17 1-9 1-10 1 9 1-8 1 0 1 6 1-12 1 22 1-9 1-13 1 24 1-5 1 0 1-13 1 10 1-1 1-3 1 2 1 1 1-24 1 49 1-31 1 15 1-19 1-8 1 17 1-7 1 40 1-44 1 30 1-18 1-2 1-8 1 1 1-18 1 13 1-3 1 26 1-14 1-9 1-4 1 1 1 3 1-7 1 11 1-26 1 36 1-12 1 2 1-7 1 24 1-20 1 7 1-8 1 3 1 8 1-19 1 16 1 13 1-41 1 21 1 4 1-5 1 6 1 11 1-9 1-6 1-1 1 31 1-20 1 14 1-34 1 16 1-5 1-2 1 2 1 5 1 2 1 23 1-21 1 6 1-6 1-8 1 5 1 9 1 5 1-26 1 13 1 2 1 7 1-15 1 13 1-16 1 14 1-20 1 27 1-11 1 7 1 0 1 10 1-36 1 18 1-9 1 4 1 6 1 12 1-24 1-3 1 16 1-3 1-9 1-4 1 11 1-9 1 14 1-4 1-6 1 11 1-3 1-16 1 10 1 7 1-14 1 19 1-24 1 22 1-2 1 3 1 9 1-6 1 7 1-23 1 6 1 9 1-21 1 20 1-7 1 7 1-6 1-10 1-8 1 23 1-4 1-8 1 13 1-2 1-5 1-23 1 34 1-7 1 0 1-9 1 1 1 15 1-20 1 3 1 10 1 11 1-13 1-5 1 9 1-16 1 4 1-12 1 31 1-7 1-17 1 12 1-11 1 22 1-10 1-7 1-2 1-3 1 12 1-6 1-18 1 25 1 4 1-7 1-12" transform="translate(583.17 0) scale(0.2757 0.5)" fill="none" stroke="#120e0e" stroke-width="2.40" vector-effect="non-scaling-stroke" stroke-linejoin="round" />
</g>
<rect x="441.6" y="77" width="7.6" height="313" fill="#12120e"/>
<rect x="441.6" y="423" width="7.6" height="1330.5" fill="#12120e"/>
<rect x="414" y="1718.2" width="1964" height="5.2" fill="#12120e"/>
<rect x="414" y="76.8" width="35" height="5.6" fill="#12120e"/>
<rect x="414" y="391.3" width="30" height="5.4" fill="#12120e"/>
<rect x="414" y="852.8" width="30" height="5.4" fill="#12120e"/>
<rect x="414" y="1286.2" width="30" height="5.4" fill="#12120e"/>
<rect x="430.2" y="234.1" width="14" height="5.6" fill="#12120e"/>
<rect x="430.2" y="635.7" width="14" height="5.6" fill="#12120e"/>
<rect x="430.2" y="1069.0" width="14" height="5.6" fill="#12120e"/>
<rect x="430.2" y="1502.2" width="14" height="5.6" fill="#12120e"/>
<rect x="580.9" y="1720" width="4.6" height="16.8" fill="#12120e"/>
<rect x="718.1" y="1720" width="5.8" height="33.6" fill="#12120e"/>
<rect x="856.6" y="1720" width="4.6" height="16.8" fill="#12120e"/>
<rect x="993.9" y="1720" width="5.8" height="33.6" fill="#12120e"/>
<rect x="1132.4" y="1720" width="4.6" height="16.8" fill="#12120e"/>
<rect x="1269.6" y="1720" width="5.8" height="33.6" fill="#12120e"/>
<rect x="1408.1" y="1720" width="4.6" height="16.8" fill="#12120e"/>
<rect x="1545.4" y="1720" width="5.8" height="33.6" fill="#12120e"/>
<rect x="1683.8" y="1720" width="4.6" height="16.8" fill="#12120e"/>
<rect x="1821.1" y="1720" width="5.8" height="33.6" fill="#12120e"/>
<rect x="1959.6" y="1720" width="4.6" height="16.8" fill="#12120e"/>
<rect x="2096.8" y="1720" width="5.8" height="33.6" fill="#12120e"/>
<rect x="2235.3" y="1720" width="4.6" height="16.8" fill="#12120e"/>
<rect x="2372.6" y="1720" width="5.8" height="33.6" fill="#12120e"/>
<line x1="414.5" y1="405.2" x2="476.3" y2="381.3" stroke="#12120e" stroke-width="4.4"/>
<line x1="414.5" y1="435.4" x2="476.3" y2="408.6" stroke="#12120e" stroke-width="4.4"/>
<line x1="1491.0" y1="299.6" x2="1671" y2="299.6" stroke="#6a7756" stroke-width="2.7"/>
<line x1="1489.0" y1="406.3" x2="1671" y2="406.3" stroke="#b04a40" stroke-width="2.7"/>
<line x1="1491.0" y1="510.1" x2="1671" y2="510.1" stroke="#33385f" stroke-width="2.7"/>
<line x1="1489.0" y1="616.3" x2="1671" y2="616.3" stroke="#9d8c9d" stroke-width="2.7"/>
<line x1="1491.0" y1="720.3" x2="1671" y2="720.3" stroke="#141414" stroke-width="2.7"/>
<text transform="translate(209.7 98.3) scale(0.955 1)" font-size="68.5">26000</text>
<text transform="translate(208.2 412.2) scale(0.965 1)" font-size="68.5">20000</text>
<text transform="translate(243.5 875.4) scale(0.970 1)" font-size="68.5">2000</text>
<text transform="translate(247.2 1307.5) scale(0.945 1)" font-size="68.5">1000</text>
<text transform="translate(357.2 1739.7) scale(0.895 1)" font-size="68.5">0</text>
<text transform="translate(427.1 1828.3) scale(0.910 1)" font-size="71.3">0</text>
<text transform="translate(684.1 1828.3) scale(0.910 1)" font-size="71.3">10</text>
<text transform="translate(960.4 1828.3) scale(0.910 1)" font-size="71.3">20</text>
<text transform="translate(1236.5 1828.3) scale(0.910 1)" font-size="71.3">30</text>
<text transform="translate(1512.9 1828.3) scale(0.910 1)" font-size="71.3">40</text>
<text transform="translate(1788.0 1828.3) scale(0.910 1)" font-size="71.3">50</text>
<text transform="translate(2063.4 1828.3) scale(0.910 1)" font-size="71.3">60</text>
<text transform="translate(2339.1 1828.3) scale(0.910 1)" font-size="71.3">70</text>
<text transform="translate(1692.5 331.1) scale(0.890 1)" font-size="90.6">GO</text>
<text transform="translate(1692.5 435.9) scale(0.890 1)" font-size="90.6">C8W0</text>
<text transform="translate(1692.5 540.7) scale(0.890 1)" font-size="90.6">C8W1</text>
<text transform="translate(1692.5 645.5) scale(0.890 1)" font-size="90.6">C8W5</text>
<text transform="translate(1692.5 750.3) scale(0.890 1)" font-size="90.6">C8W20</text>
<text transform="translate(1107.9 1960.9) scale(0.943 1)" font-size="86.2">2 Theta (degree)</text>
<text transform="translate(119.2 1114.4) scale(0.917 1) rotate(-90)" font-size="85.5">Intensity (a.u.)</text>
</svg></body></html>
